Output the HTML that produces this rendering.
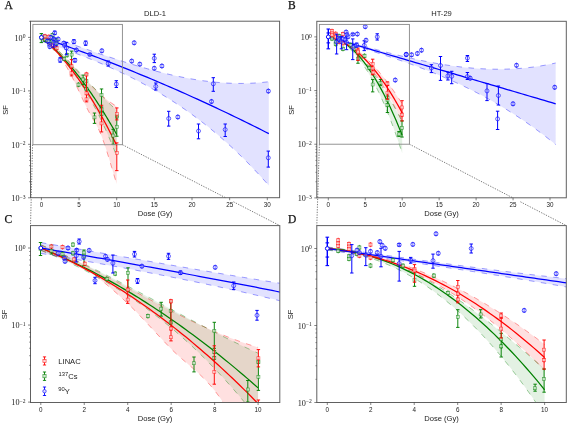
<!DOCTYPE html><html><head><meta charset="utf-8"><style>html,body{margin:0;padding:0;background:#fff;width:568px;height:424px;overflow:hidden}svg{display:block;will-change:transform}</style></head><body>
<svg width="568" height="424" viewBox="0 0 568 424" font-family='"Liberation Sans", sans-serif'>
<rect width="568" height="424" fill="#fff"/>
<defs>
<clipPath id="cA"><rect x="30.5" y="21.2" width="249.10000000000002" height="176.5"/></clipPath>
<clipPath id="cB"><rect x="316.8" y="21.3" width="249.49999999999994" height="176.5"/></clipPath>
<clipPath id="cC"><rect x="30.5" y="225.6" width="249.3" height="176.9"/></clipPath>
<clipPath id="cD"><rect x="316.8" y="225.6" width="249.49999999999994" height="176.9"/></clipPath>
</defs>
<g clip-path="url(#cA)">
<polygon points="41.40,33.66 45.19,34.94 48.98,36.23 52.77,37.53 56.56,38.84 60.35,40.16 64.14,41.47 67.93,42.79 71.72,44.12 75.51,45.44 79.30,46.76 83.09,48.08 86.88,49.39 90.67,50.70 94.46,52.00 98.25,53.30 102.04,54.59 105.83,55.86 109.62,57.12 113.41,58.37 117.20,59.61 120.99,60.83 124.78,62.03 128.57,63.21 132.36,64.38 136.15,65.52 139.94,66.64 143.73,67.73 147.52,68.81 151.31,69.85 155.10,70.87 158.89,71.85 162.68,72.81 166.47,73.73 170.26,74.62 174.05,75.48 177.84,76.30 181.63,77.08 185.42,77.83 189.21,78.53 193.00,79.19 196.79,79.81 200.58,80.39 204.37,80.92 208.16,81.40 211.95,81.84 215.74,82.23 219.53,82.56 223.32,82.85 227.11,83.08 230.91,83.25 234.70,83.37 238.49,83.43 242.28,83.44 246.07,83.38 249.86,83.26 253.65,83.08 257.44,82.84 261.23,82.53 265.02,82.15 268.81,81.71 268.81,185.51 265.02,181.22 261.23,177.02 257.44,172.91 253.65,168.88 249.86,164.94 246.07,161.08 242.28,157.31 238.49,153.62 234.70,150.01 230.91,146.48 227.11,143.02 223.32,139.65 219.53,136.34 215.74,133.12 211.95,129.96 208.16,126.87 204.37,123.86 200.58,120.91 196.79,118.03 193.00,115.22 189.21,112.47 185.42,109.78 181.63,107.15 177.84,104.59 174.05,102.08 170.26,99.63 166.47,97.24 162.68,94.91 158.89,92.62 155.10,90.39 151.31,88.21 147.52,86.08 143.73,84.00 139.94,81.96 136.15,79.97 132.36,78.03 128.57,76.12 124.78,74.26 120.99,72.44 117.20,70.66 113.41,68.92 109.62,67.21 105.83,65.54 102.04,63.90 98.25,62.29 94.46,60.71 90.67,59.17 86.88,57.65 83.09,56.16 79.30,54.69 75.51,53.25 71.72,51.83 67.93,50.43 64.14,49.06 60.35,47.70 56.56,46.36 52.77,45.03 48.98,43.72 45.19,42.43 41.40,41.14" fill="#0000ff" fill-opacity="0.115" stroke="none"/>
<polyline points="41.40,33.66 45.19,34.94 48.98,36.23 52.77,37.53 56.56,38.84 60.35,40.16 64.14,41.47 67.93,42.79 71.72,44.12 75.51,45.44 79.30,46.76 83.09,48.08 86.88,49.39 90.67,50.70 94.46,52.00 98.25,53.30 102.04,54.59 105.83,55.86 109.62,57.12 113.41,58.37 117.20,59.61 120.99,60.83 124.78,62.03 128.57,63.21 132.36,64.38 136.15,65.52 139.94,66.64 143.73,67.73 147.52,68.81 151.31,69.85 155.10,70.87 158.89,71.85 162.68,72.81 166.47,73.73 170.26,74.62 174.05,75.48 177.84,76.30 181.63,77.08 185.42,77.83 189.21,78.53 193.00,79.19 196.79,79.81 200.58,80.39 204.37,80.92 208.16,81.40 211.95,81.84 215.74,82.23 219.53,82.56 223.32,82.85 227.11,83.08 230.91,83.25 234.70,83.37 238.49,83.43 242.28,83.44 246.07,83.38 249.86,83.26 253.65,83.08 257.44,82.84 261.23,82.53 265.02,82.15 268.81,81.71" fill="none" stroke="#0000ff" stroke-opacity="0.42" stroke-width="0.9" stroke-dasharray="5.5,6.5"/>
<polyline points="41.40,41.14 45.19,42.43 48.98,43.72 52.77,45.03 56.56,46.36 60.35,47.70 64.14,49.06 67.93,50.43 71.72,51.83 75.51,53.25 79.30,54.69 83.09,56.16 86.88,57.65 90.67,59.17 94.46,60.71 98.25,62.29 102.04,63.90 105.83,65.54 109.62,67.21 113.41,68.92 117.20,70.66 120.99,72.44 124.78,74.26 128.57,76.12 132.36,78.03 136.15,79.97 139.94,81.96 143.73,84.00 147.52,86.08 151.31,88.21 155.10,90.39 158.89,92.62 162.68,94.91 166.47,97.24 170.26,99.63 174.05,102.08 177.84,104.59 181.63,107.15 185.42,109.78 189.21,112.47 193.00,115.22 196.79,118.03 200.58,120.91 204.37,123.86 208.16,126.87 211.95,129.96 215.74,133.12 219.53,136.34 223.32,139.65 227.11,143.02 230.91,146.48 234.70,150.01 238.49,153.62 242.28,157.31 246.07,161.08 249.86,164.94 253.65,168.88 257.44,172.91 261.23,177.02 265.02,181.22 268.81,185.51" fill="none" stroke="#0000ff" stroke-opacity="0.42" stroke-width="0.9" stroke-dasharray="5.5,6.5"/>
</g>
<g clip-path="url(#cA)">
<polygon points="41.40,35.26 42.66,36.30 43.91,37.36 45.16,38.45 46.42,39.56 47.67,40.69 48.93,41.84 50.19,43.01 51.44,44.20 52.70,45.41 53.95,46.63 55.20,47.87 56.46,49.12 57.71,50.39 58.97,51.67 60.22,52.96 61.48,54.27 62.73,55.58 63.99,56.90 65.25,58.23 66.50,59.56 67.75,60.90 69.01,62.24 70.27,63.59 71.52,64.94 72.78,66.29 74.03,67.64 75.28,68.99 76.54,70.34 77.79,71.68 79.05,73.02 80.31,74.36 81.56,75.69 82.81,77.01 84.07,78.33 85.32,79.64 86.58,80.93 87.84,82.22 89.09,83.49 90.34,84.75 91.60,86.00 92.85,87.23 94.11,88.44 95.37,89.64 96.62,90.82 97.88,91.98 99.13,93.12 100.38,94.24 101.64,95.34 102.89,96.41 104.15,97.46 105.41,98.48 106.66,99.48 107.91,100.45 109.17,101.39 110.42,102.30 111.68,103.18 112.94,104.03 114.19,104.84 115.44,105.63 116.70,106.38 116.70,183.91 115.44,179.88 114.19,175.76 112.94,171.58 111.68,167.36 110.42,163.14 109.17,158.96 107.91,154.84 106.66,150.81 105.41,146.92 104.15,143.18 102.89,139.64 101.64,136.32 100.38,133.26 99.13,130.45 97.88,127.84 96.62,125.41 95.37,123.10 94.11,120.89 92.85,118.73 91.60,116.59 90.34,114.42 89.09,112.18 87.84,109.85 86.58,107.37 85.32,104.81 84.07,102.18 82.81,99.52 81.56,96.82 80.31,94.12 79.05,91.41 77.79,88.71 76.54,86.04 75.28,83.41 74.03,80.83 72.78,78.32 71.52,75.90 70.27,73.54 69.01,71.21 67.75,68.94 66.50,66.71 65.25,64.55 63.99,62.44 62.73,60.40 61.48,58.44 60.22,56.55 58.97,54.74 57.71,53.05 56.46,51.56 55.20,50.26 53.95,49.09 52.70,48.01 51.44,46.98 50.19,45.95 48.93,44.89 47.67,43.82 46.42,42.82 45.16,41.85 43.91,40.91 42.66,39.97 41.40,39.00" fill="#ff0000" fill-opacity="0.12" stroke="none"/>
<polyline points="41.40,35.26 42.66,36.30 43.91,37.36 45.16,38.45 46.42,39.56 47.67,40.69 48.93,41.84 50.19,43.01 51.44,44.20 52.70,45.41 53.95,46.63 55.20,47.87 56.46,49.12 57.71,50.39 58.97,51.67 60.22,52.96 61.48,54.27 62.73,55.58 63.99,56.90 65.25,58.23 66.50,59.56 67.75,60.90 69.01,62.24 70.27,63.59 71.52,64.94 72.78,66.29 74.03,67.64 75.28,68.99 76.54,70.34 77.79,71.68 79.05,73.02 80.31,74.36 81.56,75.69 82.81,77.01 84.07,78.33 85.32,79.64 86.58,80.93 87.84,82.22 89.09,83.49 90.34,84.75 91.60,86.00 92.85,87.23 94.11,88.44 95.37,89.64 96.62,90.82 97.88,91.98 99.13,93.12 100.38,94.24 101.64,95.34 102.89,96.41 104.15,97.46 105.41,98.48 106.66,99.48 107.91,100.45 109.17,101.39 110.42,102.30 111.68,103.18 112.94,104.03 114.19,104.84 115.44,105.63 116.70,106.38" fill="none" stroke="#ff0000" stroke-opacity="0.42" stroke-width="0.9" stroke-dasharray="5.5,6.5"/>
<polyline points="41.40,39.00 42.66,39.97 43.91,40.91 45.16,41.85 46.42,42.82 47.67,43.82 48.93,44.89 50.19,45.95 51.44,46.98 52.70,48.01 53.95,49.09 55.20,50.26 56.46,51.56 57.71,53.05 58.97,54.74 60.22,56.55 61.48,58.44 62.73,60.40 63.99,62.44 65.25,64.55 66.50,66.71 67.75,68.94 69.01,71.21 70.27,73.54 71.52,75.90 72.78,78.32 74.03,80.83 75.28,83.41 76.54,86.04 77.79,88.71 79.05,91.41 80.31,94.12 81.56,96.82 82.81,99.52 84.07,102.18 85.32,104.81 86.58,107.37 87.84,109.85 89.09,112.18 90.34,114.42 91.60,116.59 92.85,118.73 94.11,120.89 95.37,123.10 96.62,125.41 97.88,127.84 99.13,130.45 100.38,133.26 101.64,136.32 102.89,139.64 104.15,143.18 105.41,146.92 106.66,150.81 107.91,154.84 109.17,158.96 110.42,163.14 111.68,167.36 112.94,171.58 114.19,175.76 115.44,179.88 116.70,183.91" fill="none" stroke="#ff0000" stroke-opacity="0.42" stroke-width="0.9" stroke-dasharray="5.5,6.5"/>
</g>
<g clip-path="url(#cA)">
<polygon points="41.40,35.26 42.66,36.28 43.91,37.31 45.16,38.37 46.42,39.44 47.67,40.53 48.93,41.64 50.19,42.76 51.44,43.90 52.70,45.06 53.95,46.23 55.20,47.42 56.46,48.62 57.71,49.83 58.97,51.06 60.22,52.29 61.48,53.54 62.73,54.80 63.99,56.07 65.25,57.35 66.50,58.64 67.75,59.93 69.01,61.24 70.27,62.55 71.52,63.87 72.78,65.19 74.03,66.52 75.28,67.85 76.54,69.19 77.79,70.53 79.05,71.87 80.31,73.21 81.56,74.56 82.81,75.91 84.07,77.25 85.32,78.60 86.58,79.95 87.84,81.29 89.09,82.64 90.34,83.98 91.60,85.31 92.85,86.65 94.11,87.97 95.37,89.30 96.62,90.61 97.88,91.93 99.13,93.23 100.38,94.53 101.64,95.81 102.89,97.09 104.15,98.36 105.41,99.62 106.66,100.87 107.91,102.11 109.17,103.34 110.42,104.55 111.68,105.75 112.94,106.94 114.19,108.11 115.44,109.27 116.70,110.41 116.70,156.24 115.44,153.03 114.19,149.87 112.94,146.76 111.68,143.71 110.42,140.71 109.17,137.76 107.91,134.86 106.66,132.01 105.41,129.21 104.15,126.46 102.89,123.76 101.64,121.10 100.38,118.50 99.13,115.94 97.88,113.42 96.62,110.95 95.37,108.53 94.11,106.15 92.85,103.82 91.60,101.52 90.34,99.28 89.09,97.07 87.84,94.90 86.58,92.78 85.32,90.70 84.07,88.65 82.81,86.65 81.56,84.69 80.31,82.76 79.05,80.87 77.79,79.02 76.54,77.21 75.28,75.43 74.03,73.68 72.78,71.98 71.52,70.30 70.27,68.66 69.01,67.06 67.75,65.48 66.50,63.94 65.25,62.43 63.99,60.95 62.73,59.50 61.48,58.08 60.22,56.70 58.97,55.33 57.71,54.00 56.46,52.70 55.20,51.42 53.95,50.17 52.70,48.95 51.44,47.75 50.19,46.57 48.93,45.42 47.67,44.30 46.42,43.19 45.16,42.11 43.91,41.06 42.66,40.02 41.40,39.00" fill="#008000" fill-opacity="0.1" stroke="none"/>
<polyline points="41.40,35.26 42.66,36.28 43.91,37.31 45.16,38.37 46.42,39.44 47.67,40.53 48.93,41.64 50.19,42.76 51.44,43.90 52.70,45.06 53.95,46.23 55.20,47.42 56.46,48.62 57.71,49.83 58.97,51.06 60.22,52.29 61.48,53.54 62.73,54.80 63.99,56.07 65.25,57.35 66.50,58.64 67.75,59.93 69.01,61.24 70.27,62.55 71.52,63.87 72.78,65.19 74.03,66.52 75.28,67.85 76.54,69.19 77.79,70.53 79.05,71.87 80.31,73.21 81.56,74.56 82.81,75.91 84.07,77.25 85.32,78.60 86.58,79.95 87.84,81.29 89.09,82.64 90.34,83.98 91.60,85.31 92.85,86.65 94.11,87.97 95.37,89.30 96.62,90.61 97.88,91.93 99.13,93.23 100.38,94.53 101.64,95.81 102.89,97.09 104.15,98.36 105.41,99.62 106.66,100.87 107.91,102.11 109.17,103.34 110.42,104.55 111.68,105.75 112.94,106.94 114.19,108.11 115.44,109.27 116.70,110.41" fill="none" stroke="#008000" stroke-opacity="0.42" stroke-width="0.9" stroke-dasharray="5.5,6.5"/>
<polyline points="41.40,39.00 42.66,40.02 43.91,41.06 45.16,42.11 46.42,43.19 47.67,44.30 48.93,45.42 50.19,46.57 51.44,47.75 52.70,48.95 53.95,50.17 55.20,51.42 56.46,52.70 57.71,54.00 58.97,55.33 60.22,56.70 61.48,58.08 62.73,59.50 63.99,60.95 65.25,62.43 66.50,63.94 67.75,65.48 69.01,67.06 70.27,68.66 71.52,70.30 72.78,71.98 74.03,73.68 75.28,75.43 76.54,77.21 77.79,79.02 79.05,80.87 80.31,82.76 81.56,84.69 82.81,86.65 84.07,88.65 85.32,90.70 86.58,92.78 87.84,94.90 89.09,97.07 90.34,99.28 91.60,101.52 92.85,103.82 94.11,106.15 95.37,108.53 96.62,110.95 97.88,113.42 99.13,115.94 100.38,118.50 101.64,121.10 102.89,123.76 104.15,126.46 105.41,129.21 106.66,132.01 107.91,134.86 109.17,137.76 110.42,140.71 111.68,143.71 112.94,146.76 114.19,149.87 115.44,153.03 116.70,156.24" fill="none" stroke="#008000" stroke-opacity="0.42" stroke-width="0.9" stroke-dasharray="5.5,6.5"/>
</g>
<g clip-path="url(#cC)">
<polygon points="40.80,242.61 44.86,243.29 48.91,243.98 52.97,244.67 57.03,245.36 61.08,246.05 65.14,246.74 69.19,247.44 73.25,248.13 77.31,248.83 81.36,249.53 85.42,250.23 89.48,250.93 93.53,251.63 97.59,252.34 101.64,253.04 105.70,253.75 109.76,254.45 113.81,255.16 117.87,255.86 121.93,256.57 125.98,257.28 130.04,257.98 134.09,258.69 138.15,259.39 142.21,260.10 146.26,260.81 150.32,261.51 154.38,262.22 158.43,262.92 162.49,263.63 166.54,264.33 170.60,265.03 174.66,265.73 178.71,266.43 182.77,267.13 186.83,267.83 190.88,268.52 194.94,269.22 198.99,269.91 203.05,270.60 207.11,271.29 211.16,271.98 215.22,272.67 219.28,273.35 223.33,274.03 227.39,274.71 231.44,275.39 235.50,276.06 239.56,276.73 243.61,277.40 247.67,278.07 251.73,278.73 255.78,279.39 259.84,280.05 263.89,280.70 267.95,281.35 272.01,282.00 276.06,282.65 280.12,283.29 284.18,283.92 284.18,301.79 280.12,300.80 276.06,299.83 272.01,298.86 267.95,297.90 263.89,296.94 259.84,296.00 255.78,295.06 251.73,294.13 247.67,293.20 243.61,292.29 239.56,291.38 235.50,290.47 231.44,289.58 227.39,288.69 223.33,287.80 219.28,286.93 215.22,286.06 211.16,285.20 207.11,284.34 203.05,283.49 198.99,282.64 194.94,281.80 190.88,280.97 186.83,280.14 182.77,279.32 178.71,278.51 174.66,277.70 170.60,276.89 166.54,276.09 162.49,275.30 158.43,274.51 154.38,273.72 150.32,272.94 146.26,272.17 142.21,271.40 138.15,270.63 134.09,269.87 130.04,269.12 125.98,268.37 121.93,267.62 117.87,266.87 113.81,266.13 109.76,265.40 105.70,264.67 101.64,263.94 97.59,263.21 93.53,262.49 89.48,261.77 85.42,261.06 81.36,260.35 77.31,259.64 73.25,258.94 69.19,258.23 65.14,257.53 61.08,256.84 57.03,256.14 52.97,255.45 48.91,254.76 44.86,254.08 40.80,253.39" fill="#0000ff" fill-opacity="0.115" stroke="none"/>
<polyline points="40.80,242.61 44.86,243.29 48.91,243.98 52.97,244.67 57.03,245.36 61.08,246.05 65.14,246.74 69.19,247.44 73.25,248.13 77.31,248.83 81.36,249.53 85.42,250.23 89.48,250.93 93.53,251.63 97.59,252.34 101.64,253.04 105.70,253.75 109.76,254.45 113.81,255.16 117.87,255.86 121.93,256.57 125.98,257.28 130.04,257.98 134.09,258.69 138.15,259.39 142.21,260.10 146.26,260.81 150.32,261.51 154.38,262.22 158.43,262.92 162.49,263.63 166.54,264.33 170.60,265.03 174.66,265.73 178.71,266.43 182.77,267.13 186.83,267.83 190.88,268.52 194.94,269.22 198.99,269.91 203.05,270.60 207.11,271.29 211.16,271.98 215.22,272.67 219.28,273.35 223.33,274.03 227.39,274.71 231.44,275.39 235.50,276.06 239.56,276.73 243.61,277.40 247.67,278.07 251.73,278.73 255.78,279.39 259.84,280.05 263.89,280.70 267.95,281.35 272.01,282.00 276.06,282.65 280.12,283.29 284.18,283.92" fill="none" stroke="#0000ff" stroke-opacity="0.42" stroke-width="0.9" stroke-dasharray="5.5,6.5"/>
<polyline points="40.80,253.39 44.86,254.08 48.91,254.76 52.97,255.45 57.03,256.14 61.08,256.84 65.14,257.53 69.19,258.23 73.25,258.94 77.31,259.64 81.36,260.35 85.42,261.06 89.48,261.77 93.53,262.49 97.59,263.21 101.64,263.94 105.70,264.67 109.76,265.40 113.81,266.13 117.87,266.87 121.93,267.62 125.98,268.37 130.04,269.12 134.09,269.87 138.15,270.63 142.21,271.40 146.26,272.17 150.32,272.94 154.38,273.72 158.43,274.51 162.49,275.30 166.54,276.09 170.60,276.89 174.66,277.70 178.71,278.51 182.77,279.32 186.83,280.14 190.88,280.97 194.94,281.80 198.99,282.64 203.05,283.49 207.11,284.34 211.16,285.20 215.22,286.06 219.28,286.93 223.33,287.80 227.39,288.69 231.44,289.58 235.50,290.47 239.56,291.38 243.61,292.29 247.67,293.20 251.73,294.13 255.78,295.06 259.84,296.00 263.89,296.94 267.95,297.90 272.01,298.86 276.06,299.83 280.12,300.80 284.18,301.79" fill="none" stroke="#0000ff" stroke-opacity="0.42" stroke-width="0.9" stroke-dasharray="5.5,6.5"/>
</g>
<g clip-path="url(#cC)">
<polygon points="40.80,244.92 44.42,246.41 48.04,247.94 51.66,249.51 55.29,251.11 58.91,252.74 62.53,254.40 66.15,256.08 69.77,257.80 73.39,259.54 77.02,261.30 80.64,263.09 84.26,264.90 87.88,266.72 91.50,268.57 95.12,270.43 98.75,272.31 102.37,274.20 105.99,276.10 109.61,278.01 113.23,279.93 116.86,281.86 120.48,283.80 124.10,285.74 127.72,287.68 131.34,289.63 134.96,291.58 138.58,293.52 142.21,295.46 145.83,297.40 149.45,299.33 153.07,301.26 156.69,303.18 160.31,305.08 163.94,306.98 167.56,308.86 171.18,310.73 174.80,312.58 178.42,314.42 182.05,316.23 185.67,318.03 189.29,319.80 192.91,321.55 196.53,323.28 200.15,324.98 203.77,326.65 207.40,328.29 211.02,329.91 214.64,331.49 218.26,333.03 221.88,334.54 225.50,336.02 229.13,337.45 232.75,338.85 236.37,340.20 239.99,341.52 243.61,342.79 247.24,344.01 250.86,345.19 254.48,346.32 258.10,347.39 258.10,459.12 254.48,453.32 250.86,447.38 247.24,441.35 243.61,435.27 239.99,429.20 236.37,423.17 232.75,417.23 229.13,411.43 225.50,405.81 221.88,400.43 218.26,395.32 214.64,390.54 211.02,386.13 207.40,382.08 203.77,378.33 200.15,374.82 196.53,371.50 192.91,368.31 189.29,365.20 185.67,362.11 182.05,358.98 178.42,355.76 174.80,352.40 171.18,348.83 167.56,345.13 163.94,341.35 160.31,337.51 156.69,333.63 153.07,329.73 149.45,325.82 145.83,321.94 142.21,318.09 138.58,314.30 134.96,310.59 131.34,306.97 127.72,303.48 124.10,300.07 120.48,296.73 116.86,293.45 113.23,290.24 109.61,287.12 105.99,284.08 102.37,281.15 98.75,278.31 95.12,275.59 91.50,272.99 87.88,270.55 84.26,268.41 80.64,266.53 77.02,264.84 73.39,263.29 69.77,261.81 66.15,260.33 62.53,258.79 58.91,257.25 55.29,255.80 51.66,254.42 48.04,253.06 44.42,251.70 40.80,250.31" fill="#ff0000" fill-opacity="0.12" stroke="none"/>
<polyline points="40.80,244.92 44.42,246.41 48.04,247.94 51.66,249.51 55.29,251.11 58.91,252.74 62.53,254.40 66.15,256.08 69.77,257.80 73.39,259.54 77.02,261.30 80.64,263.09 84.26,264.90 87.88,266.72 91.50,268.57 95.12,270.43 98.75,272.31 102.37,274.20 105.99,276.10 109.61,278.01 113.23,279.93 116.86,281.86 120.48,283.80 124.10,285.74 127.72,287.68 131.34,289.63 134.96,291.58 138.58,293.52 142.21,295.46 145.83,297.40 149.45,299.33 153.07,301.26 156.69,303.18 160.31,305.08 163.94,306.98 167.56,308.86 171.18,310.73 174.80,312.58 178.42,314.42 182.05,316.23 185.67,318.03 189.29,319.80 192.91,321.55 196.53,323.28 200.15,324.98 203.77,326.65 207.40,328.29 211.02,329.91 214.64,331.49 218.26,333.03 221.88,334.54 225.50,336.02 229.13,337.45 232.75,338.85 236.37,340.20 239.99,341.52 243.61,342.79 247.24,344.01 250.86,345.19 254.48,346.32 258.10,347.39" fill="none" stroke="#ff0000" stroke-opacity="0.42" stroke-width="0.9" stroke-dasharray="5.5,6.5"/>
<polyline points="40.80,250.31 44.42,251.70 48.04,253.06 51.66,254.42 55.29,255.80 58.91,257.25 62.53,258.79 66.15,260.33 69.77,261.81 73.39,263.29 77.02,264.84 80.64,266.53 84.26,268.41 87.88,270.55 91.50,272.99 95.12,275.59 98.75,278.31 102.37,281.15 105.99,284.08 109.61,287.12 113.23,290.24 116.86,293.45 120.48,296.73 124.10,300.07 127.72,303.48 131.34,306.97 134.96,310.59 138.58,314.30 142.21,318.09 145.83,321.94 149.45,325.82 153.07,329.73 156.69,333.63 160.31,337.51 163.94,341.35 167.56,345.13 171.18,348.83 174.80,352.40 178.42,355.76 182.05,358.98 185.67,362.11 189.29,365.20 192.91,368.31 196.53,371.50 200.15,374.82 203.77,378.33 207.40,382.08 211.02,386.13 214.64,390.54 218.26,395.32 221.88,400.43 225.50,405.81 229.13,411.43 232.75,417.23 236.37,423.17 239.99,429.20 243.61,435.27 247.24,441.35 250.86,447.38 254.48,453.32 258.10,459.12" fill="none" stroke="#ff0000" stroke-opacity="0.42" stroke-width="0.9" stroke-dasharray="5.5,6.5"/>
</g>
<g clip-path="url(#cC)">
<polygon points="40.80,244.92 44.42,246.38 48.04,247.87 51.66,249.39 55.29,250.94 58.91,252.51 62.53,254.11 66.15,255.73 69.77,257.37 73.39,259.04 77.02,260.73 80.64,262.44 84.26,264.17 87.88,265.91 91.50,267.68 95.12,269.46 98.75,271.26 102.37,273.08 105.99,274.91 109.61,276.75 113.23,278.60 116.86,280.47 120.48,282.35 124.10,284.24 127.72,286.14 131.34,288.04 134.96,289.96 138.58,291.88 142.21,293.80 145.83,295.73 149.45,297.67 153.07,299.61 156.69,301.55 160.31,303.49 163.94,305.43 167.56,307.37 171.18,309.31 174.80,311.25 178.42,313.18 182.05,315.12 185.67,317.04 189.29,318.96 192.91,320.88 196.53,322.78 200.15,324.68 203.77,326.57 207.40,328.45 211.02,330.32 214.64,332.18 218.26,334.02 221.88,335.85 225.50,337.67 229.13,339.47 232.75,341.25 236.37,343.02 239.99,344.77 243.61,346.50 247.24,348.21 250.86,349.90 254.48,351.57 258.10,353.21 258.10,419.24 254.48,414.62 250.86,410.06 247.24,405.59 243.61,401.19 239.99,396.87 236.37,392.62 232.75,388.44 229.13,384.33 225.50,380.30 221.88,376.33 218.26,372.44 214.64,368.62 211.02,364.86 207.40,361.17 203.77,357.55 200.15,353.99 196.53,350.50 192.91,347.07 189.29,343.71 185.67,340.40 182.05,337.16 178.42,333.98 174.80,330.86 171.18,327.80 167.56,324.80 163.94,321.86 160.31,318.97 156.69,316.14 153.07,313.36 149.45,310.64 145.83,307.97 142.21,305.36 138.58,302.80 134.96,300.28 131.34,297.82 127.72,295.41 124.10,293.05 120.48,290.73 116.86,288.47 113.23,286.24 109.61,284.07 105.99,281.94 102.37,279.85 98.75,277.81 95.12,275.80 91.50,273.84 87.88,271.92 84.26,270.05 80.64,268.20 77.02,266.40 73.39,264.64 69.77,262.91 66.15,261.22 62.53,259.56 58.91,257.94 55.29,256.35 51.66,254.79 48.04,253.27 44.42,251.77 40.80,250.31" fill="#008000" fill-opacity="0.1" stroke="none"/>
<polyline points="40.80,244.92 44.42,246.38 48.04,247.87 51.66,249.39 55.29,250.94 58.91,252.51 62.53,254.11 66.15,255.73 69.77,257.37 73.39,259.04 77.02,260.73 80.64,262.44 84.26,264.17 87.88,265.91 91.50,267.68 95.12,269.46 98.75,271.26 102.37,273.08 105.99,274.91 109.61,276.75 113.23,278.60 116.86,280.47 120.48,282.35 124.10,284.24 127.72,286.14 131.34,288.04 134.96,289.96 138.58,291.88 142.21,293.80 145.83,295.73 149.45,297.67 153.07,299.61 156.69,301.55 160.31,303.49 163.94,305.43 167.56,307.37 171.18,309.31 174.80,311.25 178.42,313.18 182.05,315.12 185.67,317.04 189.29,318.96 192.91,320.88 196.53,322.78 200.15,324.68 203.77,326.57 207.40,328.45 211.02,330.32 214.64,332.18 218.26,334.02 221.88,335.85 225.50,337.67 229.13,339.47 232.75,341.25 236.37,343.02 239.99,344.77 243.61,346.50 247.24,348.21 250.86,349.90 254.48,351.57 258.10,353.21" fill="none" stroke="#008000" stroke-opacity="0.42" stroke-width="0.9" stroke-dasharray="5.5,6.5"/>
<polyline points="40.80,250.31 44.42,251.77 48.04,253.27 51.66,254.79 55.29,256.35 58.91,257.94 62.53,259.56 66.15,261.22 69.77,262.91 73.39,264.64 77.02,266.40 80.64,268.20 84.26,270.05 87.88,271.92 91.50,273.84 95.12,275.80 98.75,277.81 102.37,279.85 105.99,281.94 109.61,284.07 113.23,286.24 116.86,288.47 120.48,290.73 124.10,293.05 127.72,295.41 131.34,297.82 134.96,300.28 138.58,302.80 142.21,305.36 145.83,307.97 149.45,310.64 153.07,313.36 156.69,316.14 160.31,318.97 163.94,321.86 167.56,324.80 171.18,327.80 174.80,330.86 178.42,333.98 182.05,337.16 185.67,340.40 189.29,343.71 192.91,347.07 196.53,350.50 200.15,353.99 203.77,357.55 207.40,361.17 211.02,364.86 214.64,368.62 218.26,372.44 221.88,376.33 225.50,380.30 229.13,384.33 232.75,388.44 236.37,392.62 239.99,396.87 243.61,401.19 247.24,405.59 250.86,410.06 254.48,414.62 258.10,419.24" fill="none" stroke="#008000" stroke-opacity="0.42" stroke-width="0.9" stroke-dasharray="5.5,6.5"/>
</g>
<g clip-path="url(#cB)">
<polygon points="328.30,35.83 332.09,36.94 335.88,38.05 339.67,39.17 343.46,40.27 347.25,41.38 351.04,42.48 354.83,43.57 358.62,44.65 362.41,45.72 366.20,46.79 369.99,47.84 373.78,48.89 377.57,49.91 381.36,50.93 385.15,51.93 388.94,52.91 392.73,53.87 396.52,54.82 400.31,55.75 404.10,56.65 407.89,57.53 411.68,58.39 415.47,59.23 419.26,60.04 423.05,60.82 426.84,61.58 430.63,62.30 434.42,63.00 438.21,63.67 442.00,64.30 445.78,64.91 449.57,65.47 453.36,66.00 457.15,66.50 460.94,66.96 464.73,67.38 468.52,67.76 472.31,68.10 476.10,68.39 479.89,68.65 483.68,68.86 487.47,69.02 491.26,69.14 495.05,69.21 498.84,69.23 502.63,69.21 506.42,69.13 510.21,69.00 514.00,68.82 517.79,68.58 521.58,68.29 525.37,67.94 529.16,67.53 532.95,67.07 536.74,66.55 540.53,65.96 544.32,65.32 548.11,64.61 551.90,63.83 555.69,62.99 555.69,144.57 551.90,141.50 548.11,138.50 544.32,135.56 540.53,132.69 536.74,129.87 532.95,127.12 529.16,124.43 525.37,121.79 521.58,119.21 517.79,116.69 514.00,114.23 510.21,111.81 506.42,109.45 502.63,107.15 498.84,104.89 495.05,102.68 491.26,100.52 487.47,98.41 483.68,96.35 479.89,94.33 476.10,92.35 472.31,90.42 468.52,88.53 464.73,86.68 460.94,84.87 457.15,83.10 453.36,81.37 449.57,79.67 445.78,78.01 442.00,76.38 438.21,74.78 434.42,73.22 430.63,71.69 426.84,70.19 423.05,68.71 419.26,67.27 415.47,65.85 411.68,64.45 407.89,63.09 404.10,61.74 400.31,60.41 396.52,59.11 392.73,57.83 388.94,56.56 385.15,55.31 381.36,54.08 377.57,52.87 373.78,51.67 369.99,50.48 366.20,49.30 362.41,48.14 358.62,46.99 354.83,45.84 351.04,44.70 347.25,43.57 343.46,42.44 339.67,41.32 335.88,40.20 332.09,39.09 328.30,37.97" fill="#0000ff" fill-opacity="0.115" stroke="none"/>
<polyline points="328.30,35.83 332.09,36.94 335.88,38.05 339.67,39.17 343.46,40.27 347.25,41.38 351.04,42.48 354.83,43.57 358.62,44.65 362.41,45.72 366.20,46.79 369.99,47.84 373.78,48.89 377.57,49.91 381.36,50.93 385.15,51.93 388.94,52.91 392.73,53.87 396.52,54.82 400.31,55.75 404.10,56.65 407.89,57.53 411.68,58.39 415.47,59.23 419.26,60.04 423.05,60.82 426.84,61.58 430.63,62.30 434.42,63.00 438.21,63.67 442.00,64.30 445.78,64.91 449.57,65.47 453.36,66.00 457.15,66.50 460.94,66.96 464.73,67.38 468.52,67.76 472.31,68.10 476.10,68.39 479.89,68.65 483.68,68.86 487.47,69.02 491.26,69.14 495.05,69.21 498.84,69.23 502.63,69.21 506.42,69.13 510.21,69.00 514.00,68.82 517.79,68.58 521.58,68.29 525.37,67.94 529.16,67.53 532.95,67.07 536.74,66.55 540.53,65.96 544.32,65.32 548.11,64.61 551.90,63.83 555.69,62.99" fill="none" stroke="#0000ff" stroke-opacity="0.42" stroke-width="0.9" stroke-dasharray="5.5,6.5"/>
<polyline points="328.30,37.97 332.09,39.09 335.88,40.20 339.67,41.32 343.46,42.44 347.25,43.57 351.04,44.70 354.83,45.84 358.62,46.99 362.41,48.14 366.20,49.30 369.99,50.48 373.78,51.67 377.57,52.87 381.36,54.08 385.15,55.31 388.94,56.56 392.73,57.83 396.52,59.11 400.31,60.41 404.10,61.74 407.89,63.09 411.68,64.45 415.47,65.85 419.26,67.27 423.05,68.71 426.84,70.19 430.63,71.69 434.42,73.22 438.21,74.78 442.00,76.38 445.78,78.01 449.57,79.67 453.36,81.37 457.15,83.10 460.94,84.87 464.73,86.68 468.52,88.53 472.31,90.42 476.10,92.35 479.89,94.33 483.68,96.35 487.47,98.41 491.26,100.52 495.05,102.68 498.84,104.89 502.63,107.15 506.42,109.45 510.21,111.81 514.00,114.23 517.79,116.69 521.58,119.21 525.37,121.79 529.16,124.43 532.95,127.12 536.74,129.87 540.53,132.69 544.32,135.56 548.11,138.50 551.90,141.50 555.69,144.57" fill="none" stroke="#0000ff" stroke-opacity="0.42" stroke-width="0.9" stroke-dasharray="5.5,6.5"/>
</g>
<g clip-path="url(#cB)">
<polygon points="328.30,36.36 329.53,36.62 330.76,36.90 332.00,37.22 333.23,37.58 334.46,37.96 335.69,38.38 336.92,38.82 338.15,39.30 339.38,39.81 340.62,40.35 341.85,40.92 343.08,41.53 344.31,42.16 345.54,42.82 346.78,43.51 348.01,44.23 349.24,44.99 350.47,45.77 351.70,46.58 352.93,47.42 354.17,48.29 355.40,49.18 356.63,50.11 357.86,51.07 359.09,52.05 360.32,53.06 361.56,54.11 362.79,55.18 364.02,56.27 365.25,57.40 366.48,58.55 367.71,59.74 368.94,60.95 370.18,62.18 371.41,63.45 372.64,64.74 373.87,66.06 375.10,67.41 376.34,68.78 377.57,70.18 378.80,71.61 380.03,73.07 381.26,74.55 382.49,76.06 383.73,77.59 384.96,79.16 386.19,80.75 387.42,82.36 388.65,84.00 389.88,85.67 391.12,87.36 392.35,89.08 393.58,90.83 394.81,92.60 396.04,94.40 397.27,96.22 398.50,98.07 399.74,99.95 400.97,101.85 402.20,103.77 402.20,122.02 400.97,119.39 399.74,116.80 398.50,114.25 397.27,111.75 396.04,109.29 394.81,106.87 393.58,104.50 392.35,102.17 391.12,99.88 389.88,97.63 388.65,95.43 387.42,93.27 386.19,91.15 384.96,89.07 383.73,87.04 382.49,85.04 381.26,83.09 380.03,81.18 378.80,79.32 377.57,77.49 376.34,75.71 375.10,73.96 373.87,72.26 372.64,70.60 371.41,68.99 370.18,67.41 368.94,65.87 367.71,64.38 366.48,62.92 365.25,61.51 364.02,60.14 362.79,58.80 361.56,57.51 360.32,56.26 359.09,55.05 357.86,53.88 356.63,52.75 355.40,51.66 354.17,50.60 352.93,49.59 351.70,48.62 350.47,47.69 349.24,46.79 348.01,45.94 346.78,45.12 345.54,44.34 344.31,43.61 343.08,42.91 341.85,42.24 340.62,41.62 339.38,41.03 338.15,40.49 336.92,39.98 335.69,39.50 334.46,39.07 333.23,38.67 332.00,38.31 330.76,37.98 329.53,37.69 328.30,37.44" fill="#ff0000" fill-opacity="0.12" stroke="none"/>
<polyline points="328.30,36.36 329.53,36.62 330.76,36.90 332.00,37.22 333.23,37.58 334.46,37.96 335.69,38.38 336.92,38.82 338.15,39.30 339.38,39.81 340.62,40.35 341.85,40.92 343.08,41.53 344.31,42.16 345.54,42.82 346.78,43.51 348.01,44.23 349.24,44.99 350.47,45.77 351.70,46.58 352.93,47.42 354.17,48.29 355.40,49.18 356.63,50.11 357.86,51.07 359.09,52.05 360.32,53.06 361.56,54.11 362.79,55.18 364.02,56.27 365.25,57.40 366.48,58.55 367.71,59.74 368.94,60.95 370.18,62.18 371.41,63.45 372.64,64.74 373.87,66.06 375.10,67.41 376.34,68.78 377.57,70.18 378.80,71.61 380.03,73.07 381.26,74.55 382.49,76.06 383.73,77.59 384.96,79.16 386.19,80.75 387.42,82.36 388.65,84.00 389.88,85.67 391.12,87.36 392.35,89.08 393.58,90.83 394.81,92.60 396.04,94.40 397.27,96.22 398.50,98.07 399.74,99.95 400.97,101.85 402.20,103.77" fill="none" stroke="#ff0000" stroke-opacity="0.42" stroke-width="0.9" stroke-dasharray="5.5,6.5"/>
<polyline points="328.30,37.44 329.53,37.69 330.76,37.98 332.00,38.31 333.23,38.67 334.46,39.07 335.69,39.50 336.92,39.98 338.15,40.49 339.38,41.03 340.62,41.62 341.85,42.24 343.08,42.91 344.31,43.61 345.54,44.34 346.78,45.12 348.01,45.94 349.24,46.79 350.47,47.69 351.70,48.62 352.93,49.59 354.17,50.60 355.40,51.66 356.63,52.75 357.86,53.88 359.09,55.05 360.32,56.26 361.56,57.51 362.79,58.80 364.02,60.14 365.25,61.51 366.48,62.92 367.71,64.38 368.94,65.87 370.18,67.41 371.41,68.99 372.64,70.60 373.87,72.26 375.10,73.96 376.34,75.71 377.57,77.49 378.80,79.32 380.03,81.18 381.26,83.09 382.49,85.04 383.73,87.04 384.96,89.07 386.19,91.15 387.42,93.27 388.65,95.43 389.88,97.63 391.12,99.88 392.35,102.17 393.58,104.50 394.81,106.87 396.04,109.29 397.27,111.75 398.50,114.25 399.74,116.80 400.97,119.39 402.20,122.02" fill="none" stroke="#ff0000" stroke-opacity="0.42" stroke-width="0.9" stroke-dasharray="5.5,6.5"/>
</g>
<g clip-path="url(#cB)">
<polygon points="328.30,36.36 329.53,36.54 330.76,36.77 332.00,37.05 333.23,37.37 334.46,37.75 335.69,38.18 336.92,38.65 338.15,39.18 339.38,39.75 340.62,40.37 341.85,41.04 343.08,41.76 344.31,42.52 345.54,43.33 346.78,44.19 348.01,45.10 349.24,46.05 350.47,47.05 351.70,48.09 352.93,49.18 354.17,50.32 355.40,51.49 356.63,52.71 357.86,53.98 359.09,55.28 360.32,56.63 361.56,58.02 362.79,59.44 364.02,60.91 365.25,62.42 366.48,63.96 367.71,65.54 368.94,67.16 370.18,68.81 371.41,70.50 372.64,72.22 373.87,73.98 375.10,75.76 376.34,77.58 377.57,79.43 378.80,81.30 380.03,83.21 381.26,85.14 382.49,87.09 383.73,89.07 384.96,91.08 386.19,93.10 387.42,95.15 388.65,97.22 389.88,99.30 391.12,101.41 392.35,103.53 393.58,105.66 394.81,107.81 396.04,109.97 397.27,112.13 398.50,114.31 399.74,116.50 400.97,118.69 402.20,120.89 402.20,153.20 400.97,149.41 399.74,145.68 398.50,142.02 397.27,138.43 396.04,134.90 394.81,131.44 393.58,128.05 392.35,124.72 391.12,121.46 389.88,118.26 388.65,115.13 387.42,112.07 386.19,109.06 384.96,106.13 383.73,103.26 382.49,100.45 381.26,97.71 380.03,95.03 378.80,92.42 377.57,89.87 376.34,87.39 375.10,84.96 373.87,82.61 372.64,80.31 371.41,78.08 370.18,75.91 368.94,73.80 367.71,71.76 366.48,69.78 365.25,67.86 364.02,66.00 362.79,64.21 361.56,62.47 360.32,60.80 359.09,59.19 357.86,57.64 356.63,56.15 355.40,54.72 354.17,53.35 352.93,52.04 351.70,50.79 350.47,49.60 349.24,48.47 348.01,47.40 346.78,46.38 345.54,45.43 344.31,44.53 343.08,43.69 341.85,42.91 340.62,42.18 339.38,41.51 338.15,40.90 336.92,40.34 335.69,39.84 334.46,39.40 333.23,39.00 332.00,38.67 330.76,38.38 329.53,38.15 328.30,37.97" fill="#008000" fill-opacity="0.11" stroke="none"/>
<polyline points="328.30,36.36 329.53,36.54 330.76,36.77 332.00,37.05 333.23,37.37 334.46,37.75 335.69,38.18 336.92,38.65 338.15,39.18 339.38,39.75 340.62,40.37 341.85,41.04 343.08,41.76 344.31,42.52 345.54,43.33 346.78,44.19 348.01,45.10 349.24,46.05 350.47,47.05 351.70,48.09 352.93,49.18 354.17,50.32 355.40,51.49 356.63,52.71 357.86,53.98 359.09,55.28 360.32,56.63 361.56,58.02 362.79,59.44 364.02,60.91 365.25,62.42 366.48,63.96 367.71,65.54 368.94,67.16 370.18,68.81 371.41,70.50 372.64,72.22 373.87,73.98 375.10,75.76 376.34,77.58 377.57,79.43 378.80,81.30 380.03,83.21 381.26,85.14 382.49,87.09 383.73,89.07 384.96,91.08 386.19,93.10 387.42,95.15 388.65,97.22 389.88,99.30 391.12,101.41 392.35,103.53 393.58,105.66 394.81,107.81 396.04,109.97 397.27,112.13 398.50,114.31 399.74,116.50 400.97,118.69 402.20,120.89" fill="none" stroke="#008000" stroke-opacity="0.42" stroke-width="0.9" stroke-dasharray="5.5,6.5"/>
<polyline points="328.30,37.97 329.53,38.15 330.76,38.38 332.00,38.67 333.23,39.00 334.46,39.40 335.69,39.84 336.92,40.34 338.15,40.90 339.38,41.51 340.62,42.18 341.85,42.91 343.08,43.69 344.31,44.53 345.54,45.43 346.78,46.38 348.01,47.40 349.24,48.47 350.47,49.60 351.70,50.79 352.93,52.04 354.17,53.35 355.40,54.72 356.63,56.15 357.86,57.64 359.09,59.19 360.32,60.80 361.56,62.47 362.79,64.21 364.02,66.00 365.25,67.86 366.48,69.78 367.71,71.76 368.94,73.80 370.18,75.91 371.41,78.08 372.64,80.31 373.87,82.61 375.10,84.96 376.34,87.39 377.57,89.87 378.80,92.42 380.03,95.03 381.26,97.71 382.49,100.45 383.73,103.26 384.96,106.13 386.19,109.06 387.42,112.07 388.65,115.13 389.88,118.26 391.12,121.46 392.35,124.72 393.58,128.05 394.81,131.44 396.04,134.90 397.27,138.43 398.50,142.02 399.74,145.68 400.97,149.41 402.20,153.20" fill="none" stroke="#008000" stroke-opacity="0.42" stroke-width="0.9" stroke-dasharray="5.5,6.5"/>
</g>
<g clip-path="url(#cD)">
<polygon points="327.30,246.96 331.36,247.54 335.41,248.12 339.47,248.71 343.53,249.29 347.58,249.87 351.64,250.45 355.69,251.03 359.75,251.61 363.81,252.19 367.86,252.77 371.92,253.35 375.98,253.92 380.03,254.50 384.09,255.07 388.14,255.65 392.20,256.22 396.26,256.79 400.31,257.36 404.37,257.93 408.43,258.50 412.48,259.07 416.54,259.63 420.59,260.19 424.65,260.76 428.71,261.31 432.76,261.87 436.82,262.43 440.88,262.98 444.93,263.53 448.99,264.08 453.04,264.63 457.10,265.17 461.16,265.71 465.21,266.25 469.27,266.79 473.33,267.32 477.38,267.85 481.44,268.38 485.49,268.91 489.55,269.43 493.61,269.95 497.66,270.47 501.72,270.98 505.78,271.49 509.83,272.00 513.89,272.50 517.94,273.00 522.00,273.49 526.06,273.99 530.11,274.48 534.17,274.96 538.23,275.44 542.28,275.92 546.34,276.39 550.39,276.86 554.45,277.32 558.51,277.78 562.56,278.24 566.62,278.69 570.68,279.14 570.68,287.71 566.62,287.00 562.56,286.28 558.51,285.58 554.45,284.87 550.39,284.17 546.34,283.48 542.28,282.79 538.23,282.10 534.17,281.42 530.11,280.74 526.06,280.06 522.00,279.39 517.94,278.72 513.89,278.06 509.83,277.39 505.78,276.74 501.72,276.08 497.66,275.43 493.61,274.78 489.55,274.14 485.49,273.50 481.44,272.86 477.38,272.22 473.33,271.59 469.27,270.96 465.21,270.33 461.16,269.71 457.10,269.08 453.04,268.46 448.99,267.85 444.93,267.23 440.88,266.62 436.82,266.01 432.76,265.40 428.71,264.79 424.65,264.19 420.59,263.58 416.54,262.98 412.48,262.38 408.43,261.78 404.37,261.19 400.31,260.59 396.26,260.00 392.20,259.41 388.14,258.81 384.09,258.22 380.03,257.64 375.98,257.05 371.92,256.46 367.86,255.87 363.81,255.29 359.75,254.70 355.69,254.12 351.64,253.54 347.58,252.95 343.53,252.37 339.47,251.79 335.41,251.20 331.36,250.62 327.30,250.04" fill="#0000ff" fill-opacity="0.115" stroke="none"/>
<polyline points="327.30,246.96 331.36,247.54 335.41,248.12 339.47,248.71 343.53,249.29 347.58,249.87 351.64,250.45 355.69,251.03 359.75,251.61 363.81,252.19 367.86,252.77 371.92,253.35 375.98,253.92 380.03,254.50 384.09,255.07 388.14,255.65 392.20,256.22 396.26,256.79 400.31,257.36 404.37,257.93 408.43,258.50 412.48,259.07 416.54,259.63 420.59,260.19 424.65,260.76 428.71,261.31 432.76,261.87 436.82,262.43 440.88,262.98 444.93,263.53 448.99,264.08 453.04,264.63 457.10,265.17 461.16,265.71 465.21,266.25 469.27,266.79 473.33,267.32 477.38,267.85 481.44,268.38 485.49,268.91 489.55,269.43 493.61,269.95 497.66,270.47 501.72,270.98 505.78,271.49 509.83,272.00 513.89,272.50 517.94,273.00 522.00,273.49 526.06,273.99 530.11,274.48 534.17,274.96 538.23,275.44 542.28,275.92 546.34,276.39 550.39,276.86 554.45,277.32 558.51,277.78 562.56,278.24 566.62,278.69 570.68,279.14" fill="none" stroke="#0000ff" stroke-opacity="0.42" stroke-width="0.9" stroke-dasharray="5.5,6.5"/>
<polyline points="327.30,250.04 331.36,250.62 335.41,251.20 339.47,251.79 343.53,252.37 347.58,252.95 351.64,253.54 355.69,254.12 359.75,254.70 363.81,255.29 367.86,255.87 371.92,256.46 375.98,257.05 380.03,257.64 384.09,258.22 388.14,258.81 392.20,259.41 396.26,260.00 400.31,260.59 404.37,261.19 408.43,261.78 412.48,262.38 416.54,262.98 420.59,263.58 424.65,264.19 428.71,264.79 432.76,265.40 436.82,266.01 440.88,266.62 444.93,267.23 448.99,267.85 453.04,268.46 457.10,269.08 461.16,269.71 465.21,270.33 469.27,270.96 473.33,271.59 477.38,272.22 481.44,272.86 485.49,273.50 489.55,274.14 493.61,274.78 497.66,275.43 501.72,276.08 505.78,276.74 509.83,277.39 513.89,278.06 517.94,278.72 522.00,279.39 526.06,280.06 530.11,280.74 534.17,281.42 538.23,282.10 542.28,282.79 546.34,283.48 550.39,284.17 554.45,284.87 558.51,285.58 562.56,286.28 566.62,287.00 570.68,287.71" fill="none" stroke="#0000ff" stroke-opacity="0.42" stroke-width="0.9" stroke-dasharray="5.5,6.5"/>
</g>
<g clip-path="url(#cD)">
<polygon points="327.30,247.73 330.92,248.09 334.54,248.51 338.17,248.96 341.79,249.47 345.41,250.02 349.03,250.62 352.65,251.26 356.27,251.95 359.89,252.68 363.52,253.45 367.14,254.27 370.76,255.14 374.38,256.04 378.00,256.99 381.62,257.99 385.25,259.02 388.87,260.10 392.49,261.22 396.11,262.38 399.73,263.59 403.36,264.84 406.98,266.12 410.60,267.45 414.22,268.83 417.84,270.24 421.46,271.69 425.09,273.19 428.71,274.72 432.33,276.30 435.95,277.91 439.57,279.57 443.19,281.26 446.81,283.00 450.44,284.77 454.06,286.59 457.68,288.44 461.30,290.34 464.92,292.27 468.55,294.24 472.17,296.25 475.79,298.30 479.41,300.39 483.03,302.52 486.65,304.68 490.27,306.88 493.90,309.13 497.52,311.41 501.14,313.72 504.76,316.08 508.38,318.47 512.00,320.90 515.63,323.37 519.25,325.87 522.87,328.41 526.49,330.99 530.11,333.61 533.74,336.26 537.36,338.95 540.98,341.68 544.60,344.44 544.60,370.62 540.98,366.85 537.36,363.13 533.74,359.48 530.11,355.89 526.49,352.36 522.87,348.89 519.25,345.48 515.63,342.14 512.00,338.85 508.38,335.63 504.76,332.47 501.14,329.37 497.52,326.33 493.90,323.35 490.27,320.43 486.65,317.57 483.03,314.77 479.41,312.03 475.79,309.35 472.17,306.73 468.55,304.18 464.92,301.68 461.30,299.24 457.68,296.85 454.06,294.53 450.44,292.27 446.81,290.07 443.19,287.92 439.57,285.84 435.95,283.81 432.33,281.84 428.71,279.93 425.09,278.07 421.46,276.28 417.84,274.54 414.22,272.86 410.60,271.24 406.98,269.67 403.36,268.16 399.73,266.71 396.11,265.31 392.49,263.98 388.87,262.69 385.25,261.47 381.62,260.30 378.00,259.18 374.38,258.12 370.76,257.12 367.14,256.17 363.52,255.27 359.89,254.43 356.27,253.65 352.65,252.91 349.03,252.24 345.41,251.61 341.79,251.04 338.17,250.52 334.54,250.05 330.92,249.64 327.30,249.27" fill="#ff0000" fill-opacity="0.12" stroke="none"/>
<polyline points="327.30,247.73 330.92,248.09 334.54,248.51 338.17,248.96 341.79,249.47 345.41,250.02 349.03,250.62 352.65,251.26 356.27,251.95 359.89,252.68 363.52,253.45 367.14,254.27 370.76,255.14 374.38,256.04 378.00,256.99 381.62,257.99 385.25,259.02 388.87,260.10 392.49,261.22 396.11,262.38 399.73,263.59 403.36,264.84 406.98,266.12 410.60,267.45 414.22,268.83 417.84,270.24 421.46,271.69 425.09,273.19 428.71,274.72 432.33,276.30 435.95,277.91 439.57,279.57 443.19,281.26 446.81,283.00 450.44,284.77 454.06,286.59 457.68,288.44 461.30,290.34 464.92,292.27 468.55,294.24 472.17,296.25 475.79,298.30 479.41,300.39 483.03,302.52 486.65,304.68 490.27,306.88 493.90,309.13 497.52,311.41 501.14,313.72 504.76,316.08 508.38,318.47 512.00,320.90 515.63,323.37 519.25,325.87 522.87,328.41 526.49,330.99 530.11,333.61 533.74,336.26 537.36,338.95 540.98,341.68 544.60,344.44" fill="none" stroke="#ff0000" stroke-opacity="0.42" stroke-width="0.9" stroke-dasharray="5.5,6.5"/>
<polyline points="327.30,249.27 330.92,249.64 334.54,250.05 338.17,250.52 341.79,251.04 345.41,251.61 349.03,252.24 352.65,252.91 356.27,253.65 359.89,254.43 363.52,255.27 367.14,256.17 370.76,257.12 374.38,258.12 378.00,259.18 381.62,260.30 385.25,261.47 388.87,262.69 392.49,263.98 396.11,265.31 399.73,266.71 403.36,268.16 406.98,269.67 410.60,271.24 414.22,272.86 417.84,274.54 421.46,276.28 425.09,278.07 428.71,279.93 432.33,281.84 435.95,283.81 439.57,285.84 443.19,287.92 446.81,290.07 450.44,292.27 454.06,294.53 457.68,296.85 461.30,299.24 464.92,301.68 468.55,304.18 472.17,306.73 475.79,309.35 479.41,312.03 483.03,314.77 486.65,317.57 490.27,320.43 493.90,323.35 497.52,326.33 501.14,329.37 504.76,332.47 508.38,335.63 512.00,338.85 515.63,342.14 519.25,345.48 522.87,348.89 526.49,352.36 530.11,355.89 533.74,359.48 537.36,363.13 540.98,366.85 544.60,370.62" fill="none" stroke="#ff0000" stroke-opacity="0.42" stroke-width="0.9" stroke-dasharray="5.5,6.5"/>
</g>
<g clip-path="url(#cD)">
<polygon points="327.30,247.73 330.92,247.99 334.54,248.31 338.17,248.71 341.79,249.18 345.41,249.72 349.03,250.33 352.65,251.01 356.27,251.76 359.89,252.59 363.52,253.48 367.14,254.44 370.76,255.47 374.38,256.57 378.00,257.73 381.62,258.96 385.25,260.26 388.87,261.63 392.49,263.06 396.11,264.56 399.73,266.12 403.36,267.75 406.98,269.44 410.60,271.19 414.22,273.00 417.84,274.87 421.46,276.80 425.09,278.80 428.71,280.84 432.33,282.95 435.95,285.11 439.57,287.32 443.19,289.59 446.81,291.91 450.44,294.28 454.06,296.71 457.68,299.18 461.30,301.69 464.92,304.25 468.55,306.86 472.17,309.51 475.79,312.20 479.41,314.93 483.03,317.70 486.65,320.51 490.27,323.35 493.90,326.23 497.52,329.13 501.14,332.07 504.76,335.04 508.38,338.03 512.00,341.05 515.63,344.09 519.25,347.15 522.87,350.23 526.49,353.33 530.11,356.44 533.74,359.56 537.36,362.70 540.98,365.85 544.60,369.00 544.60,415.36 540.98,409.92 537.36,404.57 533.74,399.32 530.11,394.17 526.49,389.11 522.87,384.14 519.25,379.27 515.63,374.50 512.00,369.82 508.38,365.23 504.76,360.74 501.14,356.34 497.52,352.03 493.90,347.82 490.27,343.70 486.65,339.68 483.03,335.74 479.41,331.90 475.79,328.15 472.17,324.50 468.55,320.93 464.92,317.46 461.30,314.07 457.68,310.78 454.06,307.58 450.44,304.47 446.81,301.45 443.19,298.52 439.57,295.67 435.95,292.92 432.33,290.25 428.71,287.68 425.09,285.19 421.46,282.79 417.84,280.48 414.22,278.25 410.60,276.12 406.98,274.07 403.36,272.10 399.73,270.22 396.11,268.43 392.49,266.72 388.87,265.10 385.25,263.56 381.62,262.10 378.00,260.73 374.38,259.44 370.76,258.24 367.14,257.12 363.52,256.08 359.89,255.12 356.27,254.24 352.65,253.44 349.03,252.72 345.41,252.08 341.79,251.52 338.17,251.04 334.54,250.63 330.92,250.30 327.30,250.04" fill="#008000" fill-opacity="0.11" stroke="none"/>
<polyline points="327.30,247.73 330.92,247.99 334.54,248.31 338.17,248.71 341.79,249.18 345.41,249.72 349.03,250.33 352.65,251.01 356.27,251.76 359.89,252.59 363.52,253.48 367.14,254.44 370.76,255.47 374.38,256.57 378.00,257.73 381.62,258.96 385.25,260.26 388.87,261.63 392.49,263.06 396.11,264.56 399.73,266.12 403.36,267.75 406.98,269.44 410.60,271.19 414.22,273.00 417.84,274.87 421.46,276.80 425.09,278.80 428.71,280.84 432.33,282.95 435.95,285.11 439.57,287.32 443.19,289.59 446.81,291.91 450.44,294.28 454.06,296.71 457.68,299.18 461.30,301.69 464.92,304.25 468.55,306.86 472.17,309.51 475.79,312.20 479.41,314.93 483.03,317.70 486.65,320.51 490.27,323.35 493.90,326.23 497.52,329.13 501.14,332.07 504.76,335.04 508.38,338.03 512.00,341.05 515.63,344.09 519.25,347.15 522.87,350.23 526.49,353.33 530.11,356.44 533.74,359.56 537.36,362.70 540.98,365.85 544.60,369.00" fill="none" stroke="#008000" stroke-opacity="0.42" stroke-width="0.9" stroke-dasharray="5.5,6.5"/>
<polyline points="327.30,250.04 330.92,250.30 334.54,250.63 338.17,251.04 341.79,251.52 345.41,252.08 349.03,252.72 352.65,253.44 356.27,254.24 359.89,255.12 363.52,256.08 367.14,257.12 370.76,258.24 374.38,259.44 378.00,260.73 381.62,262.10 385.25,263.56 388.87,265.10 392.49,266.72 396.11,268.43 399.73,270.22 403.36,272.10 406.98,274.07 410.60,276.12 414.22,278.25 417.84,280.48 421.46,282.79 425.09,285.19 428.71,287.68 432.33,290.25 435.95,292.92 439.57,295.67 443.19,298.52 446.81,301.45 450.44,304.47 454.06,307.58 457.68,310.78 461.30,314.07 464.92,317.46 468.55,320.93 472.17,324.50 475.79,328.15 479.41,331.90 483.03,335.74 486.65,339.68 490.27,343.70 493.90,347.82 497.52,352.03 501.14,356.34 504.76,360.74 508.38,365.23 512.00,369.82 515.63,374.50 519.25,379.27 522.87,384.14 526.49,389.11 530.11,394.17 533.74,399.32 537.36,404.57 540.98,409.92 544.60,415.36" fill="none" stroke="#008000" stroke-opacity="0.42" stroke-width="0.9" stroke-dasharray="5.5,6.5"/>
</g>
<line x1="32.60" y1="144.70" x2="30.50" y2="225.60" stroke="#222" stroke-width="0.6" stroke-dasharray="1.3,1.3"/>
<line x1="122.40" y1="144.70" x2="225.91" y2="197.90" stroke="#222" stroke-width="0.6" stroke-dasharray="1.3,1.3"/>
<line x1="233.49" y1="201.80" x2="279.80" y2="225.60" stroke="#222" stroke-width="0.6" stroke-dasharray="1.3,1.3"/>
<line x1="319.40" y1="144.20" x2="316.80" y2="225.60" stroke="#222" stroke-width="0.6" stroke-dasharray="1.3,1.3"/>
<line x1="409.40" y1="144.20" x2="512.91" y2="197.90" stroke="#222" stroke-width="0.6" stroke-dasharray="1.3,1.3"/>
<line x1="520.43" y1="201.80" x2="566.30" y2="225.60" stroke="#222" stroke-width="0.6" stroke-dasharray="1.3,1.3"/>
<g clip-path="url(#cA)"><polyline points="41.40,37.40 42.66,38.42 43.91,39.45 45.16,40.51 46.42,41.58 47.67,42.68 48.93,43.80 50.19,44.94 51.44,46.10 52.70,47.27 53.95,48.47 55.20,49.69 56.46,50.93 57.71,52.19 58.97,53.47 60.22,54.78 61.48,56.10 62.73,57.44 63.99,58.80 65.25,60.19 66.50,61.59 67.75,63.01 69.01,64.46 70.27,65.92 71.52,67.41 72.78,68.91 74.03,70.44 75.28,71.99 76.54,73.55 77.79,75.14 79.05,76.75 80.31,78.38 81.56,80.02 82.81,81.69 84.07,83.38 85.32,85.09 86.58,86.82 87.84,88.57 89.09,90.34 90.34,92.14 91.60,93.95 92.85,95.78 94.11,97.63 95.37,99.51 96.62,101.40 97.88,103.31 99.13,105.25 100.38,107.20 101.64,109.18 102.89,111.17 104.15,113.19 105.41,115.23 106.66,117.28 107.91,119.36 109.17,121.46 110.42,123.58 111.68,125.72 112.94,127.87 114.19,130.05 115.44,132.25 116.70,134.47" fill="none" stroke="#008000" stroke-width="1.25"/></g>
<g clip-path="url(#cA)"><polyline points="41.40,37.40 42.66,38.44 43.91,39.50 45.16,40.59 46.42,41.71 47.67,42.85 48.93,44.01 50.19,45.21 51.44,46.43 52.70,47.67 53.95,48.94 55.20,50.24 56.46,51.56 57.71,52.91 58.97,54.28 60.22,55.68 61.48,57.11 62.73,58.56 63.99,60.03 65.25,61.54 66.50,63.07 67.75,64.62 69.01,66.20 70.27,67.81 71.52,69.44 72.78,71.10 74.03,72.78 75.28,74.49 76.54,76.23 77.79,77.99 79.05,79.77 80.31,81.59 81.56,83.43 82.81,85.29 84.07,87.18 85.32,89.10 86.58,91.04 87.84,93.01 89.09,95.00 90.34,97.02 91.60,99.07 92.85,101.14 94.11,103.24 95.37,105.36 96.62,107.51 97.88,109.68 99.13,111.89 100.38,114.11 101.64,116.36 102.89,118.64 104.15,120.95 105.41,123.28 106.66,125.63 107.91,128.01 109.17,130.42 110.42,132.86 111.68,135.31 112.94,137.80 114.19,140.31 115.44,142.85 116.70,145.41" fill="none" stroke="#ff0000" stroke-width="1.25"/></g>
<g clip-path="url(#cA)"><polyline points="41.40,37.40 45.19,38.68 48.98,39.98 52.77,41.28 56.56,42.60 60.35,43.93 64.14,45.27 67.93,46.61 71.72,47.97 75.51,49.34 79.30,50.73 83.09,52.12 86.88,53.52 90.67,54.93 94.46,56.36 98.25,57.79 102.04,59.24 105.83,60.70 109.62,62.17 113.41,63.65 117.20,65.13 120.99,66.64 124.78,68.15 128.57,69.67 132.36,71.20 136.15,72.75 139.94,74.30 143.73,75.87 147.52,77.44 151.31,79.03 155.10,80.63 158.89,82.24 162.68,83.86 166.47,85.49 170.26,87.13 174.05,88.78 177.84,90.44 181.63,92.12 185.42,93.80 189.21,95.50 193.00,97.20 196.79,98.92 200.58,100.65 204.37,102.39 208.16,104.14 211.95,105.90 215.74,107.67 219.53,109.45 223.32,111.25 227.11,113.05 230.91,114.87 234.70,116.69 238.49,118.53 242.28,120.37 246.07,122.23 249.86,124.10 253.65,125.98 257.44,127.87 261.23,129.77 265.02,131.69 268.81,133.61" fill="none" stroke="#0000ff" stroke-width="1.25"/></g>
<g clip-path="url(#cC)"><polyline points="40.80,248.00 44.42,249.46 48.04,250.96 51.66,252.48 55.29,254.03 58.91,255.61 62.53,257.22 66.15,258.86 69.77,260.53 73.39,262.23 77.02,263.96 80.64,265.71 84.26,267.50 87.88,269.32 91.50,271.16 95.12,273.04 98.75,274.94 102.37,276.88 105.99,278.84 109.61,280.83 113.23,282.86 116.86,284.91 120.48,286.99 124.10,289.10 127.72,291.24 131.34,293.41 134.96,295.61 138.58,297.84 142.21,300.10 145.83,302.38 149.45,304.70 153.07,307.05 156.69,309.42 160.31,311.83 163.94,314.26 167.56,316.72 171.18,319.22 174.80,321.74 178.42,324.29 182.05,326.87 185.67,329.48 189.29,332.13 192.91,334.79 196.53,337.49 200.15,340.22 203.77,342.98 207.40,345.77 211.02,348.59 214.64,351.43 218.26,354.31 221.88,357.21 225.50,360.15 229.13,363.11 232.75,366.11 236.37,369.13 239.99,372.18 243.61,375.26 247.24,378.37 250.86,381.51 254.48,384.68 258.10,387.88" fill="none" stroke="#008000" stroke-width="1.25"/></g>
<g clip-path="url(#cC)"><polyline points="40.80,248.00 44.42,249.50 48.04,251.03 51.66,252.60 55.29,254.21 58.91,255.85 62.53,257.53 66.15,259.25 69.77,261.01 73.39,262.80 77.02,264.63 80.64,266.50 84.26,268.40 87.88,270.35 91.50,272.32 95.12,274.34 98.75,276.40 102.37,278.49 105.99,280.62 109.61,282.78 113.23,284.98 116.86,287.22 120.48,289.50 124.10,291.82 127.72,294.17 131.34,296.56 134.96,298.98 138.58,301.45 142.21,303.95 145.83,306.49 149.45,309.06 153.07,311.67 156.69,314.32 160.31,317.01 163.94,319.74 167.56,322.50 171.18,325.30 174.80,328.13 178.42,331.01 182.05,333.92 185.67,336.86 189.29,339.85 192.91,342.87 196.53,345.93 200.15,349.03 203.77,352.16 207.40,355.33 211.02,358.54 214.64,361.79 218.26,365.07 221.88,368.39 225.50,371.75 229.13,375.14 232.75,378.57 236.37,382.04 239.99,385.55 243.61,389.09 247.24,392.67 250.86,396.29 254.48,399.95 258.10,403.64" fill="none" stroke="#ff0000" stroke-width="1.25"/></g>
<g clip-path="url(#cC)"><polyline points="40.80,248.00 44.86,248.68 48.91,249.37 52.97,250.06 57.03,250.75 61.08,251.44 65.14,252.14 69.19,252.83 73.25,253.53 77.31,254.24 81.36,254.94 85.42,255.64 89.48,256.35 93.53,257.06 97.59,257.77 101.64,258.49 105.70,259.21 109.76,259.92 113.81,260.65 117.87,261.37 121.93,262.09 125.98,262.82 130.04,263.55 134.09,264.28 138.15,265.01 142.21,265.75 146.26,266.49 150.32,267.23 154.38,267.97 158.43,268.72 162.49,269.46 166.54,270.21 170.60,270.96 174.66,271.71 178.71,272.47 182.77,273.23 186.83,273.99 190.88,274.75 194.94,275.51 198.99,276.28 203.05,277.05 207.11,277.82 211.16,278.59 215.22,279.36 219.28,280.14 223.33,280.92 227.39,281.70 231.44,282.48 235.50,283.27 239.56,284.05 243.61,284.84 247.67,285.64 251.73,286.43 255.78,287.22 259.84,288.02 263.89,288.82 267.95,289.63 272.01,290.43 276.06,291.24 280.12,292.05 284.18,292.86" fill="none" stroke="#0000ff" stroke-width="1.25"/></g>
<g clip-path="url(#cB)"><polyline points="328.30,36.90 329.53,37.08 330.76,37.31 332.00,37.58 333.23,37.91 334.46,38.29 335.69,38.72 336.92,39.19 338.15,39.72 339.38,40.29 340.62,40.92 341.85,41.59 343.08,42.32 344.31,43.09 345.54,43.91 346.78,44.78 348.01,45.71 349.24,46.68 350.47,47.70 351.70,48.77 352.93,49.89 354.17,51.06 355.40,52.28 356.63,53.55 357.86,54.87 359.09,56.24 360.32,57.66 361.56,59.13 362.79,60.64 364.02,62.21 365.25,63.83 366.48,65.49 367.71,67.21 368.94,68.97 370.18,70.79 371.41,72.65 372.64,74.57 373.87,76.53 375.10,78.54 376.34,80.61 377.57,82.72 378.80,84.88 380.03,87.09 381.26,89.35 382.49,91.66 383.73,94.02 384.96,96.43 386.19,98.89 387.42,101.40 388.65,103.96 389.88,106.57 391.12,109.23 392.35,111.93 393.58,114.69 394.81,117.50 396.04,120.35 397.27,123.26 398.50,126.22 399.74,129.22 400.97,132.28 402.20,135.38" fill="none" stroke="#008000" stroke-width="1.25"/></g>
<g clip-path="url(#cB)"><polyline points="328.30,36.90 329.53,37.15 330.76,37.44 332.00,37.77 333.23,38.12 334.46,38.51 335.69,38.94 336.92,39.40 338.15,39.89 339.38,40.42 340.62,40.99 341.85,41.58 343.08,42.22 344.31,42.88 345.54,43.58 346.78,44.32 348.01,45.09 349.24,45.89 350.47,46.73 351.70,47.60 352.93,48.50 354.17,49.45 355.40,50.42 356.63,51.43 357.86,52.47 359.09,53.55 360.32,54.66 361.56,55.81 362.79,56.99 364.02,58.21 365.25,59.45 366.48,60.74 367.71,62.06 368.94,63.41 370.18,64.80 371.41,66.22 372.64,67.67 373.87,69.16 375.10,70.69 376.34,72.24 377.57,73.84 378.80,75.46 380.03,77.13 381.26,78.82 382.49,80.55 383.73,82.31 384.96,84.11 386.19,85.95 387.42,87.81 388.65,89.72 389.88,91.65 391.12,93.62 392.35,95.63 393.58,97.66 394.81,99.74 396.04,101.84 397.27,103.99 398.50,106.16 399.74,108.37 400.97,110.62 402.20,112.90" fill="none" stroke="#ff0000" stroke-width="1.25"/></g>
<g clip-path="url(#cB)"><polyline points="328.30,36.90 332.09,38.01 335.88,39.13 339.67,40.24 343.46,41.36 347.25,42.47 351.04,43.59 354.83,44.70 358.62,45.82 362.41,46.93 366.20,48.05 369.99,49.16 373.78,50.28 377.57,51.39 381.36,52.51 385.15,53.62 388.94,54.74 392.73,55.85 396.52,56.96 400.31,58.08 404.10,59.19 407.89,60.31 411.68,61.42 415.47,62.54 419.26,63.65 423.05,64.77 426.84,65.88 430.63,67.00 434.42,68.11 438.21,69.23 442.00,70.34 445.78,71.46 449.57,72.57 453.36,73.69 457.15,74.80 460.94,75.91 464.73,77.03 468.52,78.14 472.31,79.26 476.10,80.37 479.89,81.49 483.68,82.60 487.47,83.72 491.26,84.83 495.05,85.95 498.84,87.06 502.63,88.18 506.42,89.29 510.21,90.41 514.00,91.52 517.79,92.64 521.58,93.75 525.37,94.87 529.16,95.98 532.95,97.09 536.74,98.21 540.53,99.32 544.32,100.44 548.11,101.55 551.90,102.67 555.69,103.78" fill="none" stroke="#0000ff" stroke-width="1.25"/></g>
<g clip-path="url(#cD)"><polyline points="327.30,248.50 330.92,248.76 334.54,249.08 338.17,249.48 341.79,249.95 345.41,250.49 349.03,251.10 352.65,251.79 356.27,252.54 359.89,253.37 363.52,254.26 367.14,255.23 370.76,256.27 374.38,257.38 378.00,258.56 381.62,259.81 385.25,261.14 388.87,262.53 392.49,264.00 396.11,265.53 399.73,267.14 403.36,268.82 406.98,270.57 410.60,272.39 414.22,274.28 417.84,276.25 421.46,278.28 425.09,280.39 428.71,282.56 432.33,284.81 435.95,287.13 439.57,289.52 443.19,291.98 446.81,294.52 450.44,297.12 454.06,299.79 457.68,302.54 461.30,305.36 464.92,308.25 468.55,311.21 472.17,314.24 475.79,317.34 479.41,320.51 483.03,323.75 486.65,327.07 490.27,330.46 493.90,333.91 497.52,337.44 501.14,341.04 504.76,344.71 508.38,348.45 512.00,352.27 515.63,356.15 519.25,360.11 522.87,364.13 526.49,368.23 530.11,372.40 533.74,376.64 537.36,380.95 540.98,385.33 544.60,389.79" fill="none" stroke="#008000" stroke-width="1.25"/></g>
<g clip-path="url(#cD)"><polyline points="327.30,248.50 330.92,248.86 334.54,249.28 338.17,249.74 341.79,250.25 345.41,250.82 349.03,251.43 352.65,252.09 356.27,252.80 359.89,253.55 363.52,254.36 367.14,255.22 370.76,256.13 374.38,257.08 378.00,258.09 381.62,259.14 385.25,260.24 388.87,261.40 392.49,262.60 396.11,263.85 399.73,265.15 403.36,266.50 406.98,267.90 410.60,269.35 414.22,270.84 417.84,272.39 421.46,273.98 425.09,275.63 428.71,277.32 432.33,279.07 435.95,280.86 439.57,282.70 443.19,284.59 446.81,286.53 450.44,288.52 454.06,290.56 457.68,292.65 461.30,294.79 464.92,296.97 468.55,299.21 472.17,301.49 475.79,303.83 479.41,306.21 483.03,308.64 486.65,311.13 490.27,313.66 493.90,316.24 497.52,318.87 501.14,321.55 504.76,324.27 508.38,327.05 512.00,329.88 515.63,332.75 519.25,335.68 522.87,338.65 526.49,341.68 530.11,344.75 533.74,347.87 537.36,351.04 540.98,354.26 544.60,357.53" fill="none" stroke="#ff0000" stroke-width="1.25"/></g>
<g clip-path="url(#cD)"><polyline points="327.30,248.50 331.36,249.08 335.41,249.66 339.47,250.25 343.53,250.83 347.58,251.41 351.64,251.99 355.69,252.57 359.75,253.16 363.81,253.74 367.86,254.32 371.92,254.90 375.98,255.49 380.03,256.07 384.09,256.65 388.14,257.23 392.20,257.81 396.26,258.40 400.31,258.98 404.37,259.56 408.43,260.14 412.48,260.72 416.54,261.31 420.59,261.89 424.65,262.47 428.71,263.05 432.76,263.64 436.82,264.22 440.88,264.80 444.93,265.38 448.99,265.96 453.04,266.55 457.10,267.13 461.16,267.71 465.21,268.29 469.27,268.87 473.33,269.46 477.38,270.04 481.44,270.62 485.49,271.20 489.55,271.78 493.61,272.37 497.66,272.95 501.72,273.53 505.78,274.11 509.83,274.70 513.89,275.28 517.94,275.86 522.00,276.44 526.06,277.02 530.11,277.61 534.17,278.19 538.23,278.77 542.28,279.35 546.34,279.93 550.39,280.52 554.45,281.10 558.51,281.68 562.56,282.26 566.62,282.85 570.68,283.43" fill="none" stroke="#0000ff" stroke-width="1.25"/></g>
<g clip-path="url(#cC)">
<line x1="40.50" y1="242.50" x2="40.50" y2="255.50" stroke="#008000" stroke-width="0.95"/>
<line x1="38.80" y1="242.50" x2="42.20" y2="242.50" stroke="#008000" stroke-width="0.95"/>
<line x1="38.80" y1="255.50" x2="42.20" y2="255.50" stroke="#008000" stroke-width="0.95"/>
<line x1="51.40" y1="245.40" x2="51.40" y2="254.00" stroke="#008000" stroke-width="0.95"/>
<line x1="49.70" y1="245.40" x2="53.10" y2="245.40" stroke="#008000" stroke-width="0.95"/>
<line x1="49.70" y1="254.00" x2="53.10" y2="254.00" stroke="#008000" stroke-width="0.95"/>
<line x1="62.50" y1="251.30" x2="62.50" y2="256.50" stroke="#008000" stroke-width="0.6"/>
<line x1="60.80" y1="252.40" x2="64.20" y2="252.40" stroke="#008000" stroke-width="0.5"/>
<line x1="60.80" y1="255.40" x2="64.20" y2="255.40" stroke="#008000" stroke-width="0.6"/>
<line x1="73.00" y1="242.00" x2="73.00" y2="247.20" stroke="#008000" stroke-width="0.6"/>
<line x1="71.30" y1="243.10" x2="74.70" y2="243.10" stroke="#008000" stroke-width="0.5"/>
<line x1="71.30" y1="246.10" x2="74.70" y2="246.10" stroke="#008000" stroke-width="0.6"/>
<line x1="73.00" y1="250.70" x2="73.00" y2="255.90" stroke="#008000" stroke-width="0.6"/>
<line x1="71.30" y1="251.80" x2="74.70" y2="251.80" stroke="#008000" stroke-width="0.5"/>
<line x1="71.30" y1="254.80" x2="74.70" y2="254.80" stroke="#008000" stroke-width="0.6"/>
<line x1="84.00" y1="250.00" x2="84.00" y2="265.60" stroke="#008000" stroke-width="0.95"/>
<line x1="82.30" y1="250.00" x2="85.70" y2="250.00" stroke="#008000" stroke-width="0.95"/>
<line x1="82.30" y1="265.60" x2="85.70" y2="265.60" stroke="#008000" stroke-width="0.95"/>
<line x1="84.00" y1="253.10" x2="84.00" y2="258.30" stroke="#008000" stroke-width="0.6"/>
<line x1="82.30" y1="254.20" x2="85.70" y2="254.20" stroke="#008000" stroke-width="0.5"/>
<line x1="82.30" y1="257.20" x2="85.70" y2="257.20" stroke="#008000" stroke-width="0.6"/>
<line x1="106.70" y1="276.30" x2="106.70" y2="281.50" stroke="#008000" stroke-width="0.6"/>
<line x1="105.00" y1="277.40" x2="108.40" y2="277.40" stroke="#008000" stroke-width="0.5"/>
<line x1="105.00" y1="280.40" x2="108.40" y2="280.40" stroke="#008000" stroke-width="0.6"/>
<line x1="115.20" y1="271.00" x2="115.20" y2="276.20" stroke="#008000" stroke-width="0.6"/>
<line x1="113.50" y1="272.10" x2="116.90" y2="272.10" stroke="#008000" stroke-width="0.5"/>
<line x1="113.50" y1="275.10" x2="116.90" y2="275.10" stroke="#008000" stroke-width="0.6"/>
<line x1="128.00" y1="267.80" x2="128.00" y2="291.00" stroke="#008000" stroke-width="0.95"/>
<line x1="126.30" y1="267.80" x2="129.70" y2="267.80" stroke="#008000" stroke-width="0.95"/>
<line x1="126.30" y1="291.00" x2="129.70" y2="291.00" stroke="#008000" stroke-width="0.95"/>
<line x1="147.90" y1="313.50" x2="147.90" y2="318.70" stroke="#008000" stroke-width="0.6"/>
<line x1="146.20" y1="314.60" x2="149.60" y2="314.60" stroke="#008000" stroke-width="0.5"/>
<line x1="146.20" y1="317.60" x2="149.60" y2="317.60" stroke="#008000" stroke-width="0.6"/>
<line x1="161.20" y1="302.30" x2="161.20" y2="316.10" stroke="#008000" stroke-width="0.95"/>
<line x1="159.50" y1="302.30" x2="162.90" y2="302.30" stroke="#008000" stroke-width="0.95"/>
<line x1="159.50" y1="316.10" x2="162.90" y2="316.10" stroke="#008000" stroke-width="0.95"/>
<line x1="170.70" y1="301.80" x2="170.70" y2="323.00" stroke="#008000" stroke-width="0.95"/>
<line x1="169.00" y1="301.80" x2="172.40" y2="301.80" stroke="#008000" stroke-width="0.95"/>
<line x1="169.00" y1="323.00" x2="172.40" y2="323.00" stroke="#008000" stroke-width="0.95"/>
<line x1="170.70" y1="319.90" x2="170.70" y2="325.10" stroke="#008000" stroke-width="0.6"/>
<line x1="169.00" y1="321.00" x2="172.40" y2="321.00" stroke="#008000" stroke-width="0.5"/>
<line x1="169.00" y1="324.00" x2="172.40" y2="324.00" stroke="#008000" stroke-width="0.6"/>
<line x1="194.00" y1="357.00" x2="194.00" y2="371.90" stroke="#008000" stroke-width="0.95"/>
<line x1="192.30" y1="357.00" x2="195.70" y2="357.00" stroke="#008000" stroke-width="0.95"/>
<line x1="192.30" y1="371.90" x2="195.70" y2="371.90" stroke="#008000" stroke-width="0.95"/>
<line x1="214.30" y1="322.30" x2="214.30" y2="348.30" stroke="#008000" stroke-width="0.95"/>
<line x1="212.60" y1="322.30" x2="216.00" y2="322.30" stroke="#008000" stroke-width="0.95"/>
<line x1="212.60" y1="348.30" x2="216.00" y2="348.30" stroke="#008000" stroke-width="0.95"/>
<line x1="214.30" y1="349.40" x2="214.30" y2="354.60" stroke="#008000" stroke-width="0.6"/>
<line x1="212.60" y1="350.50" x2="216.00" y2="350.50" stroke="#008000" stroke-width="0.5"/>
<line x1="212.60" y1="353.50" x2="216.00" y2="353.50" stroke="#008000" stroke-width="0.6"/>
<line x1="214.30" y1="355.40" x2="214.30" y2="360.60" stroke="#008000" stroke-width="0.6"/>
<line x1="212.60" y1="356.50" x2="216.00" y2="356.50" stroke="#008000" stroke-width="0.5"/>
<line x1="212.60" y1="359.50" x2="216.00" y2="359.50" stroke="#008000" stroke-width="0.6"/>
<line x1="247.80" y1="380.50" x2="247.80" y2="402.00" stroke="#008000" stroke-width="0.95"/>
<line x1="246.10" y1="380.50" x2="249.50" y2="380.50" stroke="#008000" stroke-width="0.95"/>
<line x1="246.10" y1="402.00" x2="249.50" y2="402.00" stroke="#008000" stroke-width="0.95"/>
<line x1="258.40" y1="359.30" x2="258.40" y2="364.50" stroke="#008000" stroke-width="0.6"/>
<line x1="256.70" y1="360.40" x2="260.10" y2="360.40" stroke="#008000" stroke-width="0.5"/>
<line x1="256.70" y1="363.40" x2="260.10" y2="363.40" stroke="#008000" stroke-width="0.6"/>
<line x1="258.40" y1="361.90" x2="258.40" y2="390.40" stroke="#008000" stroke-width="0.95"/>
<line x1="256.70" y1="361.90" x2="260.10" y2="361.90" stroke="#008000" stroke-width="0.95"/>
<line x1="256.70" y1="390.40" x2="260.10" y2="390.40" stroke="#008000" stroke-width="0.95"/>
<rect x="39.00" y="247.50" width="3.0" height="3.0" fill="#d8ecd8" fill-opacity="0.7" stroke="#008000" stroke-width="0.6" stroke-opacity="0.7"/>
<rect x="49.90" y="249.30" width="3.0" height="3.0" fill="#d8ecd8" fill-opacity="0.7" stroke="#008000" stroke-width="0.6" stroke-opacity="0.7"/>
<rect x="61.00" y="252.40" width="3.0" height="3.0" fill="#d8ecd8" fill-opacity="0.7" stroke="#008000" stroke-width="0.6" stroke-opacity="0.7"/>
<rect x="71.50" y="243.10" width="3.0" height="3.0" fill="#d8ecd8" fill-opacity="0.7" stroke="#008000" stroke-width="0.6" stroke-opacity="0.7"/>
<rect x="71.50" y="251.80" width="3.0" height="3.0" fill="#d8ecd8" fill-opacity="0.7" stroke="#008000" stroke-width="0.6" stroke-opacity="0.7"/>
<rect x="82.50" y="251.10" width="3.0" height="3.0" fill="#d8ecd8" fill-opacity="0.7" stroke="#008000" stroke-width="0.6" stroke-opacity="0.7"/>
<rect x="82.50" y="254.20" width="3.0" height="3.0" fill="#d8ecd8" fill-opacity="0.7" stroke="#008000" stroke-width="0.6" stroke-opacity="0.7"/>
<rect x="105.20" y="277.40" width="3.0" height="3.0" fill="#d8ecd8" fill-opacity="0.7" stroke="#008000" stroke-width="0.6" stroke-opacity="0.7"/>
<rect x="113.70" y="272.10" width="3.0" height="3.0" fill="#d8ecd8" fill-opacity="0.7" stroke="#008000" stroke-width="0.6" stroke-opacity="0.7"/>
<rect x="126.50" y="271.30" width="3.0" height="3.0" fill="#d8ecd8" fill-opacity="0.7" stroke="#008000" stroke-width="0.6" stroke-opacity="0.7"/>
<rect x="146.40" y="314.60" width="3.0" height="3.0" fill="#d8ecd8" fill-opacity="0.7" stroke="#008000" stroke-width="0.6" stroke-opacity="0.7"/>
<rect x="159.70" y="307.20" width="3.0" height="3.0" fill="#d8ecd8" fill-opacity="0.7" stroke="#008000" stroke-width="0.6" stroke-opacity="0.7"/>
<rect x="169.20" y="309.30" width="3.0" height="3.0" fill="#d8ecd8" fill-opacity="0.7" stroke="#008000" stroke-width="0.6" stroke-opacity="0.7"/>
<rect x="169.20" y="321.00" width="3.0" height="3.0" fill="#d8ecd8" fill-opacity="0.7" stroke="#008000" stroke-width="0.6" stroke-opacity="0.7"/>
<rect x="192.50" y="361.70" width="3.0" height="3.0" fill="#d8ecd8" fill-opacity="0.7" stroke="#008000" stroke-width="0.6" stroke-opacity="0.7"/>
<rect x="212.80" y="329.50" width="3.0" height="3.0" fill="#d8ecd8" fill-opacity="0.7" stroke="#008000" stroke-width="0.6" stroke-opacity="0.7"/>
<rect x="212.80" y="350.50" width="3.0" height="3.0" fill="#d8ecd8" fill-opacity="0.7" stroke="#008000" stroke-width="0.6" stroke-opacity="0.7"/>
<rect x="212.80" y="356.50" width="3.0" height="3.0" fill="#d8ecd8" fill-opacity="0.7" stroke="#008000" stroke-width="0.6" stroke-opacity="0.7"/>
<rect x="246.30" y="388.00" width="3.0" height="3.0" fill="#d8ecd8" fill-opacity="0.7" stroke="#008000" stroke-width="0.6" stroke-opacity="0.7"/>
<rect x="256.90" y="360.40" width="3.0" height="3.0" fill="#d8ecd8" fill-opacity="0.7" stroke="#008000" stroke-width="0.6" stroke-opacity="0.7"/>
<rect x="256.90" y="375.30" width="3.0" height="3.0" fill="#d8ecd8" fill-opacity="0.7" stroke="#008000" stroke-width="0.6" stroke-opacity="0.7"/>
</g>
<g clip-path="url(#cC)">
<line x1="51.40" y1="243.90" x2="51.40" y2="249.10" stroke="#ff0000" stroke-width="0.6"/>
<line x1="49.70" y1="245.00" x2="53.10" y2="245.00" stroke="#ff0000" stroke-width="0.5"/>
<line x1="49.70" y1="248.00" x2="53.10" y2="248.00" stroke="#ff0000" stroke-width="0.6"/>
<line x1="62.50" y1="244.50" x2="62.50" y2="249.70" stroke="#ff0000" stroke-width="0.6"/>
<line x1="60.80" y1="245.60" x2="64.20" y2="245.60" stroke="#ff0000" stroke-width="0.5"/>
<line x1="60.80" y1="248.60" x2="64.20" y2="248.60" stroke="#ff0000" stroke-width="0.6"/>
<line x1="74.20" y1="256.80" x2="74.20" y2="262.00" stroke="#ff0000" stroke-width="0.6"/>
<line x1="72.50" y1="257.90" x2="75.90" y2="257.90" stroke="#ff0000" stroke-width="0.5"/>
<line x1="72.50" y1="260.90" x2="75.90" y2="260.90" stroke="#ff0000" stroke-width="0.6"/>
<line x1="84.70" y1="261.10" x2="84.70" y2="266.30" stroke="#ff0000" stroke-width="0.6"/>
<line x1="83.00" y1="262.20" x2="86.40" y2="262.20" stroke="#ff0000" stroke-width="0.5"/>
<line x1="83.00" y1="265.20" x2="86.40" y2="265.20" stroke="#ff0000" stroke-width="0.6"/>
<line x1="127.70" y1="287.00" x2="127.70" y2="292.20" stroke="#ff0000" stroke-width="0.6"/>
<line x1="126.00" y1="288.10" x2="129.40" y2="288.10" stroke="#ff0000" stroke-width="0.5"/>
<line x1="126.00" y1="291.10" x2="129.40" y2="291.10" stroke="#ff0000" stroke-width="0.6"/>
<line x1="127.70" y1="280.00" x2="127.70" y2="303.40" stroke="#ff0000" stroke-width="0.95"/>
<line x1="126.00" y1="280.00" x2="129.40" y2="280.00" stroke="#ff0000" stroke-width="0.95"/>
<line x1="126.00" y1="303.40" x2="129.40" y2="303.40" stroke="#ff0000" stroke-width="0.95"/>
<line x1="170.80" y1="298.70" x2="170.80" y2="303.90" stroke="#ff0000" stroke-width="0.6"/>
<line x1="169.10" y1="299.80" x2="172.50" y2="299.80" stroke="#ff0000" stroke-width="0.5"/>
<line x1="169.10" y1="302.80" x2="172.50" y2="302.80" stroke="#ff0000" stroke-width="0.6"/>
<line x1="171.00" y1="325.90" x2="171.00" y2="331.10" stroke="#ff0000" stroke-width="0.6"/>
<line x1="169.30" y1="327.00" x2="172.70" y2="327.00" stroke="#ff0000" stroke-width="0.5"/>
<line x1="169.30" y1="330.00" x2="172.70" y2="330.00" stroke="#ff0000" stroke-width="0.6"/>
<line x1="171.00" y1="300.00" x2="171.00" y2="340.90" stroke="#ff0000" stroke-width="0.95"/>
<line x1="169.30" y1="300.00" x2="172.70" y2="300.00" stroke="#ff0000" stroke-width="0.95"/>
<line x1="169.30" y1="340.90" x2="172.70" y2="340.90" stroke="#ff0000" stroke-width="0.95"/>
<line x1="214.30" y1="345.80" x2="214.30" y2="384.20" stroke="#ff0000" stroke-width="0.95"/>
<line x1="212.60" y1="345.80" x2="216.00" y2="345.80" stroke="#ff0000" stroke-width="0.95"/>
<line x1="212.60" y1="384.20" x2="216.00" y2="384.20" stroke="#ff0000" stroke-width="0.95"/>
<line x1="258.40" y1="349.60" x2="258.40" y2="366.90" stroke="#ff0000" stroke-width="0.95"/>
<line x1="256.70" y1="349.60" x2="260.10" y2="349.60" stroke="#ff0000" stroke-width="0.95"/>
<line x1="256.70" y1="366.90" x2="260.10" y2="366.90" stroke="#ff0000" stroke-width="0.95"/>
<line x1="258.40" y1="400.00" x2="258.40" y2="440.00" stroke="#ff0000" stroke-width="0.95"/>
<line x1="256.70" y1="400.00" x2="260.10" y2="400.00" stroke="#ff0000" stroke-width="0.95"/>
<line x1="256.70" y1="440.00" x2="260.10" y2="440.00" stroke="#ff0000" stroke-width="0.95"/>
<rect x="49.90" y="245.00" width="3.0" height="3.0" fill="#ffdede" fill-opacity="0.7" stroke="#ff0000" stroke-width="0.6" stroke-opacity="0.7"/>
<rect x="61.00" y="245.60" width="3.0" height="3.0" fill="#ffdede" fill-opacity="0.7" stroke="#ff0000" stroke-width="0.6" stroke-opacity="0.7"/>
<rect x="72.70" y="257.90" width="3.0" height="3.0" fill="#ffdede" fill-opacity="0.7" stroke="#ff0000" stroke-width="0.6" stroke-opacity="0.7"/>
<rect x="83.20" y="262.20" width="3.0" height="3.0" fill="#ffdede" fill-opacity="0.7" stroke="#ff0000" stroke-width="0.6" stroke-opacity="0.7"/>
<rect x="126.20" y="288.10" width="3.0" height="3.0" fill="#ffdede" fill-opacity="0.7" stroke="#ff0000" stroke-width="0.6" stroke-opacity="0.7"/>
<rect x="126.20" y="298.10" width="3.0" height="3.0" fill="#ffdede" fill-opacity="0.7" stroke="#ff0000" stroke-width="0.6" stroke-opacity="0.7"/>
<rect x="169.30" y="299.80" width="3.0" height="3.0" fill="#ffdede" fill-opacity="0.7" stroke="#ff0000" stroke-width="0.6" stroke-opacity="0.7"/>
<rect x="169.50" y="327.00" width="3.0" height="3.0" fill="#ffdede" fill-opacity="0.7" stroke="#ff0000" stroke-width="0.6" stroke-opacity="0.7"/>
<rect x="169.50" y="335.70" width="3.0" height="3.0" fill="#ffdede" fill-opacity="0.7" stroke="#ff0000" stroke-width="0.6" stroke-opacity="0.7"/>
<rect x="212.80" y="370.40" width="3.0" height="3.0" fill="#ffdede" fill-opacity="0.7" stroke="#ff0000" stroke-width="0.6" stroke-opacity="0.7"/>
<rect x="256.90" y="356.70" width="3.0" height="3.0" fill="#ffdede" fill-opacity="0.7" stroke="#ff0000" stroke-width="0.6" stroke-opacity="0.7"/>
<rect x="256.90" y="413.10" width="3.0" height="3.0" fill="#ffdede" fill-opacity="0.7" stroke="#ff0000" stroke-width="0.6" stroke-opacity="0.7"/>
</g>
<g clip-path="url(#cC)">
<line x1="58.20" y1="250.70" x2="58.20" y2="255.90" stroke="#0000ff" stroke-width="0.6"/>
<line x1="56.50" y1="251.80" x2="59.90" y2="251.80" stroke="#0000ff" stroke-width="0.5"/>
<line x1="56.50" y1="254.80" x2="59.90" y2="254.80" stroke="#0000ff" stroke-width="0.6"/>
<line x1="64.30" y1="255.60" x2="64.30" y2="260.80" stroke="#0000ff" stroke-width="0.6"/>
<line x1="62.60" y1="256.70" x2="66.00" y2="256.70" stroke="#0000ff" stroke-width="0.5"/>
<line x1="62.60" y1="259.70" x2="66.00" y2="259.70" stroke="#0000ff" stroke-width="0.6"/>
<line x1="65.00" y1="258.70" x2="65.00" y2="263.90" stroke="#0000ff" stroke-width="0.6"/>
<line x1="63.30" y1="259.80" x2="66.70" y2="259.80" stroke="#0000ff" stroke-width="0.5"/>
<line x1="63.30" y1="262.80" x2="66.70" y2="262.80" stroke="#0000ff" stroke-width="0.6"/>
<line x1="68.00" y1="245.40" x2="68.00" y2="250.60" stroke="#0000ff" stroke-width="0.6"/>
<line x1="66.30" y1="246.50" x2="69.70" y2="246.50" stroke="#0000ff" stroke-width="0.5"/>
<line x1="66.30" y1="249.50" x2="69.70" y2="249.50" stroke="#0000ff" stroke-width="0.6"/>
<line x1="76.70" y1="247.60" x2="76.70" y2="252.80" stroke="#0000ff" stroke-width="0.6"/>
<line x1="75.00" y1="248.70" x2="78.40" y2="248.70" stroke="#0000ff" stroke-width="0.5"/>
<line x1="75.00" y1="251.70" x2="78.40" y2="251.70" stroke="#0000ff" stroke-width="0.6"/>
<line x1="76.30" y1="249.10" x2="76.30" y2="262.00" stroke="#0000ff" stroke-width="1.0"/>
<line x1="74.60" y1="249.10" x2="78.00" y2="249.10" stroke="#0000ff" stroke-width="1.0"/>
<line x1="74.60" y1="262.00" x2="78.00" y2="262.00" stroke="#0000ff" stroke-width="1.0"/>
<line x1="79.20" y1="239.00" x2="79.20" y2="244.00" stroke="#0000ff" stroke-width="1.0"/>
<line x1="77.50" y1="239.00" x2="80.90" y2="239.00" stroke="#0000ff" stroke-width="1.0"/>
<line x1="77.50" y1="244.00" x2="80.90" y2="244.00" stroke="#0000ff" stroke-width="1.0"/>
<line x1="83.60" y1="254.70" x2="83.60" y2="259.90" stroke="#0000ff" stroke-width="0.6"/>
<line x1="81.90" y1="255.80" x2="85.30" y2="255.80" stroke="#0000ff" stroke-width="0.5"/>
<line x1="81.90" y1="258.80" x2="85.30" y2="258.80" stroke="#0000ff" stroke-width="0.6"/>
<line x1="89.20" y1="247.80" x2="89.20" y2="253.00" stroke="#0000ff" stroke-width="0.6"/>
<line x1="87.50" y1="248.90" x2="90.90" y2="248.90" stroke="#0000ff" stroke-width="0.5"/>
<line x1="87.50" y1="251.90" x2="90.90" y2="251.90" stroke="#0000ff" stroke-width="0.6"/>
<line x1="95.00" y1="277.30" x2="95.00" y2="283.70" stroke="#0000ff" stroke-width="1.0"/>
<line x1="93.30" y1="277.30" x2="96.70" y2="277.30" stroke="#0000ff" stroke-width="1.0"/>
<line x1="93.30" y1="283.70" x2="96.70" y2="283.70" stroke="#0000ff" stroke-width="1.0"/>
<line x1="105.50" y1="253.70" x2="105.50" y2="258.90" stroke="#0000ff" stroke-width="0.6"/>
<line x1="103.80" y1="254.80" x2="107.20" y2="254.80" stroke="#0000ff" stroke-width="0.5"/>
<line x1="103.80" y1="257.80" x2="107.20" y2="257.80" stroke="#0000ff" stroke-width="0.6"/>
<line x1="107.40" y1="256.80" x2="107.40" y2="262.00" stroke="#0000ff" stroke-width="0.6"/>
<line x1="105.70" y1="257.90" x2="109.10" y2="257.90" stroke="#0000ff" stroke-width="0.5"/>
<line x1="105.70" y1="260.90" x2="109.10" y2="260.90" stroke="#0000ff" stroke-width="0.6"/>
<line x1="112.90" y1="255.10" x2="112.90" y2="273.00" stroke="#0000ff" stroke-width="1.0"/>
<line x1="111.20" y1="255.10" x2="114.60" y2="255.10" stroke="#0000ff" stroke-width="1.0"/>
<line x1="111.20" y1="273.00" x2="114.60" y2="273.00" stroke="#0000ff" stroke-width="1.0"/>
<line x1="134.50" y1="251.40" x2="134.50" y2="257.00" stroke="#0000ff" stroke-width="1.0"/>
<line x1="132.80" y1="251.40" x2="136.20" y2="251.40" stroke="#0000ff" stroke-width="1.0"/>
<line x1="132.80" y1="257.00" x2="136.20" y2="257.00" stroke="#0000ff" stroke-width="1.0"/>
<line x1="137.50" y1="278.50" x2="137.50" y2="283.40" stroke="#0000ff" stroke-width="1.0"/>
<line x1="135.80" y1="278.50" x2="139.20" y2="278.50" stroke="#0000ff" stroke-width="1.0"/>
<line x1="135.80" y1="283.40" x2="139.20" y2="283.40" stroke="#0000ff" stroke-width="1.0"/>
<line x1="141.90" y1="263.60" x2="141.90" y2="268.80" stroke="#0000ff" stroke-width="0.6"/>
<line x1="140.20" y1="264.70" x2="143.60" y2="264.70" stroke="#0000ff" stroke-width="0.5"/>
<line x1="140.20" y1="267.70" x2="143.60" y2="267.70" stroke="#0000ff" stroke-width="0.6"/>
<line x1="168.50" y1="253.30" x2="168.50" y2="259.40" stroke="#0000ff" stroke-width="1.0"/>
<line x1="166.80" y1="253.30" x2="170.20" y2="253.30" stroke="#0000ff" stroke-width="1.0"/>
<line x1="166.80" y1="259.40" x2="170.20" y2="259.40" stroke="#0000ff" stroke-width="1.0"/>
<line x1="180.50" y1="271.00" x2="180.50" y2="274.40" stroke="#0000ff" stroke-width="1.0"/>
<line x1="178.80" y1="271.00" x2="182.20" y2="271.00" stroke="#0000ff" stroke-width="1.0"/>
<line x1="178.80" y1="274.40" x2="182.20" y2="274.40" stroke="#0000ff" stroke-width="1.0"/>
<line x1="215.20" y1="264.70" x2="215.20" y2="269.90" stroke="#0000ff" stroke-width="0.6"/>
<line x1="213.50" y1="265.80" x2="216.90" y2="265.80" stroke="#0000ff" stroke-width="0.5"/>
<line x1="213.50" y1="268.80" x2="216.90" y2="268.80" stroke="#0000ff" stroke-width="0.6"/>
<line x1="233.70" y1="282.00" x2="233.70" y2="289.40" stroke="#0000ff" stroke-width="1.0"/>
<line x1="232.00" y1="282.00" x2="235.40" y2="282.00" stroke="#0000ff" stroke-width="1.0"/>
<line x1="232.00" y1="289.40" x2="235.40" y2="289.40" stroke="#0000ff" stroke-width="1.0"/>
<line x1="257.00" y1="310.40" x2="257.00" y2="320.20" stroke="#0000ff" stroke-width="1.0"/>
<line x1="255.30" y1="310.40" x2="258.70" y2="310.40" stroke="#0000ff" stroke-width="1.0"/>
<line x1="255.30" y1="320.20" x2="258.70" y2="320.20" stroke="#0000ff" stroke-width="1.0"/>
<circle cx="58.20" cy="253.30" r="2.0" fill="#dadaff" fill-opacity="0.3" stroke="#0000ff" stroke-width="0.7" stroke-opacity="0.85"/>
<circle cx="64.30" cy="258.20" r="2.0" fill="#dadaff" fill-opacity="0.3" stroke="#0000ff" stroke-width="0.7" stroke-opacity="0.85"/>
<circle cx="65.00" cy="261.30" r="2.0" fill="#dadaff" fill-opacity="0.3" stroke="#0000ff" stroke-width="0.7" stroke-opacity="0.85"/>
<circle cx="68.00" cy="248.00" r="2.0" fill="#dadaff" fill-opacity="0.3" stroke="#0000ff" stroke-width="0.7" stroke-opacity="0.85"/>
<circle cx="76.70" cy="250.20" r="2.0" fill="#dadaff" fill-opacity="0.3" stroke="#0000ff" stroke-width="0.7" stroke-opacity="0.85"/>
<circle cx="76.30" cy="255.60" r="2.0" fill="#dadaff" fill-opacity="0.3" stroke="#0000ff" stroke-width="0.7" stroke-opacity="0.85"/>
<circle cx="79.20" cy="241.50" r="2.0" fill="#dadaff" fill-opacity="0.3" stroke="#0000ff" stroke-width="0.7" stroke-opacity="0.85"/>
<circle cx="83.60" cy="257.30" r="2.0" fill="#dadaff" fill-opacity="0.3" stroke="#0000ff" stroke-width="0.7" stroke-opacity="0.85"/>
<circle cx="89.20" cy="250.40" r="2.0" fill="#dadaff" fill-opacity="0.3" stroke="#0000ff" stroke-width="0.7" stroke-opacity="0.85"/>
<circle cx="95.00" cy="280.50" r="2.0" fill="#dadaff" fill-opacity="0.3" stroke="#0000ff" stroke-width="0.7" stroke-opacity="0.85"/>
<circle cx="105.50" cy="256.30" r="2.0" fill="#dadaff" fill-opacity="0.3" stroke="#0000ff" stroke-width="0.7" stroke-opacity="0.85"/>
<circle cx="107.40" cy="259.40" r="2.0" fill="#dadaff" fill-opacity="0.3" stroke="#0000ff" stroke-width="0.7" stroke-opacity="0.85"/>
<circle cx="112.90" cy="263.10" r="2.0" fill="#dadaff" fill-opacity="0.3" stroke="#0000ff" stroke-width="0.7" stroke-opacity="0.85"/>
<circle cx="134.50" cy="254.20" r="2.0" fill="#dadaff" fill-opacity="0.3" stroke="#0000ff" stroke-width="0.7" stroke-opacity="0.85"/>
<circle cx="137.50" cy="280.80" r="2.0" fill="#dadaff" fill-opacity="0.3" stroke="#0000ff" stroke-width="0.7" stroke-opacity="0.85"/>
<circle cx="141.90" cy="266.20" r="2.0" fill="#dadaff" fill-opacity="0.3" stroke="#0000ff" stroke-width="0.7" stroke-opacity="0.85"/>
<circle cx="168.50" cy="256.20" r="2.0" fill="#dadaff" fill-opacity="0.3" stroke="#0000ff" stroke-width="0.7" stroke-opacity="0.85"/>
<circle cx="180.50" cy="272.70" r="2.0" fill="#dadaff" fill-opacity="0.3" stroke="#0000ff" stroke-width="0.7" stroke-opacity="0.85"/>
<circle cx="215.20" cy="267.30" r="2.0" fill="#dadaff" fill-opacity="0.3" stroke="#0000ff" stroke-width="0.7" stroke-opacity="0.85"/>
<circle cx="233.70" cy="285.70" r="2.0" fill="#dadaff" fill-opacity="0.3" stroke="#0000ff" stroke-width="0.7" stroke-opacity="0.85"/>
<circle cx="257.00" cy="315.30" r="2.0" fill="#dadaff" fill-opacity="0.3" stroke="#0000ff" stroke-width="0.7" stroke-opacity="0.85"/>
</g>
<circle cx="40.80" cy="248.00" r="1.9" fill="#fff" stroke="#0000ff" stroke-width="1.0"/>
<g clip-path="url(#cA)">
<line x1="41.30" y1="33.58" x2="41.30" y2="42.60" stroke="#008000" stroke-width="0.95"/>
<line x1="39.60" y1="33.58" x2="43.00" y2="33.58" stroke="#008000" stroke-width="0.95"/>
<line x1="39.60" y1="42.60" x2="43.00" y2="42.60" stroke="#008000" stroke-width="0.95"/>
<line x1="45.07" y1="35.60" x2="45.07" y2="41.56" stroke="#008000" stroke-width="0.95"/>
<line x1="43.37" y1="35.60" x2="46.77" y2="35.60" stroke="#008000" stroke-width="0.95"/>
<line x1="43.37" y1="41.56" x2="46.77" y2="41.56" stroke="#008000" stroke-width="0.95"/>
<line x1="48.92" y1="38.89" x2="48.92" y2="44.09" stroke="#008000" stroke-width="0.6"/>
<line x1="47.22" y1="39.99" x2="50.62" y2="39.99" stroke="#008000" stroke-width="0.5"/>
<line x1="47.22" y1="42.99" x2="50.62" y2="42.99" stroke="#008000" stroke-width="0.6"/>
<line x1="52.56" y1="32.44" x2="52.56" y2="37.64" stroke="#008000" stroke-width="0.6"/>
<line x1="50.86" y1="33.54" x2="54.26" y2="33.54" stroke="#008000" stroke-width="0.5"/>
<line x1="50.86" y1="36.54" x2="54.26" y2="36.54" stroke="#008000" stroke-width="0.6"/>
<line x1="52.56" y1="38.48" x2="52.56" y2="43.68" stroke="#008000" stroke-width="0.6"/>
<line x1="50.86" y1="39.58" x2="54.26" y2="39.58" stroke="#008000" stroke-width="0.5"/>
<line x1="50.86" y1="42.58" x2="54.26" y2="42.58" stroke="#008000" stroke-width="0.6"/>
<line x1="56.37" y1="38.79" x2="56.37" y2="49.61" stroke="#008000" stroke-width="0.95"/>
<line x1="54.67" y1="38.79" x2="58.07" y2="38.79" stroke="#008000" stroke-width="0.95"/>
<line x1="54.67" y1="49.61" x2="58.07" y2="49.61" stroke="#008000" stroke-width="0.95"/>
<line x1="56.37" y1="40.14" x2="56.37" y2="45.34" stroke="#008000" stroke-width="0.6"/>
<line x1="54.67" y1="41.24" x2="58.07" y2="41.24" stroke="#008000" stroke-width="0.5"/>
<line x1="54.67" y1="44.24" x2="58.07" y2="44.24" stroke="#008000" stroke-width="0.6"/>
<line x1="64.24" y1="56.24" x2="64.24" y2="61.44" stroke="#008000" stroke-width="0.6"/>
<line x1="62.54" y1="57.34" x2="65.94" y2="57.34" stroke="#008000" stroke-width="0.5"/>
<line x1="62.54" y1="60.34" x2="65.94" y2="60.34" stroke="#008000" stroke-width="0.6"/>
<line x1="67.18" y1="52.57" x2="67.18" y2="57.77" stroke="#008000" stroke-width="0.6"/>
<line x1="65.48" y1="53.67" x2="68.88" y2="53.67" stroke="#008000" stroke-width="0.5"/>
<line x1="65.48" y1="56.67" x2="68.88" y2="56.67" stroke="#008000" stroke-width="0.6"/>
<line x1="71.62" y1="51.14" x2="71.62" y2="67.24" stroke="#008000" stroke-width="0.95"/>
<line x1="69.92" y1="51.14" x2="73.32" y2="51.14" stroke="#008000" stroke-width="0.95"/>
<line x1="69.92" y1="67.24" x2="73.32" y2="67.24" stroke="#008000" stroke-width="0.95"/>
<line x1="78.51" y1="82.06" x2="78.51" y2="87.26" stroke="#008000" stroke-width="0.6"/>
<line x1="76.81" y1="83.16" x2="80.21" y2="83.16" stroke="#008000" stroke-width="0.5"/>
<line x1="76.81" y1="86.16" x2="80.21" y2="86.16" stroke="#008000" stroke-width="0.6"/>
<line x1="83.12" y1="75.08" x2="83.12" y2="84.66" stroke="#008000" stroke-width="0.95"/>
<line x1="81.42" y1="75.08" x2="84.82" y2="75.08" stroke="#008000" stroke-width="0.95"/>
<line x1="81.42" y1="84.66" x2="84.82" y2="84.66" stroke="#008000" stroke-width="0.95"/>
<line x1="86.41" y1="74.74" x2="86.41" y2="89.45" stroke="#008000" stroke-width="0.95"/>
<line x1="84.71" y1="74.74" x2="88.11" y2="74.74" stroke="#008000" stroke-width="0.95"/>
<line x1="84.71" y1="89.45" x2="88.11" y2="89.45" stroke="#008000" stroke-width="0.95"/>
<line x1="86.41" y1="86.50" x2="86.41" y2="91.70" stroke="#008000" stroke-width="0.6"/>
<line x1="84.71" y1="87.60" x2="88.11" y2="87.60" stroke="#008000" stroke-width="0.5"/>
<line x1="84.71" y1="90.60" x2="88.11" y2="90.60" stroke="#008000" stroke-width="0.6"/>
<line x1="94.49" y1="113.04" x2="94.49" y2="123.38" stroke="#008000" stroke-width="0.95"/>
<line x1="92.79" y1="113.04" x2="96.19" y2="113.04" stroke="#008000" stroke-width="0.95"/>
<line x1="92.79" y1="123.38" x2="96.19" y2="123.38" stroke="#008000" stroke-width="0.95"/>
<line x1="101.52" y1="88.96" x2="101.52" y2="107.00" stroke="#008000" stroke-width="0.95"/>
<line x1="99.82" y1="88.96" x2="103.22" y2="88.96" stroke="#008000" stroke-width="0.95"/>
<line x1="99.82" y1="107.00" x2="103.22" y2="107.00" stroke="#008000" stroke-width="0.95"/>
<line x1="101.52" y1="106.97" x2="101.52" y2="112.17" stroke="#008000" stroke-width="0.6"/>
<line x1="99.82" y1="108.07" x2="103.22" y2="108.07" stroke="#008000" stroke-width="0.5"/>
<line x1="99.82" y1="111.07" x2="103.22" y2="111.07" stroke="#008000" stroke-width="0.6"/>
<line x1="101.52" y1="111.14" x2="101.52" y2="116.34" stroke="#008000" stroke-width="0.6"/>
<line x1="99.82" y1="112.24" x2="103.22" y2="112.24" stroke="#008000" stroke-width="0.5"/>
<line x1="99.82" y1="115.24" x2="103.22" y2="115.24" stroke="#008000" stroke-width="0.6"/>
<line x1="113.13" y1="129.35" x2="113.13" y2="144.27" stroke="#008000" stroke-width="0.95"/>
<line x1="111.43" y1="129.35" x2="114.83" y2="129.35" stroke="#008000" stroke-width="0.95"/>
<line x1="111.43" y1="144.27" x2="114.83" y2="144.27" stroke="#008000" stroke-width="0.95"/>
<line x1="116.80" y1="113.84" x2="116.80" y2="119.04" stroke="#008000" stroke-width="0.6"/>
<line x1="115.10" y1="114.94" x2="118.50" y2="114.94" stroke="#008000" stroke-width="0.5"/>
<line x1="115.10" y1="117.94" x2="118.50" y2="117.94" stroke="#008000" stroke-width="0.6"/>
<line x1="116.80" y1="116.44" x2="116.80" y2="136.22" stroke="#008000" stroke-width="0.95"/>
<line x1="115.10" y1="116.44" x2="118.50" y2="116.44" stroke="#008000" stroke-width="0.95"/>
<line x1="115.10" y1="136.22" x2="118.50" y2="136.22" stroke="#008000" stroke-width="0.95"/>
<rect x="39.80" y="36.59" width="3.0" height="3.0" fill="#d8ecd8" fill-opacity="0.7" stroke="#008000" stroke-width="0.6" stroke-opacity="0.7"/>
<rect x="43.57" y="37.84" width="3.0" height="3.0" fill="#d8ecd8" fill-opacity="0.7" stroke="#008000" stroke-width="0.6" stroke-opacity="0.7"/>
<rect x="47.42" y="39.99" width="3.0" height="3.0" fill="#d8ecd8" fill-opacity="0.7" stroke="#008000" stroke-width="0.6" stroke-opacity="0.7"/>
<rect x="51.06" y="33.54" width="3.0" height="3.0" fill="#d8ecd8" fill-opacity="0.7" stroke="#008000" stroke-width="0.6" stroke-opacity="0.7"/>
<rect x="51.06" y="39.58" width="3.0" height="3.0" fill="#d8ecd8" fill-opacity="0.7" stroke="#008000" stroke-width="0.6" stroke-opacity="0.7"/>
<rect x="54.87" y="39.09" width="3.0" height="3.0" fill="#d8ecd8" fill-opacity="0.7" stroke="#008000" stroke-width="0.6" stroke-opacity="0.7"/>
<rect x="54.87" y="41.24" width="3.0" height="3.0" fill="#d8ecd8" fill-opacity="0.7" stroke="#008000" stroke-width="0.6" stroke-opacity="0.7"/>
<rect x="62.74" y="57.34" width="3.0" height="3.0" fill="#d8ecd8" fill-opacity="0.7" stroke="#008000" stroke-width="0.6" stroke-opacity="0.7"/>
<rect x="65.68" y="53.67" width="3.0" height="3.0" fill="#d8ecd8" fill-opacity="0.7" stroke="#008000" stroke-width="0.6" stroke-opacity="0.7"/>
<rect x="70.12" y="53.11" width="3.0" height="3.0" fill="#d8ecd8" fill-opacity="0.7" stroke="#008000" stroke-width="0.6" stroke-opacity="0.7"/>
<rect x="77.01" y="83.16" width="3.0" height="3.0" fill="#d8ecd8" fill-opacity="0.7" stroke="#008000" stroke-width="0.6" stroke-opacity="0.7"/>
<rect x="81.62" y="78.02" width="3.0" height="3.0" fill="#d8ecd8" fill-opacity="0.7" stroke="#008000" stroke-width="0.6" stroke-opacity="0.7"/>
<rect x="84.91" y="79.48" width="3.0" height="3.0" fill="#d8ecd8" fill-opacity="0.7" stroke="#008000" stroke-width="0.6" stroke-opacity="0.7"/>
<rect x="84.91" y="87.60" width="3.0" height="3.0" fill="#d8ecd8" fill-opacity="0.7" stroke="#008000" stroke-width="0.6" stroke-opacity="0.7"/>
<rect x="92.99" y="115.84" width="3.0" height="3.0" fill="#d8ecd8" fill-opacity="0.7" stroke="#008000" stroke-width="0.6" stroke-opacity="0.7"/>
<rect x="100.02" y="93.50" width="3.0" height="3.0" fill="#d8ecd8" fill-opacity="0.7" stroke="#008000" stroke-width="0.6" stroke-opacity="0.7"/>
<rect x="100.02" y="108.07" width="3.0" height="3.0" fill="#d8ecd8" fill-opacity="0.7" stroke="#008000" stroke-width="0.6" stroke-opacity="0.7"/>
<rect x="100.02" y="112.24" width="3.0" height="3.0" fill="#d8ecd8" fill-opacity="0.7" stroke="#008000" stroke-width="0.6" stroke-opacity="0.7"/>
<rect x="111.63" y="134.10" width="3.0" height="3.0" fill="#d8ecd8" fill-opacity="0.7" stroke="#008000" stroke-width="0.6" stroke-opacity="0.7"/>
<rect x="115.30" y="114.94" width="3.0" height="3.0" fill="#d8ecd8" fill-opacity="0.7" stroke="#008000" stroke-width="0.6" stroke-opacity="0.7"/>
<rect x="115.30" y="125.28" width="3.0" height="3.0" fill="#d8ecd8" fill-opacity="0.7" stroke="#008000" stroke-width="0.6" stroke-opacity="0.7"/>
</g>
<g clip-path="url(#cA)">
<line x1="45.07" y1="33.76" x2="45.07" y2="38.96" stroke="#ff0000" stroke-width="0.6"/>
<line x1="43.37" y1="34.86" x2="46.77" y2="34.86" stroke="#ff0000" stroke-width="0.5"/>
<line x1="43.37" y1="37.86" x2="46.77" y2="37.86" stroke="#ff0000" stroke-width="0.6"/>
<line x1="48.92" y1="34.18" x2="48.92" y2="39.38" stroke="#ff0000" stroke-width="0.6"/>
<line x1="47.22" y1="35.28" x2="50.62" y2="35.28" stroke="#ff0000" stroke-width="0.5"/>
<line x1="47.22" y1="38.28" x2="50.62" y2="38.28" stroke="#ff0000" stroke-width="0.6"/>
<line x1="52.97" y1="42.71" x2="52.97" y2="47.91" stroke="#ff0000" stroke-width="0.6"/>
<line x1="51.27" y1="43.81" x2="54.67" y2="43.81" stroke="#ff0000" stroke-width="0.5"/>
<line x1="51.27" y1="46.81" x2="54.67" y2="46.81" stroke="#ff0000" stroke-width="0.6"/>
<line x1="56.61" y1="45.70" x2="56.61" y2="50.90" stroke="#ff0000" stroke-width="0.6"/>
<line x1="54.91" y1="46.80" x2="58.31" y2="46.80" stroke="#ff0000" stroke-width="0.5"/>
<line x1="54.91" y1="49.80" x2="58.31" y2="49.80" stroke="#ff0000" stroke-width="0.6"/>
<line x1="71.51" y1="63.67" x2="71.51" y2="68.87" stroke="#ff0000" stroke-width="0.6"/>
<line x1="69.81" y1="64.77" x2="73.21" y2="64.77" stroke="#ff0000" stroke-width="0.5"/>
<line x1="69.81" y1="67.77" x2="73.21" y2="67.77" stroke="#ff0000" stroke-width="0.6"/>
<line x1="71.51" y1="59.61" x2="71.51" y2="75.85" stroke="#ff0000" stroke-width="0.95"/>
<line x1="69.81" y1="59.61" x2="73.21" y2="59.61" stroke="#ff0000" stroke-width="0.95"/>
<line x1="69.81" y1="75.85" x2="73.21" y2="75.85" stroke="#ff0000" stroke-width="0.95"/>
<line x1="86.45" y1="71.79" x2="86.45" y2="76.99" stroke="#ff0000" stroke-width="0.6"/>
<line x1="84.75" y1="72.89" x2="88.15" y2="72.89" stroke="#ff0000" stroke-width="0.5"/>
<line x1="84.75" y1="75.89" x2="88.15" y2="75.89" stroke="#ff0000" stroke-width="0.6"/>
<line x1="86.52" y1="90.66" x2="86.52" y2="95.86" stroke="#ff0000" stroke-width="0.6"/>
<line x1="84.82" y1="91.76" x2="88.22" y2="91.76" stroke="#ff0000" stroke-width="0.5"/>
<line x1="84.82" y1="94.76" x2="88.22" y2="94.76" stroke="#ff0000" stroke-width="0.6"/>
<line x1="86.52" y1="73.49" x2="86.52" y2="101.87" stroke="#ff0000" stroke-width="0.95"/>
<line x1="84.82" y1="73.49" x2="88.22" y2="73.49" stroke="#ff0000" stroke-width="0.95"/>
<line x1="84.82" y1="101.87" x2="88.22" y2="101.87" stroke="#ff0000" stroke-width="0.95"/>
<line x1="101.52" y1="105.27" x2="101.52" y2="131.92" stroke="#ff0000" stroke-width="0.95"/>
<line x1="99.82" y1="105.27" x2="103.22" y2="105.27" stroke="#ff0000" stroke-width="0.95"/>
<line x1="99.82" y1="131.92" x2="103.22" y2="131.92" stroke="#ff0000" stroke-width="0.95"/>
<line x1="116.80" y1="107.91" x2="116.80" y2="119.91" stroke="#ff0000" stroke-width="0.95"/>
<line x1="115.10" y1="107.91" x2="118.50" y2="107.91" stroke="#ff0000" stroke-width="0.95"/>
<line x1="115.10" y1="119.91" x2="118.50" y2="119.91" stroke="#ff0000" stroke-width="0.95"/>
<line x1="116.80" y1="142.88" x2="116.80" y2="170.64" stroke="#ff0000" stroke-width="0.95"/>
<line x1="115.10" y1="142.88" x2="118.50" y2="142.88" stroke="#ff0000" stroke-width="0.95"/>
<line x1="115.10" y1="170.64" x2="118.50" y2="170.64" stroke="#ff0000" stroke-width="0.95"/>
<rect x="43.57" y="34.86" width="3.0" height="3.0" fill="#ffdede" fill-opacity="0.7" stroke="#ff0000" stroke-width="0.6" stroke-opacity="0.7"/>
<rect x="47.42" y="35.28" width="3.0" height="3.0" fill="#ffdede" fill-opacity="0.7" stroke="#ff0000" stroke-width="0.6" stroke-opacity="0.7"/>
<rect x="51.47" y="43.81" width="3.0" height="3.0" fill="#ffdede" fill-opacity="0.7" stroke="#ff0000" stroke-width="0.6" stroke-opacity="0.7"/>
<rect x="55.11" y="46.80" width="3.0" height="3.0" fill="#ffdede" fill-opacity="0.7" stroke="#ff0000" stroke-width="0.6" stroke-opacity="0.7"/>
<rect x="70.01" y="64.77" width="3.0" height="3.0" fill="#ffdede" fill-opacity="0.7" stroke="#ff0000" stroke-width="0.6" stroke-opacity="0.7"/>
<rect x="70.01" y="71.71" width="3.0" height="3.0" fill="#ffdede" fill-opacity="0.7" stroke="#ff0000" stroke-width="0.6" stroke-opacity="0.7"/>
<rect x="84.95" y="72.89" width="3.0" height="3.0" fill="#ffdede" fill-opacity="0.7" stroke="#ff0000" stroke-width="0.6" stroke-opacity="0.7"/>
<rect x="85.02" y="91.76" width="3.0" height="3.0" fill="#ffdede" fill-opacity="0.7" stroke="#ff0000" stroke-width="0.6" stroke-opacity="0.7"/>
<rect x="85.02" y="97.80" width="3.0" height="3.0" fill="#ffdede" fill-opacity="0.7" stroke="#ff0000" stroke-width="0.6" stroke-opacity="0.7"/>
<rect x="100.02" y="121.88" width="3.0" height="3.0" fill="#ffdede" fill-opacity="0.7" stroke="#ff0000" stroke-width="0.6" stroke-opacity="0.7"/>
<rect x="115.30" y="112.37" width="3.0" height="3.0" fill="#ffdede" fill-opacity="0.7" stroke="#ff0000" stroke-width="0.6" stroke-opacity="0.7"/>
<rect x="115.30" y="151.51" width="3.0" height="3.0" fill="#ffdede" fill-opacity="0.7" stroke="#ff0000" stroke-width="0.6" stroke-opacity="0.7"/>
</g>
<g clip-path="url(#cA)">
<line x1="47.43" y1="38.48" x2="47.43" y2="43.68" stroke="#0000ff" stroke-width="0.6"/>
<line x1="45.73" y1="39.58" x2="49.13" y2="39.58" stroke="#0000ff" stroke-width="0.5"/>
<line x1="45.73" y1="42.58" x2="49.13" y2="42.58" stroke="#0000ff" stroke-width="0.6"/>
<line x1="49.54" y1="41.88" x2="49.54" y2="47.08" stroke="#0000ff" stroke-width="0.6"/>
<line x1="47.84" y1="42.98" x2="51.24" y2="42.98" stroke="#0000ff" stroke-width="0.5"/>
<line x1="47.84" y1="45.98" x2="51.24" y2="45.98" stroke="#0000ff" stroke-width="0.6"/>
<line x1="49.79" y1="44.03" x2="49.79" y2="49.23" stroke="#0000ff" stroke-width="0.6"/>
<line x1="48.09" y1="45.13" x2="51.49" y2="45.13" stroke="#0000ff" stroke-width="0.5"/>
<line x1="48.09" y1="48.13" x2="51.49" y2="48.13" stroke="#0000ff" stroke-width="0.6"/>
<line x1="50.83" y1="34.80" x2="50.83" y2="40.00" stroke="#0000ff" stroke-width="0.6"/>
<line x1="49.13" y1="35.90" x2="52.53" y2="35.90" stroke="#0000ff" stroke-width="0.5"/>
<line x1="49.13" y1="38.90" x2="52.53" y2="38.90" stroke="#0000ff" stroke-width="0.6"/>
<line x1="53.84" y1="36.33" x2="53.84" y2="41.53" stroke="#0000ff" stroke-width="0.6"/>
<line x1="52.14" y1="37.43" x2="55.54" y2="37.43" stroke="#0000ff" stroke-width="0.5"/>
<line x1="52.14" y1="40.43" x2="55.54" y2="40.43" stroke="#0000ff" stroke-width="0.6"/>
<line x1="53.70" y1="38.16" x2="53.70" y2="47.12" stroke="#0000ff" stroke-width="1.0"/>
<line x1="52.00" y1="38.16" x2="55.40" y2="38.16" stroke="#0000ff" stroke-width="1.0"/>
<line x1="52.00" y1="47.12" x2="55.40" y2="47.12" stroke="#0000ff" stroke-width="1.0"/>
<line x1="54.71" y1="31.15" x2="54.71" y2="34.62" stroke="#0000ff" stroke-width="1.0"/>
<line x1="53.01" y1="31.15" x2="56.41" y2="31.15" stroke="#0000ff" stroke-width="1.0"/>
<line x1="53.01" y1="34.62" x2="56.41" y2="34.62" stroke="#0000ff" stroke-width="1.0"/>
<line x1="56.23" y1="41.25" x2="56.23" y2="46.45" stroke="#0000ff" stroke-width="0.6"/>
<line x1="54.53" y1="42.35" x2="57.93" y2="42.35" stroke="#0000ff" stroke-width="0.5"/>
<line x1="54.53" y1="45.35" x2="57.93" y2="45.35" stroke="#0000ff" stroke-width="0.6"/>
<line x1="58.17" y1="36.47" x2="58.17" y2="41.67" stroke="#0000ff" stroke-width="0.6"/>
<line x1="56.47" y1="37.57" x2="59.87" y2="37.57" stroke="#0000ff" stroke-width="0.5"/>
<line x1="56.47" y1="40.57" x2="59.87" y2="40.57" stroke="#0000ff" stroke-width="0.6"/>
<line x1="60.18" y1="57.73" x2="60.18" y2="62.17" stroke="#0000ff" stroke-width="1.0"/>
<line x1="58.48" y1="57.73" x2="61.88" y2="57.73" stroke="#0000ff" stroke-width="1.0"/>
<line x1="58.48" y1="62.17" x2="61.88" y2="62.17" stroke="#0000ff" stroke-width="1.0"/>
<line x1="63.82" y1="40.56" x2="63.82" y2="45.76" stroke="#0000ff" stroke-width="0.6"/>
<line x1="62.12" y1="41.66" x2="65.52" y2="41.66" stroke="#0000ff" stroke-width="0.5"/>
<line x1="62.12" y1="44.66" x2="65.52" y2="44.66" stroke="#0000ff" stroke-width="0.6"/>
<line x1="64.48" y1="42.71" x2="64.48" y2="47.91" stroke="#0000ff" stroke-width="0.6"/>
<line x1="62.78" y1="43.81" x2="66.18" y2="43.81" stroke="#0000ff" stroke-width="0.5"/>
<line x1="62.78" y1="46.81" x2="66.18" y2="46.81" stroke="#0000ff" stroke-width="0.6"/>
<line x1="66.38" y1="42.33" x2="66.38" y2="54.75" stroke="#0000ff" stroke-width="1.0"/>
<line x1="64.68" y1="42.33" x2="68.08" y2="42.33" stroke="#0000ff" stroke-width="1.0"/>
<line x1="64.68" y1="54.75" x2="68.08" y2="54.75" stroke="#0000ff" stroke-width="1.0"/>
<line x1="73.87" y1="39.76" x2="73.87" y2="43.65" stroke="#0000ff" stroke-width="1.0"/>
<line x1="72.17" y1="39.76" x2="75.57" y2="39.76" stroke="#0000ff" stroke-width="1.0"/>
<line x1="72.17" y1="43.65" x2="75.57" y2="43.65" stroke="#0000ff" stroke-width="1.0"/>
<line x1="74.91" y1="58.57" x2="74.91" y2="61.97" stroke="#0000ff" stroke-width="1.0"/>
<line x1="73.21" y1="58.57" x2="76.61" y2="58.57" stroke="#0000ff" stroke-width="1.0"/>
<line x1="73.21" y1="61.97" x2="76.61" y2="61.97" stroke="#0000ff" stroke-width="1.0"/>
<line x1="76.43" y1="47.43" x2="76.43" y2="52.63" stroke="#0000ff" stroke-width="0.6"/>
<line x1="74.73" y1="48.53" x2="78.13" y2="48.53" stroke="#0000ff" stroke-width="0.5"/>
<line x1="74.73" y1="51.53" x2="78.13" y2="51.53" stroke="#0000ff" stroke-width="0.6"/>
<line x1="85.65" y1="41.08" x2="85.65" y2="45.31" stroke="#0000ff" stroke-width="1.0"/>
<line x1="83.95" y1="41.08" x2="87.35" y2="41.08" stroke="#0000ff" stroke-width="1.0"/>
<line x1="83.95" y1="45.31" x2="87.35" y2="45.31" stroke="#0000ff" stroke-width="1.0"/>
<line x1="89.81" y1="53.36" x2="89.81" y2="55.72" stroke="#0000ff" stroke-width="1.0"/>
<line x1="88.11" y1="53.36" x2="91.51" y2="53.36" stroke="#0000ff" stroke-width="1.0"/>
<line x1="88.11" y1="55.72" x2="91.51" y2="55.72" stroke="#0000ff" stroke-width="1.0"/>
<line x1="101.83" y1="48.19" x2="101.83" y2="53.39" stroke="#0000ff" stroke-width="0.6"/>
<line x1="100.13" y1="49.29" x2="103.53" y2="49.29" stroke="#0000ff" stroke-width="0.5"/>
<line x1="100.13" y1="52.29" x2="103.53" y2="52.29" stroke="#0000ff" stroke-width="0.6"/>
<line x1="108.24" y1="60.99" x2="108.24" y2="66.13" stroke="#0000ff" stroke-width="1.0"/>
<line x1="106.54" y1="60.99" x2="109.94" y2="60.99" stroke="#0000ff" stroke-width="1.0"/>
<line x1="106.54" y1="66.13" x2="109.94" y2="66.13" stroke="#0000ff" stroke-width="1.0"/>
<line x1="116.32" y1="80.70" x2="116.32" y2="87.50" stroke="#0000ff" stroke-width="1.0"/>
<line x1="114.62" y1="80.70" x2="118.02" y2="80.70" stroke="#0000ff" stroke-width="1.0"/>
<line x1="114.62" y1="87.50" x2="118.02" y2="87.50" stroke="#0000ff" stroke-width="1.0"/>
<line x1="134.20" y1="40.20" x2="134.20" y2="45.40" stroke="#0000ff" stroke-width="0.6"/>
<line x1="132.50" y1="41.30" x2="135.90" y2="41.30" stroke="#0000ff" stroke-width="0.5"/>
<line x1="132.50" y1="44.30" x2="135.90" y2="44.30" stroke="#0000ff" stroke-width="0.6"/>
<line x1="131.70" y1="58.50" x2="131.70" y2="63.70" stroke="#0000ff" stroke-width="0.6"/>
<line x1="130.00" y1="59.60" x2="133.40" y2="59.60" stroke="#0000ff" stroke-width="0.5"/>
<line x1="130.00" y1="62.60" x2="133.40" y2="62.60" stroke="#0000ff" stroke-width="0.6"/>
<line x1="139.80" y1="61.60" x2="139.80" y2="66.80" stroke="#0000ff" stroke-width="0.6"/>
<line x1="138.10" y1="62.70" x2="141.50" y2="62.70" stroke="#0000ff" stroke-width="0.5"/>
<line x1="138.10" y1="65.70" x2="141.50" y2="65.70" stroke="#0000ff" stroke-width="0.6"/>
<line x1="154.30" y1="54.20" x2="154.30" y2="62.60" stroke="#0000ff" stroke-width="1.0"/>
<line x1="152.60" y1="54.20" x2="156.00" y2="54.20" stroke="#0000ff" stroke-width="1.0"/>
<line x1="152.60" y1="62.60" x2="156.00" y2="62.60" stroke="#0000ff" stroke-width="1.0"/>
<line x1="154.30" y1="65.70" x2="154.30" y2="70.90" stroke="#0000ff" stroke-width="0.6"/>
<line x1="152.60" y1="66.80" x2="156.00" y2="66.80" stroke="#0000ff" stroke-width="0.5"/>
<line x1="152.60" y1="69.80" x2="156.00" y2="69.80" stroke="#0000ff" stroke-width="0.6"/>
<line x1="161.90" y1="63.40" x2="161.90" y2="68.60" stroke="#0000ff" stroke-width="0.6"/>
<line x1="160.20" y1="64.50" x2="163.60" y2="64.50" stroke="#0000ff" stroke-width="0.5"/>
<line x1="160.20" y1="67.50" x2="163.60" y2="67.50" stroke="#0000ff" stroke-width="0.6"/>
<line x1="155.80" y1="83.00" x2="155.80" y2="90.00" stroke="#0000ff" stroke-width="1.0"/>
<line x1="154.10" y1="83.00" x2="157.50" y2="83.00" stroke="#0000ff" stroke-width="1.0"/>
<line x1="154.10" y1="90.00" x2="157.50" y2="90.00" stroke="#0000ff" stroke-width="1.0"/>
<line x1="168.70" y1="111.30" x2="168.70" y2="126.10" stroke="#0000ff" stroke-width="1.0"/>
<line x1="167.00" y1="111.30" x2="170.40" y2="111.30" stroke="#0000ff" stroke-width="1.0"/>
<line x1="167.00" y1="126.10" x2="170.40" y2="126.10" stroke="#0000ff" stroke-width="1.0"/>
<line x1="177.80" y1="114.40" x2="177.80" y2="119.60" stroke="#0000ff" stroke-width="0.6"/>
<line x1="176.10" y1="115.50" x2="179.50" y2="115.50" stroke="#0000ff" stroke-width="0.5"/>
<line x1="176.10" y1="118.50" x2="179.50" y2="118.50" stroke="#0000ff" stroke-width="0.6"/>
<line x1="213.30" y1="77.70" x2="213.30" y2="91.30" stroke="#0000ff" stroke-width="1.0"/>
<line x1="211.60" y1="77.70" x2="215.00" y2="77.70" stroke="#0000ff" stroke-width="1.0"/>
<line x1="211.60" y1="91.30" x2="215.00" y2="91.30" stroke="#0000ff" stroke-width="1.0"/>
<line x1="211.50" y1="98.90" x2="211.50" y2="104.10" stroke="#0000ff" stroke-width="0.6"/>
<line x1="209.80" y1="100.00" x2="213.20" y2="100.00" stroke="#0000ff" stroke-width="0.5"/>
<line x1="209.80" y1="103.00" x2="213.20" y2="103.00" stroke="#0000ff" stroke-width="0.6"/>
<line x1="268.40" y1="88.50" x2="268.40" y2="93.70" stroke="#0000ff" stroke-width="0.6"/>
<line x1="266.70" y1="89.60" x2="270.10" y2="89.60" stroke="#0000ff" stroke-width="0.5"/>
<line x1="266.70" y1="92.60" x2="270.10" y2="92.60" stroke="#0000ff" stroke-width="0.6"/>
<line x1="198.50" y1="124.00" x2="198.50" y2="138.80" stroke="#0000ff" stroke-width="1.0"/>
<line x1="196.80" y1="124.00" x2="200.20" y2="124.00" stroke="#0000ff" stroke-width="1.0"/>
<line x1="196.80" y1="138.80" x2="200.20" y2="138.80" stroke="#0000ff" stroke-width="1.0"/>
<line x1="225.20" y1="124.00" x2="225.20" y2="136.50" stroke="#0000ff" stroke-width="1.0"/>
<line x1="223.50" y1="124.00" x2="226.90" y2="124.00" stroke="#0000ff" stroke-width="1.0"/>
<line x1="223.50" y1="136.50" x2="226.90" y2="136.50" stroke="#0000ff" stroke-width="1.0"/>
<line x1="268.30" y1="151.10" x2="268.30" y2="167.10" stroke="#0000ff" stroke-width="1.0"/>
<line x1="266.60" y1="151.10" x2="270.00" y2="151.10" stroke="#0000ff" stroke-width="1.0"/>
<line x1="266.60" y1="167.10" x2="270.00" y2="167.10" stroke="#0000ff" stroke-width="1.0"/>
<circle cx="47.43" cy="41.08" r="2.0" fill="#dadaff" fill-opacity="0.3" stroke="#0000ff" stroke-width="0.7" stroke-opacity="0.85"/>
<circle cx="49.54" cy="44.48" r="2.0" fill="#dadaff" fill-opacity="0.3" stroke="#0000ff" stroke-width="0.7" stroke-opacity="0.85"/>
<circle cx="49.79" cy="46.63" r="2.0" fill="#dadaff" fill-opacity="0.3" stroke="#0000ff" stroke-width="0.7" stroke-opacity="0.85"/>
<circle cx="50.83" cy="37.40" r="2.0" fill="#dadaff" fill-opacity="0.3" stroke="#0000ff" stroke-width="0.7" stroke-opacity="0.85"/>
<circle cx="53.84" cy="38.93" r="2.0" fill="#dadaff" fill-opacity="0.3" stroke="#0000ff" stroke-width="0.7" stroke-opacity="0.85"/>
<circle cx="53.70" cy="42.67" r="2.0" fill="#dadaff" fill-opacity="0.3" stroke="#0000ff" stroke-width="0.7" stroke-opacity="0.85"/>
<circle cx="54.71" cy="32.89" r="2.0" fill="#dadaff" fill-opacity="0.3" stroke="#0000ff" stroke-width="0.7" stroke-opacity="0.85"/>
<circle cx="56.23" cy="43.85" r="2.0" fill="#dadaff" fill-opacity="0.3" stroke="#0000ff" stroke-width="0.7" stroke-opacity="0.85"/>
<circle cx="58.17" cy="39.07" r="2.0" fill="#dadaff" fill-opacity="0.3" stroke="#0000ff" stroke-width="0.7" stroke-opacity="0.85"/>
<circle cx="60.18" cy="59.95" r="2.0" fill="#dadaff" fill-opacity="0.3" stroke="#0000ff" stroke-width="0.7" stroke-opacity="0.85"/>
<circle cx="63.82" cy="43.16" r="2.0" fill="#dadaff" fill-opacity="0.3" stroke="#0000ff" stroke-width="0.7" stroke-opacity="0.85"/>
<circle cx="64.48" cy="45.31" r="2.0" fill="#dadaff" fill-opacity="0.3" stroke="#0000ff" stroke-width="0.7" stroke-opacity="0.85"/>
<circle cx="66.38" cy="47.88" r="2.0" fill="#dadaff" fill-opacity="0.3" stroke="#0000ff" stroke-width="0.7" stroke-opacity="0.85"/>
<circle cx="73.87" cy="41.70" r="2.0" fill="#dadaff" fill-opacity="0.3" stroke="#0000ff" stroke-width="0.7" stroke-opacity="0.85"/>
<circle cx="74.91" cy="60.16" r="2.0" fill="#dadaff" fill-opacity="0.3" stroke="#0000ff" stroke-width="0.7" stroke-opacity="0.85"/>
<circle cx="76.43" cy="50.03" r="2.0" fill="#dadaff" fill-opacity="0.3" stroke="#0000ff" stroke-width="0.7" stroke-opacity="0.85"/>
<circle cx="85.65" cy="43.09" r="2.0" fill="#dadaff" fill-opacity="0.3" stroke="#0000ff" stroke-width="0.7" stroke-opacity="0.85"/>
<circle cx="89.81" cy="54.54" r="2.0" fill="#dadaff" fill-opacity="0.3" stroke="#0000ff" stroke-width="0.7" stroke-opacity="0.85"/>
<circle cx="101.83" cy="50.79" r="2.0" fill="#dadaff" fill-opacity="0.3" stroke="#0000ff" stroke-width="0.7" stroke-opacity="0.85"/>
<circle cx="108.24" cy="63.56" r="2.0" fill="#dadaff" fill-opacity="0.3" stroke="#0000ff" stroke-width="0.7" stroke-opacity="0.85"/>
<circle cx="116.32" cy="84.10" r="2.0" fill="#dadaff" fill-opacity="0.3" stroke="#0000ff" stroke-width="0.7" stroke-opacity="0.85"/>
<circle cx="134.20" cy="42.80" r="2.0" fill="#dadaff" fill-opacity="0.3" stroke="#0000ff" stroke-width="0.7" stroke-opacity="0.85"/>
<circle cx="131.70" cy="61.10" r="2.0" fill="#dadaff" fill-opacity="0.3" stroke="#0000ff" stroke-width="0.7" stroke-opacity="0.85"/>
<circle cx="139.80" cy="64.20" r="2.0" fill="#dadaff" fill-opacity="0.3" stroke="#0000ff" stroke-width="0.7" stroke-opacity="0.85"/>
<circle cx="154.30" cy="58.30" r="2.0" fill="#dadaff" fill-opacity="0.3" stroke="#0000ff" stroke-width="0.7" stroke-opacity="0.85"/>
<circle cx="154.30" cy="68.30" r="2.0" fill="#dadaff" fill-opacity="0.3" stroke="#0000ff" stroke-width="0.7" stroke-opacity="0.85"/>
<circle cx="161.90" cy="66.00" r="2.0" fill="#dadaff" fill-opacity="0.3" stroke="#0000ff" stroke-width="0.7" stroke-opacity="0.85"/>
<circle cx="155.80" cy="86.40" r="2.0" fill="#dadaff" fill-opacity="0.3" stroke="#0000ff" stroke-width="0.7" stroke-opacity="0.85"/>
<circle cx="168.70" cy="118.50" r="2.0" fill="#dadaff" fill-opacity="0.3" stroke="#0000ff" stroke-width="0.7" stroke-opacity="0.85"/>
<circle cx="177.80" cy="117.00" r="2.0" fill="#dadaff" fill-opacity="0.3" stroke="#0000ff" stroke-width="0.7" stroke-opacity="0.85"/>
<circle cx="213.30" cy="83.80" r="2.0" fill="#dadaff" fill-opacity="0.3" stroke="#0000ff" stroke-width="0.7" stroke-opacity="0.85"/>
<circle cx="211.50" cy="101.50" r="2.0" fill="#dadaff" fill-opacity="0.3" stroke="#0000ff" stroke-width="0.7" stroke-opacity="0.85"/>
<circle cx="268.40" cy="91.10" r="2.0" fill="#dadaff" fill-opacity="0.3" stroke="#0000ff" stroke-width="0.7" stroke-opacity="0.85"/>
<circle cx="198.50" cy="131.00" r="2.0" fill="#dadaff" fill-opacity="0.3" stroke="#0000ff" stroke-width="0.7" stroke-opacity="0.85"/>
<circle cx="225.20" cy="129.60" r="2.0" fill="#dadaff" fill-opacity="0.3" stroke="#0000ff" stroke-width="0.7" stroke-opacity="0.85"/>
<circle cx="268.30" cy="157.80" r="2.0" fill="#dadaff" fill-opacity="0.3" stroke="#0000ff" stroke-width="0.7" stroke-opacity="0.85"/>
</g>
<circle cx="41.40" cy="37.40" r="1.9" fill="#fff" stroke="#0000ff" stroke-width="1.0"/>
<g clip-path="url(#cD)">
<line x1="338.20" y1="248.20" x2="338.20" y2="253.40" stroke="#008000" stroke-width="0.6"/>
<line x1="336.50" y1="249.30" x2="339.90" y2="249.30" stroke="#008000" stroke-width="0.5"/>
<line x1="336.50" y1="252.30" x2="339.90" y2="252.30" stroke="#008000" stroke-width="0.6"/>
<line x1="349.00" y1="253.70" x2="349.00" y2="258.90" stroke="#008000" stroke-width="0.6"/>
<line x1="347.30" y1="254.80" x2="350.70" y2="254.80" stroke="#008000" stroke-width="0.5"/>
<line x1="347.30" y1="257.80" x2="350.70" y2="257.80" stroke="#008000" stroke-width="0.6"/>
<line x1="349.00" y1="256.20" x2="349.00" y2="261.40" stroke="#008000" stroke-width="0.6"/>
<line x1="347.30" y1="257.30" x2="350.70" y2="257.30" stroke="#008000" stroke-width="0.5"/>
<line x1="347.30" y1="260.30" x2="350.70" y2="260.30" stroke="#008000" stroke-width="0.6"/>
<line x1="359.40" y1="244.90" x2="359.40" y2="250.10" stroke="#008000" stroke-width="0.6"/>
<line x1="357.70" y1="246.00" x2="361.10" y2="246.00" stroke="#008000" stroke-width="0.5"/>
<line x1="357.70" y1="249.00" x2="361.10" y2="249.00" stroke="#008000" stroke-width="0.6"/>
<line x1="357.00" y1="251.40" x2="357.00" y2="256.60" stroke="#008000" stroke-width="0.6"/>
<line x1="355.30" y1="252.50" x2="358.70" y2="252.50" stroke="#008000" stroke-width="0.5"/>
<line x1="355.30" y1="255.50" x2="358.70" y2="255.50" stroke="#008000" stroke-width="0.6"/>
<line x1="370.50" y1="263.00" x2="370.50" y2="268.20" stroke="#008000" stroke-width="0.6"/>
<line x1="368.80" y1="264.10" x2="372.20" y2="264.10" stroke="#008000" stroke-width="0.5"/>
<line x1="368.80" y1="267.10" x2="372.20" y2="267.10" stroke="#008000" stroke-width="0.6"/>
<line x1="393.00" y1="257.60" x2="393.00" y2="262.80" stroke="#008000" stroke-width="0.6"/>
<line x1="391.30" y1="258.70" x2="394.70" y2="258.70" stroke="#008000" stroke-width="0.5"/>
<line x1="391.30" y1="261.70" x2="394.70" y2="261.70" stroke="#008000" stroke-width="0.6"/>
<line x1="403.00" y1="263.10" x2="403.00" y2="268.30" stroke="#008000" stroke-width="0.6"/>
<line x1="401.30" y1="264.20" x2="404.70" y2="264.20" stroke="#008000" stroke-width="0.5"/>
<line x1="401.30" y1="267.20" x2="404.70" y2="267.20" stroke="#008000" stroke-width="0.6"/>
<line x1="414.50" y1="273.10" x2="414.50" y2="286.30" stroke="#008000" stroke-width="0.95"/>
<line x1="412.80" y1="273.10" x2="416.20" y2="273.10" stroke="#008000" stroke-width="0.95"/>
<line x1="412.80" y1="286.30" x2="416.20" y2="286.30" stroke="#008000" stroke-width="0.95"/>
<line x1="433.80" y1="273.00" x2="433.80" y2="278.20" stroke="#008000" stroke-width="0.6"/>
<line x1="432.10" y1="274.10" x2="435.50" y2="274.10" stroke="#008000" stroke-width="0.5"/>
<line x1="432.10" y1="277.10" x2="435.50" y2="277.10" stroke="#008000" stroke-width="0.6"/>
<line x1="447.90" y1="290.30" x2="447.90" y2="295.50" stroke="#008000" stroke-width="0.6"/>
<line x1="446.20" y1="291.40" x2="449.60" y2="291.40" stroke="#008000" stroke-width="0.5"/>
<line x1="446.20" y1="294.40" x2="449.60" y2="294.40" stroke="#008000" stroke-width="0.6"/>
<line x1="457.80" y1="309.70" x2="457.80" y2="327.40" stroke="#008000" stroke-width="0.95"/>
<line x1="456.10" y1="309.70" x2="459.50" y2="309.70" stroke="#008000" stroke-width="0.95"/>
<line x1="456.10" y1="327.40" x2="459.50" y2="327.40" stroke="#008000" stroke-width="0.95"/>
<line x1="480.70" y1="309.70" x2="480.70" y2="318.00" stroke="#008000" stroke-width="0.95"/>
<line x1="479.00" y1="309.70" x2="482.40" y2="309.70" stroke="#008000" stroke-width="0.95"/>
<line x1="479.00" y1="318.00" x2="482.40" y2="318.00" stroke="#008000" stroke-width="0.95"/>
<line x1="501.20" y1="333.30" x2="501.20" y2="357.00" stroke="#008000" stroke-width="0.95"/>
<line x1="499.50" y1="333.30" x2="502.90" y2="333.30" stroke="#008000" stroke-width="0.95"/>
<line x1="499.50" y1="357.00" x2="502.90" y2="357.00" stroke="#008000" stroke-width="0.95"/>
<line x1="501.20" y1="343.70" x2="501.20" y2="348.90" stroke="#008000" stroke-width="0.6"/>
<line x1="499.50" y1="344.80" x2="502.90" y2="344.80" stroke="#008000" stroke-width="0.5"/>
<line x1="499.50" y1="347.80" x2="502.90" y2="347.80" stroke="#008000" stroke-width="0.6"/>
<line x1="535.10" y1="384.20" x2="535.10" y2="391.20" stroke="#008000" stroke-width="0.95"/>
<line x1="533.40" y1="384.20" x2="536.80" y2="384.20" stroke="#008000" stroke-width="0.95"/>
<line x1="533.40" y1="391.20" x2="536.80" y2="391.20" stroke="#008000" stroke-width="0.95"/>
<line x1="544.10" y1="369.00" x2="544.10" y2="392.20" stroke="#008000" stroke-width="0.95"/>
<line x1="542.40" y1="369.00" x2="545.80" y2="369.00" stroke="#008000" stroke-width="0.95"/>
<line x1="542.40" y1="392.20" x2="545.80" y2="392.20" stroke="#008000" stroke-width="0.95"/>
<rect x="336.70" y="249.30" width="3.0" height="3.0" fill="#d8ecd8" fill-opacity="0.7" stroke="#008000" stroke-width="0.6" stroke-opacity="0.7"/>
<rect x="347.50" y="254.80" width="3.0" height="3.0" fill="#d8ecd8" fill-opacity="0.7" stroke="#008000" stroke-width="0.6" stroke-opacity="0.7"/>
<rect x="347.50" y="257.30" width="3.0" height="3.0" fill="#d8ecd8" fill-opacity="0.7" stroke="#008000" stroke-width="0.6" stroke-opacity="0.7"/>
<rect x="357.90" y="246.00" width="3.0" height="3.0" fill="#d8ecd8" fill-opacity="0.7" stroke="#008000" stroke-width="0.6" stroke-opacity="0.7"/>
<rect x="355.50" y="252.50" width="3.0" height="3.0" fill="#d8ecd8" fill-opacity="0.7" stroke="#008000" stroke-width="0.6" stroke-opacity="0.7"/>
<rect x="369.00" y="264.10" width="3.0" height="3.0" fill="#d8ecd8" fill-opacity="0.7" stroke="#008000" stroke-width="0.6" stroke-opacity="0.7"/>
<rect x="391.50" y="258.70" width="3.0" height="3.0" fill="#d8ecd8" fill-opacity="0.7" stroke="#008000" stroke-width="0.6" stroke-opacity="0.7"/>
<rect x="401.50" y="264.20" width="3.0" height="3.0" fill="#d8ecd8" fill-opacity="0.7" stroke="#008000" stroke-width="0.6" stroke-opacity="0.7"/>
<rect x="413.00" y="278.20" width="3.0" height="3.0" fill="#d8ecd8" fill-opacity="0.7" stroke="#008000" stroke-width="0.6" stroke-opacity="0.7"/>
<rect x="432.30" y="274.10" width="3.0" height="3.0" fill="#d8ecd8" fill-opacity="0.7" stroke="#008000" stroke-width="0.6" stroke-opacity="0.7"/>
<rect x="446.40" y="291.40" width="3.0" height="3.0" fill="#d8ecd8" fill-opacity="0.7" stroke="#008000" stroke-width="0.6" stroke-opacity="0.7"/>
<rect x="456.30" y="315.30" width="3.0" height="3.0" fill="#d8ecd8" fill-opacity="0.7" stroke="#008000" stroke-width="0.6" stroke-opacity="0.7"/>
<rect x="479.20" y="312.90" width="3.0" height="3.0" fill="#d8ecd8" fill-opacity="0.7" stroke="#008000" stroke-width="0.6" stroke-opacity="0.7"/>
<rect x="499.70" y="337.70" width="3.0" height="3.0" fill="#d8ecd8" fill-opacity="0.7" stroke="#008000" stroke-width="0.6" stroke-opacity="0.7"/>
<rect x="499.70" y="344.80" width="3.0" height="3.0" fill="#d8ecd8" fill-opacity="0.7" stroke="#008000" stroke-width="0.6" stroke-opacity="0.7"/>
<rect x="533.60" y="386.70" width="3.0" height="3.0" fill="#d8ecd8" fill-opacity="0.7" stroke="#008000" stroke-width="0.6" stroke-opacity="0.7"/>
<rect x="542.60" y="377.60" width="3.0" height="3.0" fill="#d8ecd8" fill-opacity="0.7" stroke="#008000" stroke-width="0.6" stroke-opacity="0.7"/>
</g>
<g clip-path="url(#cD)">
<line x1="338.20" y1="237.70" x2="338.20" y2="242.90" stroke="#ff0000" stroke-width="0.6"/>
<line x1="336.50" y1="238.80" x2="339.90" y2="238.80" stroke="#ff0000" stroke-width="0.5"/>
<line x1="336.50" y1="241.80" x2="339.90" y2="241.80" stroke="#ff0000" stroke-width="0.6"/>
<line x1="338.20" y1="240.80" x2="338.20" y2="246.00" stroke="#ff0000" stroke-width="0.6"/>
<line x1="336.50" y1="241.90" x2="339.90" y2="241.90" stroke="#ff0000" stroke-width="0.5"/>
<line x1="336.50" y1="244.90" x2="339.90" y2="244.90" stroke="#ff0000" stroke-width="0.6"/>
<line x1="338.20" y1="243.30" x2="338.20" y2="248.50" stroke="#ff0000" stroke-width="0.6"/>
<line x1="336.50" y1="244.40" x2="339.90" y2="244.40" stroke="#ff0000" stroke-width="0.5"/>
<line x1="336.50" y1="247.40" x2="339.90" y2="247.40" stroke="#ff0000" stroke-width="0.6"/>
<line x1="349.00" y1="241.40" x2="349.00" y2="246.60" stroke="#ff0000" stroke-width="0.6"/>
<line x1="347.30" y1="242.50" x2="350.70" y2="242.50" stroke="#ff0000" stroke-width="0.5"/>
<line x1="347.30" y1="245.50" x2="350.70" y2="245.50" stroke="#ff0000" stroke-width="0.6"/>
<line x1="349.00" y1="243.90" x2="349.00" y2="249.10" stroke="#ff0000" stroke-width="0.6"/>
<line x1="347.30" y1="245.00" x2="350.70" y2="245.00" stroke="#ff0000" stroke-width="0.5"/>
<line x1="347.30" y1="248.00" x2="350.70" y2="248.00" stroke="#ff0000" stroke-width="0.6"/>
<line x1="349.00" y1="246.40" x2="349.00" y2="251.60" stroke="#ff0000" stroke-width="0.6"/>
<line x1="347.30" y1="247.50" x2="350.70" y2="247.50" stroke="#ff0000" stroke-width="0.5"/>
<line x1="347.30" y1="250.50" x2="350.70" y2="250.50" stroke="#ff0000" stroke-width="0.6"/>
<line x1="359.40" y1="253.10" x2="359.40" y2="258.30" stroke="#ff0000" stroke-width="0.6"/>
<line x1="357.70" y1="254.20" x2="361.10" y2="254.20" stroke="#ff0000" stroke-width="0.5"/>
<line x1="357.70" y1="257.20" x2="361.10" y2="257.20" stroke="#ff0000" stroke-width="0.6"/>
<line x1="370.50" y1="242.00" x2="370.50" y2="247.20" stroke="#ff0000" stroke-width="0.6"/>
<line x1="368.80" y1="243.10" x2="372.20" y2="243.10" stroke="#ff0000" stroke-width="0.5"/>
<line x1="368.80" y1="246.10" x2="372.20" y2="246.10" stroke="#ff0000" stroke-width="0.6"/>
<line x1="370.50" y1="255.00" x2="370.50" y2="260.20" stroke="#ff0000" stroke-width="0.6"/>
<line x1="368.80" y1="256.10" x2="372.20" y2="256.10" stroke="#ff0000" stroke-width="0.5"/>
<line x1="368.80" y1="259.10" x2="372.20" y2="259.10" stroke="#ff0000" stroke-width="0.6"/>
<line x1="414.50" y1="264.60" x2="414.50" y2="282.20" stroke="#ff0000" stroke-width="0.95"/>
<line x1="412.80" y1="264.60" x2="416.20" y2="264.60" stroke="#ff0000" stroke-width="0.95"/>
<line x1="412.80" y1="282.20" x2="416.20" y2="282.20" stroke="#ff0000" stroke-width="0.95"/>
<line x1="414.50" y1="268.00" x2="414.50" y2="273.20" stroke="#ff0000" stroke-width="0.6"/>
<line x1="412.80" y1="269.10" x2="416.20" y2="269.10" stroke="#ff0000" stroke-width="0.5"/>
<line x1="412.80" y1="272.10" x2="416.20" y2="272.10" stroke="#ff0000" stroke-width="0.6"/>
<line x1="457.80" y1="280.50" x2="457.80" y2="302.80" stroke="#ff0000" stroke-width="0.95"/>
<line x1="456.10" y1="280.50" x2="459.50" y2="280.50" stroke="#ff0000" stroke-width="0.95"/>
<line x1="456.10" y1="302.80" x2="459.50" y2="302.80" stroke="#ff0000" stroke-width="0.95"/>
<line x1="457.80" y1="291.10" x2="457.80" y2="296.30" stroke="#ff0000" stroke-width="0.6"/>
<line x1="456.10" y1="292.20" x2="459.50" y2="292.20" stroke="#ff0000" stroke-width="0.5"/>
<line x1="456.10" y1="295.20" x2="459.50" y2="295.20" stroke="#ff0000" stroke-width="0.6"/>
<line x1="457.80" y1="296.90" x2="457.80" y2="302.10" stroke="#ff0000" stroke-width="0.6"/>
<line x1="456.10" y1="298.00" x2="459.50" y2="298.00" stroke="#ff0000" stroke-width="0.5"/>
<line x1="456.10" y1="301.00" x2="459.50" y2="301.00" stroke="#ff0000" stroke-width="0.6"/>
<line x1="501.20" y1="313.00" x2="501.20" y2="318.00" stroke="#ff0000" stroke-width="0.95"/>
<line x1="499.50" y1="313.00" x2="502.90" y2="313.00" stroke="#ff0000" stroke-width="0.95"/>
<line x1="499.50" y1="318.00" x2="502.90" y2="318.00" stroke="#ff0000" stroke-width="0.95"/>
<line x1="501.20" y1="318.00" x2="501.20" y2="338.00" stroke="#ff0000" stroke-width="0.95"/>
<line x1="499.50" y1="318.00" x2="502.90" y2="318.00" stroke="#ff0000" stroke-width="0.95"/>
<line x1="499.50" y1="338.00" x2="502.90" y2="338.00" stroke="#ff0000" stroke-width="0.95"/>
<line x1="544.10" y1="340.00" x2="544.10" y2="369.10" stroke="#ff0000" stroke-width="0.95"/>
<line x1="542.40" y1="340.00" x2="545.80" y2="340.00" stroke="#ff0000" stroke-width="0.95"/>
<line x1="542.40" y1="369.10" x2="545.80" y2="369.10" stroke="#ff0000" stroke-width="0.95"/>
<line x1="544.10" y1="357.50" x2="544.10" y2="362.70" stroke="#ff0000" stroke-width="0.6"/>
<line x1="542.40" y1="358.60" x2="545.80" y2="358.60" stroke="#ff0000" stroke-width="0.5"/>
<line x1="542.40" y1="361.60" x2="545.80" y2="361.60" stroke="#ff0000" stroke-width="0.6"/>
<rect x="336.70" y="238.80" width="3.0" height="3.0" fill="#ffdede" fill-opacity="0.7" stroke="#ff0000" stroke-width="0.6" stroke-opacity="0.7"/>
<rect x="336.70" y="241.90" width="3.0" height="3.0" fill="#ffdede" fill-opacity="0.7" stroke="#ff0000" stroke-width="0.6" stroke-opacity="0.7"/>
<rect x="336.70" y="244.40" width="3.0" height="3.0" fill="#ffdede" fill-opacity="0.7" stroke="#ff0000" stroke-width="0.6" stroke-opacity="0.7"/>
<rect x="347.50" y="242.50" width="3.0" height="3.0" fill="#ffdede" fill-opacity="0.7" stroke="#ff0000" stroke-width="0.6" stroke-opacity="0.7"/>
<rect x="347.50" y="245.00" width="3.0" height="3.0" fill="#ffdede" fill-opacity="0.7" stroke="#ff0000" stroke-width="0.6" stroke-opacity="0.7"/>
<rect x="347.50" y="247.50" width="3.0" height="3.0" fill="#ffdede" fill-opacity="0.7" stroke="#ff0000" stroke-width="0.6" stroke-opacity="0.7"/>
<rect x="357.90" y="254.20" width="3.0" height="3.0" fill="#ffdede" fill-opacity="0.7" stroke="#ff0000" stroke-width="0.6" stroke-opacity="0.7"/>
<rect x="369.00" y="243.10" width="3.0" height="3.0" fill="#ffdede" fill-opacity="0.7" stroke="#ff0000" stroke-width="0.6" stroke-opacity="0.7"/>
<rect x="369.00" y="256.10" width="3.0" height="3.0" fill="#ffdede" fill-opacity="0.7" stroke="#ff0000" stroke-width="0.6" stroke-opacity="0.7"/>
<rect x="413.00" y="267.50" width="3.0" height="3.0" fill="#ffdede" fill-opacity="0.7" stroke="#ff0000" stroke-width="0.6" stroke-opacity="0.7"/>
<rect x="413.00" y="269.10" width="3.0" height="3.0" fill="#ffdede" fill-opacity="0.7" stroke="#ff0000" stroke-width="0.6" stroke-opacity="0.7"/>
<rect x="456.30" y="285.60" width="3.0" height="3.0" fill="#ffdede" fill-opacity="0.7" stroke="#ff0000" stroke-width="0.6" stroke-opacity="0.7"/>
<rect x="456.30" y="292.20" width="3.0" height="3.0" fill="#ffdede" fill-opacity="0.7" stroke="#ff0000" stroke-width="0.6" stroke-opacity="0.7"/>
<rect x="456.30" y="298.00" width="3.0" height="3.0" fill="#ffdede" fill-opacity="0.7" stroke="#ff0000" stroke-width="0.6" stroke-opacity="0.7"/>
<rect x="499.70" y="314.10" width="3.0" height="3.0" fill="#ffdede" fill-opacity="0.7" stroke="#ff0000" stroke-width="0.6" stroke-opacity="0.7"/>
<rect x="499.70" y="327.10" width="3.0" height="3.0" fill="#ffdede" fill-opacity="0.7" stroke="#ff0000" stroke-width="0.6" stroke-opacity="0.7"/>
<rect x="542.60" y="348.20" width="3.0" height="3.0" fill="#ffdede" fill-opacity="0.7" stroke="#ff0000" stroke-width="0.6" stroke-opacity="0.7"/>
<rect x="542.60" y="358.60" width="3.0" height="3.0" fill="#ffdede" fill-opacity="0.7" stroke="#ff0000" stroke-width="0.6" stroke-opacity="0.7"/>
</g>
<g clip-path="url(#cD)">
<line x1="351.80" y1="244.60" x2="351.80" y2="273.00" stroke="#0000ff" stroke-width="1.0"/>
<line x1="350.10" y1="244.60" x2="353.50" y2="244.60" stroke="#0000ff" stroke-width="1.0"/>
<line x1="350.10" y1="273.00" x2="353.50" y2="273.00" stroke="#0000ff" stroke-width="1.0"/>
<line x1="357.00" y1="247.60" x2="357.00" y2="252.80" stroke="#0000ff" stroke-width="0.6"/>
<line x1="355.30" y1="248.70" x2="358.70" y2="248.70" stroke="#0000ff" stroke-width="0.5"/>
<line x1="355.30" y1="251.70" x2="358.70" y2="251.70" stroke="#0000ff" stroke-width="0.6"/>
<line x1="359.40" y1="250.00" x2="359.40" y2="255.20" stroke="#0000ff" stroke-width="0.6"/>
<line x1="357.70" y1="251.10" x2="361.10" y2="251.10" stroke="#0000ff" stroke-width="0.5"/>
<line x1="357.70" y1="254.10" x2="361.10" y2="254.10" stroke="#0000ff" stroke-width="0.6"/>
<line x1="365.80" y1="247.70" x2="365.80" y2="265.60" stroke="#0000ff" stroke-width="1.0"/>
<line x1="364.10" y1="247.70" x2="367.50" y2="247.70" stroke="#0000ff" stroke-width="1.0"/>
<line x1="364.10" y1="265.60" x2="367.50" y2="265.60" stroke="#0000ff" stroke-width="1.0"/>
<line x1="370.50" y1="248.80" x2="370.50" y2="254.00" stroke="#0000ff" stroke-width="0.6"/>
<line x1="368.80" y1="249.90" x2="372.20" y2="249.90" stroke="#0000ff" stroke-width="0.5"/>
<line x1="368.80" y1="252.90" x2="372.20" y2="252.90" stroke="#0000ff" stroke-width="0.6"/>
<line x1="377.30" y1="250.00" x2="377.30" y2="255.20" stroke="#0000ff" stroke-width="0.6"/>
<line x1="375.60" y1="251.10" x2="379.00" y2="251.10" stroke="#0000ff" stroke-width="0.5"/>
<line x1="375.60" y1="254.10" x2="379.00" y2="254.10" stroke="#0000ff" stroke-width="0.6"/>
<line x1="379.80" y1="239.00" x2="379.80" y2="244.20" stroke="#0000ff" stroke-width="0.6"/>
<line x1="378.10" y1="240.10" x2="381.50" y2="240.10" stroke="#0000ff" stroke-width="0.5"/>
<line x1="378.10" y1="243.10" x2="381.50" y2="243.10" stroke="#0000ff" stroke-width="0.6"/>
<line x1="382.20" y1="242.70" x2="382.20" y2="247.90" stroke="#0000ff" stroke-width="0.6"/>
<line x1="380.50" y1="243.80" x2="383.90" y2="243.80" stroke="#0000ff" stroke-width="0.5"/>
<line x1="380.50" y1="246.80" x2="383.90" y2="246.80" stroke="#0000ff" stroke-width="0.6"/>
<line x1="385.30" y1="245.70" x2="385.30" y2="250.90" stroke="#0000ff" stroke-width="0.6"/>
<line x1="383.60" y1="246.80" x2="387.00" y2="246.80" stroke="#0000ff" stroke-width="0.5"/>
<line x1="383.60" y1="249.80" x2="387.00" y2="249.80" stroke="#0000ff" stroke-width="0.6"/>
<line x1="381.00" y1="248.30" x2="381.00" y2="266.80" stroke="#0000ff" stroke-width="1.0"/>
<line x1="379.30" y1="248.30" x2="382.70" y2="248.30" stroke="#0000ff" stroke-width="1.0"/>
<line x1="379.30" y1="266.80" x2="382.70" y2="266.80" stroke="#0000ff" stroke-width="1.0"/>
<line x1="399.20" y1="243.50" x2="399.20" y2="246.10" stroke="#0000ff" stroke-width="1.0"/>
<line x1="397.50" y1="243.50" x2="400.90" y2="243.50" stroke="#0000ff" stroke-width="1.0"/>
<line x1="397.50" y1="246.10" x2="400.90" y2="246.10" stroke="#0000ff" stroke-width="1.0"/>
<line x1="399.20" y1="251.40" x2="399.20" y2="281.10" stroke="#0000ff" stroke-width="1.0"/>
<line x1="397.50" y1="251.40" x2="400.90" y2="251.40" stroke="#0000ff" stroke-width="1.0"/>
<line x1="397.50" y1="281.10" x2="400.90" y2="281.10" stroke="#0000ff" stroke-width="1.0"/>
<line x1="410.70" y1="257.40" x2="410.70" y2="263.20" stroke="#0000ff" stroke-width="1.0"/>
<line x1="409.00" y1="257.40" x2="412.40" y2="257.40" stroke="#0000ff" stroke-width="1.0"/>
<line x1="409.00" y1="263.20" x2="412.40" y2="263.20" stroke="#0000ff" stroke-width="1.0"/>
<line x1="412.80" y1="241.80" x2="412.80" y2="247.00" stroke="#0000ff" stroke-width="0.6"/>
<line x1="411.10" y1="242.90" x2="414.50" y2="242.90" stroke="#0000ff" stroke-width="0.5"/>
<line x1="411.10" y1="245.90" x2="414.50" y2="245.90" stroke="#0000ff" stroke-width="0.6"/>
<line x1="433.00" y1="254.10" x2="433.00" y2="268.20" stroke="#0000ff" stroke-width="1.0"/>
<line x1="431.30" y1="254.10" x2="434.70" y2="254.10" stroke="#0000ff" stroke-width="1.0"/>
<line x1="431.30" y1="268.20" x2="434.70" y2="268.20" stroke="#0000ff" stroke-width="1.0"/>
<line x1="438.30" y1="250.70" x2="438.30" y2="255.90" stroke="#0000ff" stroke-width="0.6"/>
<line x1="436.60" y1="251.80" x2="440.00" y2="251.80" stroke="#0000ff" stroke-width="0.5"/>
<line x1="436.60" y1="254.80" x2="440.00" y2="254.80" stroke="#0000ff" stroke-width="0.6"/>
<line x1="436.00" y1="231.20" x2="436.00" y2="236.40" stroke="#0000ff" stroke-width="0.6"/>
<line x1="434.30" y1="232.30" x2="437.70" y2="232.30" stroke="#0000ff" stroke-width="0.5"/>
<line x1="434.30" y1="235.30" x2="437.70" y2="235.30" stroke="#0000ff" stroke-width="0.6"/>
<line x1="471.20" y1="244.00" x2="471.20" y2="253.00" stroke="#0000ff" stroke-width="1.0"/>
<line x1="469.50" y1="244.00" x2="472.90" y2="244.00" stroke="#0000ff" stroke-width="1.0"/>
<line x1="469.50" y1="253.00" x2="472.90" y2="253.00" stroke="#0000ff" stroke-width="1.0"/>
<line x1="524.20" y1="307.80" x2="524.20" y2="313.00" stroke="#0000ff" stroke-width="0.6"/>
<line x1="522.50" y1="308.90" x2="525.90" y2="308.90" stroke="#0000ff" stroke-width="0.5"/>
<line x1="522.50" y1="311.90" x2="525.90" y2="311.90" stroke="#0000ff" stroke-width="0.6"/>
<line x1="556.20" y1="271.10" x2="556.20" y2="276.30" stroke="#0000ff" stroke-width="0.6"/>
<line x1="554.50" y1="272.20" x2="557.90" y2="272.20" stroke="#0000ff" stroke-width="0.5"/>
<line x1="554.50" y1="275.20" x2="557.90" y2="275.20" stroke="#0000ff" stroke-width="0.6"/>
<circle cx="351.80" cy="255.70" r="2.0" fill="#dadaff" fill-opacity="0.3" stroke="#0000ff" stroke-width="0.7" stroke-opacity="0.85"/>
<circle cx="357.00" cy="250.20" r="2.0" fill="#dadaff" fill-opacity="0.3" stroke="#0000ff" stroke-width="0.7" stroke-opacity="0.85"/>
<circle cx="359.40" cy="252.60" r="2.0" fill="#dadaff" fill-opacity="0.3" stroke="#0000ff" stroke-width="0.7" stroke-opacity="0.85"/>
<circle cx="365.80" cy="255.10" r="2.0" fill="#dadaff" fill-opacity="0.3" stroke="#0000ff" stroke-width="0.7" stroke-opacity="0.85"/>
<circle cx="370.50" cy="251.40" r="2.0" fill="#dadaff" fill-opacity="0.3" stroke="#0000ff" stroke-width="0.7" stroke-opacity="0.85"/>
<circle cx="377.30" cy="252.60" r="2.0" fill="#dadaff" fill-opacity="0.3" stroke="#0000ff" stroke-width="0.7" stroke-opacity="0.85"/>
<circle cx="379.80" cy="241.60" r="2.0" fill="#dadaff" fill-opacity="0.3" stroke="#0000ff" stroke-width="0.7" stroke-opacity="0.85"/>
<circle cx="382.20" cy="245.30" r="2.0" fill="#dadaff" fill-opacity="0.3" stroke="#0000ff" stroke-width="0.7" stroke-opacity="0.85"/>
<circle cx="385.30" cy="248.30" r="2.0" fill="#dadaff" fill-opacity="0.3" stroke="#0000ff" stroke-width="0.7" stroke-opacity="0.85"/>
<circle cx="381.00" cy="256.30" r="2.0" fill="#dadaff" fill-opacity="0.3" stroke="#0000ff" stroke-width="0.7" stroke-opacity="0.85"/>
<circle cx="399.20" cy="244.80" r="2.0" fill="#dadaff" fill-opacity="0.3" stroke="#0000ff" stroke-width="0.7" stroke-opacity="0.85"/>
<circle cx="399.20" cy="263.50" r="2.0" fill="#dadaff" fill-opacity="0.3" stroke="#0000ff" stroke-width="0.7" stroke-opacity="0.85"/>
<circle cx="410.70" cy="260.20" r="2.0" fill="#dadaff" fill-opacity="0.3" stroke="#0000ff" stroke-width="0.7" stroke-opacity="0.85"/>
<circle cx="412.80" cy="244.40" r="2.0" fill="#dadaff" fill-opacity="0.3" stroke="#0000ff" stroke-width="0.7" stroke-opacity="0.85"/>
<circle cx="433.00" cy="260.70" r="2.0" fill="#dadaff" fill-opacity="0.3" stroke="#0000ff" stroke-width="0.7" stroke-opacity="0.85"/>
<circle cx="438.30" cy="253.30" r="2.0" fill="#dadaff" fill-opacity="0.3" stroke="#0000ff" stroke-width="0.7" stroke-opacity="0.85"/>
<circle cx="436.00" cy="233.80" r="2.0" fill="#dadaff" fill-opacity="0.3" stroke="#0000ff" stroke-width="0.7" stroke-opacity="0.85"/>
<circle cx="471.20" cy="248.50" r="2.0" fill="#dadaff" fill-opacity="0.3" stroke="#0000ff" stroke-width="0.7" stroke-opacity="0.85"/>
<circle cx="524.20" cy="310.40" r="2.0" fill="#dadaff" fill-opacity="0.3" stroke="#0000ff" stroke-width="0.7" stroke-opacity="0.85"/>
<circle cx="556.20" cy="273.70" r="2.0" fill="#dadaff" fill-opacity="0.3" stroke="#0000ff" stroke-width="0.7" stroke-opacity="0.85"/>
</g>
<line x1="327.30" y1="237.20" x2="327.30" y2="265.60" stroke="#0000ff" stroke-width="1.4"/>
<line x1="325.50" y1="237.20" x2="329.10" y2="237.20" stroke="#0000ff" stroke-width="1.1"/>
<line x1="325.50" y1="265.60" x2="329.10" y2="265.60" stroke="#0000ff" stroke-width="1.1"/>
<line x1="325.50" y1="242.85" x2="329.10" y2="242.85" stroke="#0000ff" stroke-width="1.1"/>
<line x1="325.50" y1="257.05" x2="329.10" y2="257.05" stroke="#0000ff" stroke-width="1.1"/>
<circle cx="327.30" cy="248.50" r="1.9" fill="#fff" stroke="#0000ff" stroke-width="1.0"/>
<g clip-path="url(#cB)">
<line x1="332.01" y1="35.90" x2="332.01" y2="41.10" stroke="#008000" stroke-width="0.6"/>
<line x1="330.31" y1="37.00" x2="333.71" y2="37.00" stroke="#008000" stroke-width="0.5"/>
<line x1="330.31" y1="40.00" x2="333.71" y2="40.00" stroke="#008000" stroke-width="0.6"/>
<line x1="335.68" y1="39.74" x2="335.68" y2="44.94" stroke="#008000" stroke-width="0.6"/>
<line x1="333.98" y1="40.84" x2="337.38" y2="40.84" stroke="#008000" stroke-width="0.5"/>
<line x1="333.98" y1="43.84" x2="337.38" y2="43.84" stroke="#008000" stroke-width="0.6"/>
<line x1="335.68" y1="41.48" x2="335.68" y2="46.68" stroke="#008000" stroke-width="0.6"/>
<line x1="333.98" y1="42.58" x2="337.38" y2="42.58" stroke="#008000" stroke-width="0.5"/>
<line x1="333.98" y1="45.58" x2="337.38" y2="45.58" stroke="#008000" stroke-width="0.6"/>
<line x1="339.22" y1="33.60" x2="339.22" y2="38.80" stroke="#008000" stroke-width="0.6"/>
<line x1="337.52" y1="34.70" x2="340.92" y2="34.70" stroke="#008000" stroke-width="0.5"/>
<line x1="337.52" y1="37.70" x2="340.92" y2="37.70" stroke="#008000" stroke-width="0.6"/>
<line x1="338.40" y1="38.13" x2="338.40" y2="43.33" stroke="#008000" stroke-width="0.6"/>
<line x1="336.70" y1="39.23" x2="340.10" y2="39.23" stroke="#008000" stroke-width="0.5"/>
<line x1="336.70" y1="42.23" x2="340.10" y2="42.23" stroke="#008000" stroke-width="0.6"/>
<line x1="342.99" y1="46.22" x2="342.99" y2="51.42" stroke="#008000" stroke-width="0.6"/>
<line x1="341.29" y1="47.32" x2="344.69" y2="47.32" stroke="#008000" stroke-width="0.5"/>
<line x1="341.29" y1="50.32" x2="344.69" y2="50.32" stroke="#008000" stroke-width="0.6"/>
<line x1="350.64" y1="42.46" x2="350.64" y2="47.66" stroke="#008000" stroke-width="0.6"/>
<line x1="348.94" y1="43.56" x2="352.34" y2="43.56" stroke="#008000" stroke-width="0.5"/>
<line x1="348.94" y1="46.56" x2="352.34" y2="46.56" stroke="#008000" stroke-width="0.6"/>
<line x1="354.04" y1="46.29" x2="354.04" y2="51.49" stroke="#008000" stroke-width="0.6"/>
<line x1="352.34" y1="47.39" x2="355.74" y2="47.39" stroke="#008000" stroke-width="0.5"/>
<line x1="352.34" y1="50.39" x2="355.74" y2="50.39" stroke="#008000" stroke-width="0.6"/>
<line x1="357.96" y1="54.05" x2="357.96" y2="63.25" stroke="#008000" stroke-width="0.95"/>
<line x1="356.26" y1="54.05" x2="359.66" y2="54.05" stroke="#008000" stroke-width="0.95"/>
<line x1="356.26" y1="63.25" x2="359.66" y2="63.25" stroke="#008000" stroke-width="0.95"/>
<line x1="364.52" y1="53.19" x2="364.52" y2="58.39" stroke="#008000" stroke-width="0.6"/>
<line x1="362.82" y1="54.29" x2="366.22" y2="54.29" stroke="#008000" stroke-width="0.5"/>
<line x1="362.82" y1="57.29" x2="366.22" y2="57.29" stroke="#008000" stroke-width="0.6"/>
<line x1="369.31" y1="65.25" x2="369.31" y2="70.45" stroke="#008000" stroke-width="0.6"/>
<line x1="367.61" y1="66.35" x2="371.01" y2="66.35" stroke="#008000" stroke-width="0.5"/>
<line x1="367.61" y1="69.35" x2="371.01" y2="69.35" stroke="#008000" stroke-width="0.6"/>
<line x1="372.68" y1="79.56" x2="372.68" y2="91.89" stroke="#008000" stroke-width="0.95"/>
<line x1="370.98" y1="79.56" x2="374.38" y2="79.56" stroke="#008000" stroke-width="0.95"/>
<line x1="370.98" y1="91.89" x2="374.38" y2="91.89" stroke="#008000" stroke-width="0.95"/>
<line x1="380.47" y1="79.56" x2="380.47" y2="85.34" stroke="#008000" stroke-width="0.95"/>
<line x1="378.77" y1="79.56" x2="382.17" y2="79.56" stroke="#008000" stroke-width="0.95"/>
<line x1="378.77" y1="85.34" x2="382.17" y2="85.34" stroke="#008000" stroke-width="0.95"/>
<line x1="387.44" y1="96.01" x2="387.44" y2="112.53" stroke="#008000" stroke-width="0.95"/>
<line x1="385.74" y1="96.01" x2="389.14" y2="96.01" stroke="#008000" stroke-width="0.95"/>
<line x1="385.74" y1="112.53" x2="389.14" y2="112.53" stroke="#008000" stroke-width="0.95"/>
<line x1="387.44" y1="102.47" x2="387.44" y2="107.67" stroke="#008000" stroke-width="0.6"/>
<line x1="385.74" y1="103.57" x2="389.14" y2="103.57" stroke="#008000" stroke-width="0.5"/>
<line x1="385.74" y1="106.57" x2="389.14" y2="106.57" stroke="#008000" stroke-width="0.6"/>
<line x1="398.97" y1="131.48" x2="398.97" y2="136.36" stroke="#008000" stroke-width="0.95"/>
<line x1="397.27" y1="131.48" x2="400.67" y2="131.48" stroke="#008000" stroke-width="0.95"/>
<line x1="397.27" y1="136.36" x2="400.67" y2="136.36" stroke="#008000" stroke-width="0.95"/>
<line x1="402.03" y1="120.89" x2="402.03" y2="137.06" stroke="#008000" stroke-width="0.95"/>
<line x1="400.33" y1="120.89" x2="403.73" y2="120.89" stroke="#008000" stroke-width="0.95"/>
<line x1="400.33" y1="137.06" x2="403.73" y2="137.06" stroke="#008000" stroke-width="0.95"/>
<rect x="330.51" y="37.00" width="3.0" height="3.0" fill="#d8ecd8" fill-opacity="0.7" stroke="#008000" stroke-width="0.6" stroke-opacity="0.7"/>
<rect x="334.18" y="40.84" width="3.0" height="3.0" fill="#d8ecd8" fill-opacity="0.7" stroke="#008000" stroke-width="0.6" stroke-opacity="0.7"/>
<rect x="334.18" y="42.58" width="3.0" height="3.0" fill="#d8ecd8" fill-opacity="0.7" stroke="#008000" stroke-width="0.6" stroke-opacity="0.7"/>
<rect x="337.72" y="34.70" width="3.0" height="3.0" fill="#d8ecd8" fill-opacity="0.7" stroke="#008000" stroke-width="0.6" stroke-opacity="0.7"/>
<rect x="336.90" y="39.23" width="3.0" height="3.0" fill="#d8ecd8" fill-opacity="0.7" stroke="#008000" stroke-width="0.6" stroke-opacity="0.7"/>
<rect x="341.49" y="47.32" width="3.0" height="3.0" fill="#d8ecd8" fill-opacity="0.7" stroke="#008000" stroke-width="0.6" stroke-opacity="0.7"/>
<rect x="349.14" y="43.56" width="3.0" height="3.0" fill="#d8ecd8" fill-opacity="0.7" stroke="#008000" stroke-width="0.6" stroke-opacity="0.7"/>
<rect x="352.54" y="47.39" width="3.0" height="3.0" fill="#d8ecd8" fill-opacity="0.7" stroke="#008000" stroke-width="0.6" stroke-opacity="0.7"/>
<rect x="356.46" y="57.15" width="3.0" height="3.0" fill="#d8ecd8" fill-opacity="0.7" stroke="#008000" stroke-width="0.6" stroke-opacity="0.7"/>
<rect x="363.02" y="54.29" width="3.0" height="3.0" fill="#d8ecd8" fill-opacity="0.7" stroke="#008000" stroke-width="0.6" stroke-opacity="0.7"/>
<rect x="367.81" y="66.35" width="3.0" height="3.0" fill="#d8ecd8" fill-opacity="0.7" stroke="#008000" stroke-width="0.6" stroke-opacity="0.7"/>
<rect x="371.18" y="83.01" width="3.0" height="3.0" fill="#d8ecd8" fill-opacity="0.7" stroke="#008000" stroke-width="0.6" stroke-opacity="0.7"/>
<rect x="378.97" y="81.33" width="3.0" height="3.0" fill="#d8ecd8" fill-opacity="0.7" stroke="#008000" stroke-width="0.6" stroke-opacity="0.7"/>
<rect x="385.94" y="98.62" width="3.0" height="3.0" fill="#d8ecd8" fill-opacity="0.7" stroke="#008000" stroke-width="0.6" stroke-opacity="0.7"/>
<rect x="385.94" y="103.57" width="3.0" height="3.0" fill="#d8ecd8" fill-opacity="0.7" stroke="#008000" stroke-width="0.6" stroke-opacity="0.7"/>
<rect x="397.47" y="132.77" width="3.0" height="3.0" fill="#d8ecd8" fill-opacity="0.7" stroke="#008000" stroke-width="0.6" stroke-opacity="0.7"/>
<rect x="400.53" y="126.43" width="3.0" height="3.0" fill="#d8ecd8" fill-opacity="0.7" stroke="#008000" stroke-width="0.6" stroke-opacity="0.7"/>
</g>
<g clip-path="url(#cB)">
<line x1="332.01" y1="28.58" x2="332.01" y2="33.78" stroke="#ff0000" stroke-width="0.6"/>
<line x1="330.31" y1="29.68" x2="333.71" y2="29.68" stroke="#ff0000" stroke-width="0.5"/>
<line x1="330.31" y1="32.68" x2="333.71" y2="32.68" stroke="#ff0000" stroke-width="0.6"/>
<line x1="332.01" y1="30.75" x2="332.01" y2="35.95" stroke="#ff0000" stroke-width="0.6"/>
<line x1="330.31" y1="31.85" x2="333.71" y2="31.85" stroke="#ff0000" stroke-width="0.5"/>
<line x1="330.31" y1="34.85" x2="333.71" y2="34.85" stroke="#ff0000" stroke-width="0.6"/>
<line x1="332.01" y1="32.49" x2="332.01" y2="37.69" stroke="#ff0000" stroke-width="0.6"/>
<line x1="330.31" y1="33.59" x2="333.71" y2="33.59" stroke="#ff0000" stroke-width="0.5"/>
<line x1="330.31" y1="36.59" x2="333.71" y2="36.59" stroke="#ff0000" stroke-width="0.6"/>
<line x1="335.68" y1="31.16" x2="335.68" y2="36.36" stroke="#ff0000" stroke-width="0.6"/>
<line x1="333.98" y1="32.26" x2="337.38" y2="32.26" stroke="#ff0000" stroke-width="0.5"/>
<line x1="333.98" y1="35.26" x2="337.38" y2="35.26" stroke="#ff0000" stroke-width="0.6"/>
<line x1="335.68" y1="32.91" x2="335.68" y2="38.11" stroke="#ff0000" stroke-width="0.6"/>
<line x1="333.98" y1="34.01" x2="337.38" y2="34.01" stroke="#ff0000" stroke-width="0.5"/>
<line x1="333.98" y1="37.01" x2="337.38" y2="37.01" stroke="#ff0000" stroke-width="0.6"/>
<line x1="335.68" y1="34.65" x2="335.68" y2="39.85" stroke="#ff0000" stroke-width="0.6"/>
<line x1="333.98" y1="35.75" x2="337.38" y2="35.75" stroke="#ff0000" stroke-width="0.5"/>
<line x1="333.98" y1="38.75" x2="337.38" y2="38.75" stroke="#ff0000" stroke-width="0.6"/>
<line x1="339.22" y1="39.32" x2="339.22" y2="44.52" stroke="#ff0000" stroke-width="0.6"/>
<line x1="337.52" y1="40.42" x2="340.92" y2="40.42" stroke="#ff0000" stroke-width="0.5"/>
<line x1="337.52" y1="43.42" x2="340.92" y2="43.42" stroke="#ff0000" stroke-width="0.6"/>
<line x1="342.99" y1="31.58" x2="342.99" y2="36.78" stroke="#ff0000" stroke-width="0.6"/>
<line x1="341.29" y1="32.68" x2="344.69" y2="32.68" stroke="#ff0000" stroke-width="0.5"/>
<line x1="341.29" y1="35.68" x2="344.69" y2="35.68" stroke="#ff0000" stroke-width="0.6"/>
<line x1="342.99" y1="40.64" x2="342.99" y2="45.84" stroke="#ff0000" stroke-width="0.6"/>
<line x1="341.29" y1="41.74" x2="344.69" y2="41.74" stroke="#ff0000" stroke-width="0.5"/>
<line x1="341.29" y1="44.74" x2="344.69" y2="44.74" stroke="#ff0000" stroke-width="0.6"/>
<line x1="357.96" y1="48.12" x2="357.96" y2="60.39" stroke="#ff0000" stroke-width="0.95"/>
<line x1="356.26" y1="48.12" x2="359.66" y2="48.12" stroke="#ff0000" stroke-width="0.95"/>
<line x1="356.26" y1="60.39" x2="359.66" y2="60.39" stroke="#ff0000" stroke-width="0.95"/>
<line x1="357.96" y1="49.70" x2="357.96" y2="54.90" stroke="#ff0000" stroke-width="0.6"/>
<line x1="356.26" y1="50.80" x2="359.66" y2="50.80" stroke="#ff0000" stroke-width="0.5"/>
<line x1="356.26" y1="53.80" x2="359.66" y2="53.80" stroke="#ff0000" stroke-width="0.6"/>
<line x1="372.68" y1="59.20" x2="372.68" y2="74.75" stroke="#ff0000" stroke-width="0.95"/>
<line x1="370.98" y1="59.20" x2="374.38" y2="59.20" stroke="#ff0000" stroke-width="0.95"/>
<line x1="370.98" y1="74.75" x2="374.38" y2="74.75" stroke="#ff0000" stroke-width="0.95"/>
<line x1="372.68" y1="65.80" x2="372.68" y2="71.00" stroke="#ff0000" stroke-width="0.6"/>
<line x1="370.98" y1="66.90" x2="374.38" y2="66.90" stroke="#ff0000" stroke-width="0.5"/>
<line x1="370.98" y1="69.90" x2="374.38" y2="69.90" stroke="#ff0000" stroke-width="0.6"/>
<line x1="372.68" y1="69.85" x2="372.68" y2="75.05" stroke="#ff0000" stroke-width="0.6"/>
<line x1="370.98" y1="70.95" x2="374.38" y2="70.95" stroke="#ff0000" stroke-width="0.5"/>
<line x1="370.98" y1="73.95" x2="374.38" y2="73.95" stroke="#ff0000" stroke-width="0.6"/>
<line x1="387.44" y1="81.86" x2="387.44" y2="85.34" stroke="#ff0000" stroke-width="0.95"/>
<line x1="385.74" y1="81.86" x2="389.14" y2="81.86" stroke="#ff0000" stroke-width="0.95"/>
<line x1="385.74" y1="85.34" x2="389.14" y2="85.34" stroke="#ff0000" stroke-width="0.95"/>
<line x1="387.44" y1="85.34" x2="387.44" y2="99.28" stroke="#ff0000" stroke-width="0.95"/>
<line x1="385.74" y1="85.34" x2="389.14" y2="85.34" stroke="#ff0000" stroke-width="0.95"/>
<line x1="385.74" y1="99.28" x2="389.14" y2="99.28" stroke="#ff0000" stroke-width="0.95"/>
<line x1="402.03" y1="100.68" x2="402.03" y2="120.96" stroke="#ff0000" stroke-width="0.95"/>
<line x1="400.33" y1="100.68" x2="403.73" y2="100.68" stroke="#ff0000" stroke-width="0.95"/>
<line x1="400.33" y1="120.96" x2="403.73" y2="120.96" stroke="#ff0000" stroke-width="0.95"/>
<line x1="402.03" y1="112.09" x2="402.03" y2="117.29" stroke="#ff0000" stroke-width="0.6"/>
<line x1="400.33" y1="113.19" x2="403.73" y2="113.19" stroke="#ff0000" stroke-width="0.5"/>
<line x1="400.33" y1="116.19" x2="403.73" y2="116.19" stroke="#ff0000" stroke-width="0.6"/>
<rect x="330.51" y="29.68" width="3.0" height="3.0" fill="#ffdede" fill-opacity="0.7" stroke="#ff0000" stroke-width="0.6" stroke-opacity="0.7"/>
<rect x="330.51" y="31.85" width="3.0" height="3.0" fill="#ffdede" fill-opacity="0.7" stroke="#ff0000" stroke-width="0.6" stroke-opacity="0.7"/>
<rect x="330.51" y="33.59" width="3.0" height="3.0" fill="#ffdede" fill-opacity="0.7" stroke="#ff0000" stroke-width="0.6" stroke-opacity="0.7"/>
<rect x="334.18" y="32.26" width="3.0" height="3.0" fill="#ffdede" fill-opacity="0.7" stroke="#ff0000" stroke-width="0.6" stroke-opacity="0.7"/>
<rect x="334.18" y="34.01" width="3.0" height="3.0" fill="#ffdede" fill-opacity="0.7" stroke="#ff0000" stroke-width="0.6" stroke-opacity="0.7"/>
<rect x="334.18" y="35.75" width="3.0" height="3.0" fill="#ffdede" fill-opacity="0.7" stroke="#ff0000" stroke-width="0.6" stroke-opacity="0.7"/>
<rect x="337.72" y="40.42" width="3.0" height="3.0" fill="#ffdede" fill-opacity="0.7" stroke="#ff0000" stroke-width="0.6" stroke-opacity="0.7"/>
<rect x="341.49" y="32.68" width="3.0" height="3.0" fill="#ffdede" fill-opacity="0.7" stroke="#ff0000" stroke-width="0.6" stroke-opacity="0.7"/>
<rect x="341.49" y="41.74" width="3.0" height="3.0" fill="#ffdede" fill-opacity="0.7" stroke="#ff0000" stroke-width="0.6" stroke-opacity="0.7"/>
<rect x="356.46" y="49.69" width="3.0" height="3.0" fill="#ffdede" fill-opacity="0.7" stroke="#ff0000" stroke-width="0.6" stroke-opacity="0.7"/>
<rect x="356.46" y="50.80" width="3.0" height="3.0" fill="#ffdede" fill-opacity="0.7" stroke="#ff0000" stroke-width="0.6" stroke-opacity="0.7"/>
<rect x="371.18" y="62.30" width="3.0" height="3.0" fill="#ffdede" fill-opacity="0.7" stroke="#ff0000" stroke-width="0.6" stroke-opacity="0.7"/>
<rect x="371.18" y="66.90" width="3.0" height="3.0" fill="#ffdede" fill-opacity="0.7" stroke="#ff0000" stroke-width="0.6" stroke-opacity="0.7"/>
<rect x="371.18" y="70.95" width="3.0" height="3.0" fill="#ffdede" fill-opacity="0.7" stroke="#ff0000" stroke-width="0.6" stroke-opacity="0.7"/>
<rect x="385.94" y="82.17" width="3.0" height="3.0" fill="#ffdede" fill-opacity="0.7" stroke="#ff0000" stroke-width="0.6" stroke-opacity="0.7"/>
<rect x="385.94" y="91.23" width="3.0" height="3.0" fill="#ffdede" fill-opacity="0.7" stroke="#ff0000" stroke-width="0.6" stroke-opacity="0.7"/>
<rect x="400.53" y="105.94" width="3.0" height="3.0" fill="#ffdede" fill-opacity="0.7" stroke="#ff0000" stroke-width="0.6" stroke-opacity="0.7"/>
<rect x="400.53" y="113.19" width="3.0" height="3.0" fill="#ffdede" fill-opacity="0.7" stroke="#ff0000" stroke-width="0.6" stroke-opacity="0.7"/>
</g>
<g clip-path="url(#cB)">
<line x1="336.63" y1="34.18" x2="336.63" y2="53.98" stroke="#0000ff" stroke-width="1.0"/>
<line x1="334.93" y1="34.18" x2="338.33" y2="34.18" stroke="#0000ff" stroke-width="1.0"/>
<line x1="334.93" y1="53.98" x2="338.33" y2="53.98" stroke="#0000ff" stroke-width="1.0"/>
<line x1="338.40" y1="35.48" x2="338.40" y2="40.68" stroke="#0000ff" stroke-width="0.6"/>
<line x1="336.70" y1="36.58" x2="340.10" y2="36.58" stroke="#0000ff" stroke-width="0.5"/>
<line x1="336.70" y1="39.58" x2="340.10" y2="39.58" stroke="#0000ff" stroke-width="0.6"/>
<line x1="339.22" y1="37.16" x2="339.22" y2="42.36" stroke="#0000ff" stroke-width="0.6"/>
<line x1="337.52" y1="38.26" x2="340.92" y2="38.26" stroke="#0000ff" stroke-width="0.5"/>
<line x1="337.52" y1="41.26" x2="340.92" y2="41.26" stroke="#0000ff" stroke-width="0.6"/>
<line x1="341.39" y1="36.34" x2="341.39" y2="48.82" stroke="#0000ff" stroke-width="1.0"/>
<line x1="339.69" y1="36.34" x2="343.09" y2="36.34" stroke="#0000ff" stroke-width="1.0"/>
<line x1="339.69" y1="48.82" x2="343.09" y2="48.82" stroke="#0000ff" stroke-width="1.0"/>
<line x1="342.99" y1="36.32" x2="342.99" y2="41.52" stroke="#0000ff" stroke-width="0.6"/>
<line x1="341.29" y1="37.42" x2="344.69" y2="37.42" stroke="#0000ff" stroke-width="0.5"/>
<line x1="341.29" y1="40.42" x2="344.69" y2="40.42" stroke="#0000ff" stroke-width="0.6"/>
<line x1="345.30" y1="37.16" x2="345.30" y2="42.36" stroke="#0000ff" stroke-width="0.6"/>
<line x1="343.60" y1="38.26" x2="347.00" y2="38.26" stroke="#0000ff" stroke-width="0.5"/>
<line x1="343.60" y1="41.26" x2="347.00" y2="41.26" stroke="#0000ff" stroke-width="0.6"/>
<line x1="346.15" y1="29.49" x2="346.15" y2="34.69" stroke="#0000ff" stroke-width="0.6"/>
<line x1="344.45" y1="30.59" x2="347.85" y2="30.59" stroke="#0000ff" stroke-width="0.5"/>
<line x1="344.45" y1="33.59" x2="347.85" y2="33.59" stroke="#0000ff" stroke-width="0.6"/>
<line x1="346.97" y1="32.07" x2="346.97" y2="37.27" stroke="#0000ff" stroke-width="0.6"/>
<line x1="345.27" y1="33.17" x2="348.67" y2="33.17" stroke="#0000ff" stroke-width="0.5"/>
<line x1="345.27" y1="36.17" x2="348.67" y2="36.17" stroke="#0000ff" stroke-width="0.6"/>
<line x1="348.02" y1="34.16" x2="348.02" y2="39.36" stroke="#0000ff" stroke-width="0.6"/>
<line x1="346.32" y1="35.26" x2="349.72" y2="35.26" stroke="#0000ff" stroke-width="0.5"/>
<line x1="346.32" y1="38.26" x2="349.72" y2="38.26" stroke="#0000ff" stroke-width="0.6"/>
<line x1="346.56" y1="36.76" x2="346.56" y2="49.66" stroke="#0000ff" stroke-width="1.0"/>
<line x1="344.86" y1="36.76" x2="348.26" y2="36.76" stroke="#0000ff" stroke-width="1.0"/>
<line x1="344.86" y1="49.66" x2="348.26" y2="49.66" stroke="#0000ff" stroke-width="1.0"/>
<line x1="352.75" y1="33.41" x2="352.75" y2="35.23" stroke="#0000ff" stroke-width="1.0"/>
<line x1="351.05" y1="33.41" x2="354.45" y2="33.41" stroke="#0000ff" stroke-width="1.0"/>
<line x1="351.05" y1="35.23" x2="354.45" y2="35.23" stroke="#0000ff" stroke-width="1.0"/>
<line x1="352.75" y1="38.92" x2="352.75" y2="59.62" stroke="#0000ff" stroke-width="1.0"/>
<line x1="351.05" y1="38.92" x2="354.45" y2="38.92" stroke="#0000ff" stroke-width="1.0"/>
<line x1="351.05" y1="59.62" x2="354.45" y2="59.62" stroke="#0000ff" stroke-width="1.0"/>
<line x1="356.66" y1="43.10" x2="356.66" y2="47.15" stroke="#0000ff" stroke-width="1.0"/>
<line x1="354.96" y1="43.10" x2="358.36" y2="43.10" stroke="#0000ff" stroke-width="1.0"/>
<line x1="354.96" y1="47.15" x2="358.36" y2="47.15" stroke="#0000ff" stroke-width="1.0"/>
<line x1="357.38" y1="31.44" x2="357.38" y2="36.64" stroke="#0000ff" stroke-width="0.6"/>
<line x1="355.68" y1="32.54" x2="359.08" y2="32.54" stroke="#0000ff" stroke-width="0.5"/>
<line x1="355.68" y1="35.54" x2="359.08" y2="35.54" stroke="#0000ff" stroke-width="0.6"/>
<line x1="364.25" y1="40.80" x2="364.25" y2="50.63" stroke="#0000ff" stroke-width="1.0"/>
<line x1="362.55" y1="40.80" x2="365.95" y2="40.80" stroke="#0000ff" stroke-width="1.0"/>
<line x1="362.55" y1="50.63" x2="365.95" y2="50.63" stroke="#0000ff" stroke-width="1.0"/>
<line x1="366.05" y1="37.65" x2="366.05" y2="42.85" stroke="#0000ff" stroke-width="0.6"/>
<line x1="364.35" y1="38.75" x2="367.75" y2="38.75" stroke="#0000ff" stroke-width="0.5"/>
<line x1="364.35" y1="41.75" x2="367.75" y2="41.75" stroke="#0000ff" stroke-width="0.6"/>
<line x1="365.27" y1="24.05" x2="365.27" y2="29.25" stroke="#0000ff" stroke-width="0.6"/>
<line x1="363.57" y1="25.15" x2="366.97" y2="25.15" stroke="#0000ff" stroke-width="0.5"/>
<line x1="363.57" y1="28.15" x2="366.97" y2="28.15" stroke="#0000ff" stroke-width="0.6"/>
<line x1="377.24" y1="33.76" x2="377.24" y2="40.04" stroke="#0000ff" stroke-width="1.0"/>
<line x1="375.54" y1="33.76" x2="378.94" y2="33.76" stroke="#0000ff" stroke-width="1.0"/>
<line x1="375.54" y1="40.04" x2="378.94" y2="40.04" stroke="#0000ff" stroke-width="1.0"/>
<line x1="395.26" y1="77.45" x2="395.26" y2="82.65" stroke="#0000ff" stroke-width="0.6"/>
<line x1="393.56" y1="78.55" x2="396.96" y2="78.55" stroke="#0000ff" stroke-width="0.5"/>
<line x1="393.56" y1="81.55" x2="396.96" y2="81.55" stroke="#0000ff" stroke-width="0.6"/>
<line x1="406.14" y1="51.86" x2="406.14" y2="57.06" stroke="#0000ff" stroke-width="0.6"/>
<line x1="404.44" y1="52.96" x2="407.84" y2="52.96" stroke="#0000ff" stroke-width="0.5"/>
<line x1="404.44" y1="55.96" x2="407.84" y2="55.96" stroke="#0000ff" stroke-width="0.6"/>
<line x1="406.30" y1="51.90" x2="406.30" y2="57.10" stroke="#0000ff" stroke-width="0.6"/>
<line x1="404.60" y1="53.00" x2="408.00" y2="53.00" stroke="#0000ff" stroke-width="0.5"/>
<line x1="404.60" y1="56.00" x2="408.00" y2="56.00" stroke="#0000ff" stroke-width="0.6"/>
<line x1="411.60" y1="52.20" x2="411.60" y2="57.40" stroke="#0000ff" stroke-width="0.6"/>
<line x1="409.90" y1="53.30" x2="413.30" y2="53.30" stroke="#0000ff" stroke-width="0.5"/>
<line x1="409.90" y1="56.30" x2="413.30" y2="56.30" stroke="#0000ff" stroke-width="0.6"/>
<line x1="417.40" y1="50.90" x2="417.40" y2="56.10" stroke="#0000ff" stroke-width="0.6"/>
<line x1="415.70" y1="52.00" x2="419.10" y2="52.00" stroke="#0000ff" stroke-width="0.5"/>
<line x1="415.70" y1="55.00" x2="419.10" y2="55.00" stroke="#0000ff" stroke-width="0.6"/>
<line x1="421.50" y1="47.60" x2="421.50" y2="52.80" stroke="#0000ff" stroke-width="0.6"/>
<line x1="419.80" y1="48.70" x2="423.20" y2="48.70" stroke="#0000ff" stroke-width="0.5"/>
<line x1="419.80" y1="51.70" x2="423.20" y2="51.70" stroke="#0000ff" stroke-width="0.6"/>
<line x1="431.40" y1="64.70" x2="431.40" y2="72.60" stroke="#0000ff" stroke-width="1.0"/>
<line x1="429.70" y1="64.70" x2="433.10" y2="64.70" stroke="#0000ff" stroke-width="1.0"/>
<line x1="429.70" y1="72.60" x2="433.10" y2="72.60" stroke="#0000ff" stroke-width="1.0"/>
<line x1="440.50" y1="56.50" x2="440.50" y2="80.40" stroke="#0000ff" stroke-width="1.0"/>
<line x1="438.80" y1="56.50" x2="442.20" y2="56.50" stroke="#0000ff" stroke-width="1.0"/>
<line x1="438.80" y1="80.40" x2="442.20" y2="80.40" stroke="#0000ff" stroke-width="1.0"/>
<line x1="447.90" y1="72.00" x2="447.90" y2="80.00" stroke="#0000ff" stroke-width="1.0"/>
<line x1="446.20" y1="72.00" x2="449.60" y2="72.00" stroke="#0000ff" stroke-width="1.0"/>
<line x1="446.20" y1="80.00" x2="449.60" y2="80.00" stroke="#0000ff" stroke-width="1.0"/>
<line x1="451.70" y1="71.30" x2="451.70" y2="83.70" stroke="#0000ff" stroke-width="1.0"/>
<line x1="450.00" y1="71.30" x2="453.40" y2="71.30" stroke="#0000ff" stroke-width="1.0"/>
<line x1="450.00" y1="83.70" x2="453.40" y2="83.70" stroke="#0000ff" stroke-width="1.0"/>
<line x1="467.40" y1="55.50" x2="467.40" y2="61.50" stroke="#0000ff" stroke-width="1.0"/>
<line x1="465.70" y1="55.50" x2="469.10" y2="55.50" stroke="#0000ff" stroke-width="1.0"/>
<line x1="465.70" y1="61.50" x2="469.10" y2="61.50" stroke="#0000ff" stroke-width="1.0"/>
<line x1="467.40" y1="72.50" x2="467.40" y2="79.50" stroke="#0000ff" stroke-width="1.0"/>
<line x1="465.70" y1="72.50" x2="469.10" y2="72.50" stroke="#0000ff" stroke-width="1.0"/>
<line x1="465.70" y1="79.50" x2="469.10" y2="79.50" stroke="#0000ff" stroke-width="1.0"/>
<line x1="470.20" y1="75.60" x2="470.20" y2="80.80" stroke="#0000ff" stroke-width="0.6"/>
<line x1="468.50" y1="76.70" x2="471.90" y2="76.70" stroke="#0000ff" stroke-width="0.5"/>
<line x1="468.50" y1="79.70" x2="471.90" y2="79.70" stroke="#0000ff" stroke-width="0.6"/>
<line x1="487.00" y1="83.60" x2="487.00" y2="100.60" stroke="#0000ff" stroke-width="1.0"/>
<line x1="485.30" y1="83.60" x2="488.70" y2="83.60" stroke="#0000ff" stroke-width="1.0"/>
<line x1="485.30" y1="100.60" x2="488.70" y2="100.60" stroke="#0000ff" stroke-width="1.0"/>
<line x1="498.40" y1="86.00" x2="498.40" y2="105.00" stroke="#0000ff" stroke-width="1.0"/>
<line x1="496.70" y1="86.00" x2="500.10" y2="86.00" stroke="#0000ff" stroke-width="1.0"/>
<line x1="496.70" y1="105.00" x2="500.10" y2="105.00" stroke="#0000ff" stroke-width="1.0"/>
<line x1="497.60" y1="111.20" x2="497.60" y2="129.50" stroke="#0000ff" stroke-width="1.0"/>
<line x1="495.90" y1="111.20" x2="499.30" y2="111.20" stroke="#0000ff" stroke-width="1.0"/>
<line x1="495.90" y1="129.50" x2="499.30" y2="129.50" stroke="#0000ff" stroke-width="1.0"/>
<line x1="513.00" y1="101.20" x2="513.00" y2="106.40" stroke="#0000ff" stroke-width="0.6"/>
<line x1="511.30" y1="102.30" x2="514.70" y2="102.30" stroke="#0000ff" stroke-width="0.5"/>
<line x1="511.30" y1="105.30" x2="514.70" y2="105.30" stroke="#0000ff" stroke-width="0.6"/>
<line x1="516.50" y1="62.70" x2="516.50" y2="67.90" stroke="#0000ff" stroke-width="0.6"/>
<line x1="514.80" y1="63.80" x2="518.20" y2="63.80" stroke="#0000ff" stroke-width="0.5"/>
<line x1="514.80" y1="66.80" x2="518.20" y2="66.80" stroke="#0000ff" stroke-width="0.6"/>
<line x1="554.70" y1="84.70" x2="554.70" y2="89.90" stroke="#0000ff" stroke-width="0.6"/>
<line x1="553.00" y1="85.80" x2="556.40" y2="85.80" stroke="#0000ff" stroke-width="0.5"/>
<line x1="553.00" y1="88.80" x2="556.40" y2="88.80" stroke="#0000ff" stroke-width="0.6"/>
<circle cx="336.63" cy="41.92" r="2.0" fill="#dadaff" fill-opacity="0.3" stroke="#0000ff" stroke-width="0.7" stroke-opacity="0.85"/>
<circle cx="338.40" cy="38.08" r="2.0" fill="#dadaff" fill-opacity="0.3" stroke="#0000ff" stroke-width="0.7" stroke-opacity="0.85"/>
<circle cx="339.22" cy="39.76" r="2.0" fill="#dadaff" fill-opacity="0.3" stroke="#0000ff" stroke-width="0.7" stroke-opacity="0.85"/>
<circle cx="341.39" cy="41.50" r="2.0" fill="#dadaff" fill-opacity="0.3" stroke="#0000ff" stroke-width="0.7" stroke-opacity="0.85"/>
<circle cx="342.99" cy="38.92" r="2.0" fill="#dadaff" fill-opacity="0.3" stroke="#0000ff" stroke-width="0.7" stroke-opacity="0.85"/>
<circle cx="345.30" cy="39.76" r="2.0" fill="#dadaff" fill-opacity="0.3" stroke="#0000ff" stroke-width="0.7" stroke-opacity="0.85"/>
<circle cx="346.15" cy="32.09" r="2.0" fill="#dadaff" fill-opacity="0.3" stroke="#0000ff" stroke-width="0.7" stroke-opacity="0.85"/>
<circle cx="346.97" cy="34.67" r="2.0" fill="#dadaff" fill-opacity="0.3" stroke="#0000ff" stroke-width="0.7" stroke-opacity="0.85"/>
<circle cx="348.02" cy="36.76" r="2.0" fill="#dadaff" fill-opacity="0.3" stroke="#0000ff" stroke-width="0.7" stroke-opacity="0.85"/>
<circle cx="346.56" cy="42.34" r="2.0" fill="#dadaff" fill-opacity="0.3" stroke="#0000ff" stroke-width="0.7" stroke-opacity="0.85"/>
<circle cx="352.75" cy="34.32" r="2.0" fill="#dadaff" fill-opacity="0.3" stroke="#0000ff" stroke-width="0.7" stroke-opacity="0.85"/>
<circle cx="352.75" cy="47.36" r="2.0" fill="#dadaff" fill-opacity="0.3" stroke="#0000ff" stroke-width="0.7" stroke-opacity="0.85"/>
<circle cx="356.66" cy="45.06" r="2.0" fill="#dadaff" fill-opacity="0.3" stroke="#0000ff" stroke-width="0.7" stroke-opacity="0.85"/>
<circle cx="357.38" cy="34.04" r="2.0" fill="#dadaff" fill-opacity="0.3" stroke="#0000ff" stroke-width="0.7" stroke-opacity="0.85"/>
<circle cx="364.25" cy="45.40" r="2.0" fill="#dadaff" fill-opacity="0.3" stroke="#0000ff" stroke-width="0.7" stroke-opacity="0.85"/>
<circle cx="366.05" cy="40.25" r="2.0" fill="#dadaff" fill-opacity="0.3" stroke="#0000ff" stroke-width="0.7" stroke-opacity="0.85"/>
<circle cx="365.27" cy="26.65" r="2.0" fill="#dadaff" fill-opacity="0.3" stroke="#0000ff" stroke-width="0.7" stroke-opacity="0.85"/>
<circle cx="377.24" cy="36.90" r="2.0" fill="#dadaff" fill-opacity="0.3" stroke="#0000ff" stroke-width="0.7" stroke-opacity="0.85"/>
<circle cx="395.26" cy="80.05" r="2.0" fill="#dadaff" fill-opacity="0.3" stroke="#0000ff" stroke-width="0.7" stroke-opacity="0.85"/>
<circle cx="406.14" cy="54.46" r="2.0" fill="#dadaff" fill-opacity="0.3" stroke="#0000ff" stroke-width="0.7" stroke-opacity="0.85"/>
<circle cx="406.30" cy="54.50" r="2.0" fill="#dadaff" fill-opacity="0.3" stroke="#0000ff" stroke-width="0.7" stroke-opacity="0.85"/>
<circle cx="411.60" cy="54.80" r="2.0" fill="#dadaff" fill-opacity="0.3" stroke="#0000ff" stroke-width="0.7" stroke-opacity="0.85"/>
<circle cx="417.40" cy="53.50" r="2.0" fill="#dadaff" fill-opacity="0.3" stroke="#0000ff" stroke-width="0.7" stroke-opacity="0.85"/>
<circle cx="421.50" cy="50.20" r="2.0" fill="#dadaff" fill-opacity="0.3" stroke="#0000ff" stroke-width="0.7" stroke-opacity="0.85"/>
<circle cx="431.40" cy="68.00" r="2.0" fill="#dadaff" fill-opacity="0.3" stroke="#0000ff" stroke-width="0.7" stroke-opacity="0.85"/>
<circle cx="440.50" cy="65.50" r="2.0" fill="#dadaff" fill-opacity="0.3" stroke="#0000ff" stroke-width="0.7" stroke-opacity="0.85"/>
<circle cx="447.90" cy="75.90" r="2.0" fill="#dadaff" fill-opacity="0.3" stroke="#0000ff" stroke-width="0.7" stroke-opacity="0.85"/>
<circle cx="451.70" cy="76.30" r="2.0" fill="#dadaff" fill-opacity="0.3" stroke="#0000ff" stroke-width="0.7" stroke-opacity="0.85"/>
<circle cx="467.40" cy="58.10" r="2.0" fill="#dadaff" fill-opacity="0.3" stroke="#0000ff" stroke-width="0.7" stroke-opacity="0.85"/>
<circle cx="467.40" cy="76.60" r="2.0" fill="#dadaff" fill-opacity="0.3" stroke="#0000ff" stroke-width="0.7" stroke-opacity="0.85"/>
<circle cx="470.20" cy="78.20" r="2.0" fill="#dadaff" fill-opacity="0.3" stroke="#0000ff" stroke-width="0.7" stroke-opacity="0.85"/>
<circle cx="487.00" cy="90.90" r="2.0" fill="#dadaff" fill-opacity="0.3" stroke="#0000ff" stroke-width="0.7" stroke-opacity="0.85"/>
<circle cx="498.40" cy="95.50" r="2.0" fill="#dadaff" fill-opacity="0.3" stroke="#0000ff" stroke-width="0.7" stroke-opacity="0.85"/>
<circle cx="497.60" cy="118.90" r="2.0" fill="#dadaff" fill-opacity="0.3" stroke="#0000ff" stroke-width="0.7" stroke-opacity="0.85"/>
<circle cx="513.00" cy="103.80" r="2.0" fill="#dadaff" fill-opacity="0.3" stroke="#0000ff" stroke-width="0.7" stroke-opacity="0.85"/>
<circle cx="516.50" cy="65.30" r="2.0" fill="#dadaff" fill-opacity="0.3" stroke="#0000ff" stroke-width="0.7" stroke-opacity="0.85"/>
<circle cx="554.70" cy="87.30" r="2.0" fill="#dadaff" fill-opacity="0.3" stroke="#0000ff" stroke-width="0.7" stroke-opacity="0.85"/>
</g>
<line x1="328.30" y1="29.02" x2="328.30" y2="48.82" stroke="#0000ff" stroke-width="1.4"/>
<line x1="326.50" y1="29.02" x2="330.10" y2="29.02" stroke="#0000ff" stroke-width="1.1"/>
<line x1="326.50" y1="48.82" x2="330.10" y2="48.82" stroke="#0000ff" stroke-width="1.1"/>
<line x1="326.50" y1="32.96" x2="330.10" y2="32.96" stroke="#0000ff" stroke-width="1.1"/>
<line x1="326.50" y1="42.86" x2="330.10" y2="42.86" stroke="#0000ff" stroke-width="1.1"/>
<circle cx="328.30" cy="36.90" r="1.9" fill="#fff" stroke="#0000ff" stroke-width="1.0"/>
<rect x="30.5" y="21.2" width="249.10" height="176.50" fill="none" stroke="#606060" stroke-width="1.0"/>
<rect x="316.8" y="21.3" width="249.50" height="176.50" fill="none" stroke="#606060" stroke-width="1.0"/>
<rect x="30.5" y="225.6" width="249.30" height="176.90" fill="none" stroke="#606060" stroke-width="1.0"/>
<rect x="316.8" y="225.6" width="249.50" height="176.90" fill="none" stroke="#606060" stroke-width="1.0"/>
<rect x="32.9" y="24.4" width="89.5" height="120.3" fill="none" stroke="#888" stroke-width="0.9"/>
<rect x="319.4" y="24.4" width="90.0" height="119.8" fill="none" stroke="#888" stroke-width="0.9"/>
<line x1="44.5" y1="356.9" x2="44.5" y2="365.0" stroke="#ff0000" stroke-width="0.9"/>
<line x1="42.9" y1="356.9" x2="46.1" y2="356.9" stroke="#ff0000" stroke-width="0.9"/>
<line x1="42.9" y1="365.0" x2="46.1" y2="365.0" stroke="#ff0000" stroke-width="0.9"/>
<rect x="42.9" y="359.4" width="3.2" height="3.2" fill="#ffd6d6" stroke="#ff0000" stroke-width="0.6" stroke-opacity="0.8"/>
<line x1="44.5" y1="372.0" x2="44.5" y2="380.4" stroke="#008000" stroke-width="0.9"/>
<line x1="42.9" y1="372.0" x2="46.1" y2="372.0" stroke="#008000" stroke-width="0.9"/>
<line x1="42.9" y1="380.4" x2="46.1" y2="380.4" stroke="#008000" stroke-width="0.9"/>
<rect x="42.9" y="374.59999999999997" width="3.2" height="3.2" fill="#cfe6cf" stroke="#008000" stroke-width="0.6" stroke-opacity="0.8"/>
<line x1="44.5" y1="387.0" x2="44.5" y2="395.5" stroke="#0000ff" stroke-width="0.9"/>
<line x1="42.9" y1="387.0" x2="46.1" y2="387.0" stroke="#0000ff" stroke-width="0.9"/>
<line x1="42.9" y1="395.5" x2="46.1" y2="395.5" stroke="#0000ff" stroke-width="0.9"/>
<circle cx="44.5" cy="391.2" r="1.7" fill="#dadaff" stroke="#0000ff" stroke-width="0.6"/>
<text x="58.3" y="363.8" font-size="7.6" fill="#222">LINAC</text>
<text x="58.5" y="379.2" font-size="7.6" fill="#222"><tspan font-size="5.8" dy="-2.8">137</tspan><tspan dy="2.8">Cs</tspan></text>
<text x="58.3" y="394.2" font-size="7.6" fill="#222"><tspan font-size="5.8" dy="-2.8">90</tspan><tspan dy="2.8">Y</tspan></text>
<line x1="41.40" y1="197.7" x2="41.40" y2="200.2" stroke="#333" stroke-width="0.6"/>
<text x="41.40" y="207.29999999999998" font-size="6.3" text-anchor="middle" fill="#222">0</text>
<line x1="79.05" y1="197.7" x2="79.05" y2="200.2" stroke="#333" stroke-width="0.6"/>
<text x="79.05" y="207.29999999999998" font-size="6.3" text-anchor="middle" fill="#222">5</text>
<line x1="116.70" y1="197.7" x2="116.70" y2="200.2" stroke="#333" stroke-width="0.6"/>
<text x="116.70" y="207.29999999999998" font-size="6.3" text-anchor="middle" fill="#222">10</text>
<line x1="154.35" y1="197.7" x2="154.35" y2="200.2" stroke="#333" stroke-width="0.6"/>
<text x="154.35" y="207.29999999999998" font-size="6.3" text-anchor="middle" fill="#222">15</text>
<line x1="192.00" y1="197.7" x2="192.00" y2="200.2" stroke="#333" stroke-width="0.6"/>
<text x="192.00" y="207.29999999999998" font-size="6.3" text-anchor="middle" fill="#222">20</text>
<line x1="229.65" y1="197.7" x2="229.65" y2="200.2" stroke="#333" stroke-width="0.6"/>
<text x="229.65" y="207.29999999999998" font-size="6.3" text-anchor="middle" fill="#222">25</text>
<line x1="267.30" y1="197.7" x2="267.30" y2="200.2" stroke="#333" stroke-width="0.6"/>
<text x="267.30" y="207.29999999999998" font-size="6.3" text-anchor="middle" fill="#222">30</text>
<line x1="28.0" y1="197.81" x2="30.5" y2="197.81" stroke="#333" stroke-width="0.6"/>
<text x="25.5" y="201.01" font-size="8.2" text-anchor="end" fill="#222" font-family='"Liberation Serif", serif'>10<tspan dy="-2.5" font-size="5.6">−3</tspan></text>
<line x1="29.1" y1="181.71" x2="30.5" y2="181.71" stroke="#333" stroke-width="0.5"/>
<line x1="29.1" y1="172.30" x2="30.5" y2="172.30" stroke="#333" stroke-width="0.5"/>
<line x1="29.1" y1="165.62" x2="30.5" y2="165.62" stroke="#333" stroke-width="0.5"/>
<line x1="29.1" y1="160.44" x2="30.5" y2="160.44" stroke="#333" stroke-width="0.5"/>
<line x1="29.1" y1="156.20" x2="30.5" y2="156.20" stroke="#333" stroke-width="0.5"/>
<line x1="29.1" y1="152.62" x2="30.5" y2="152.62" stroke="#333" stroke-width="0.5"/>
<line x1="29.1" y1="149.52" x2="30.5" y2="149.52" stroke="#333" stroke-width="0.5"/>
<line x1="29.1" y1="146.79" x2="30.5" y2="146.79" stroke="#333" stroke-width="0.5"/>
<line x1="28.0" y1="144.34" x2="30.5" y2="144.34" stroke="#333" stroke-width="0.6"/>
<text x="25.5" y="147.54" font-size="8.2" text-anchor="end" fill="#222" font-family='"Liberation Serif", serif'>10<tspan dy="-2.5" font-size="5.6">−2</tspan></text>
<line x1="29.1" y1="128.24" x2="30.5" y2="128.24" stroke="#333" stroke-width="0.5"/>
<line x1="29.1" y1="118.83" x2="30.5" y2="118.83" stroke="#333" stroke-width="0.5"/>
<line x1="29.1" y1="112.15" x2="30.5" y2="112.15" stroke="#333" stroke-width="0.5"/>
<line x1="29.1" y1="106.97" x2="30.5" y2="106.97" stroke="#333" stroke-width="0.5"/>
<line x1="29.1" y1="102.73" x2="30.5" y2="102.73" stroke="#333" stroke-width="0.5"/>
<line x1="29.1" y1="99.15" x2="30.5" y2="99.15" stroke="#333" stroke-width="0.5"/>
<line x1="29.1" y1="96.05" x2="30.5" y2="96.05" stroke="#333" stroke-width="0.5"/>
<line x1="29.1" y1="93.32" x2="30.5" y2="93.32" stroke="#333" stroke-width="0.5"/>
<line x1="28.0" y1="90.87" x2="30.5" y2="90.87" stroke="#333" stroke-width="0.6"/>
<text x="25.5" y="94.07" font-size="8.2" text-anchor="end" fill="#222" font-family='"Liberation Serif", serif'>10<tspan dy="-2.5" font-size="5.6">−1</tspan></text>
<line x1="29.1" y1="74.77" x2="30.5" y2="74.77" stroke="#333" stroke-width="0.5"/>
<line x1="29.1" y1="65.36" x2="30.5" y2="65.36" stroke="#333" stroke-width="0.5"/>
<line x1="29.1" y1="58.68" x2="30.5" y2="58.68" stroke="#333" stroke-width="0.5"/>
<line x1="29.1" y1="53.50" x2="30.5" y2="53.50" stroke="#333" stroke-width="0.5"/>
<line x1="29.1" y1="49.26" x2="30.5" y2="49.26" stroke="#333" stroke-width="0.5"/>
<line x1="29.1" y1="45.68" x2="30.5" y2="45.68" stroke="#333" stroke-width="0.5"/>
<line x1="29.1" y1="42.58" x2="30.5" y2="42.58" stroke="#333" stroke-width="0.5"/>
<line x1="29.1" y1="39.85" x2="30.5" y2="39.85" stroke="#333" stroke-width="0.5"/>
<line x1="28.0" y1="37.40" x2="30.5" y2="37.40" stroke="#333" stroke-width="0.6"/>
<text x="25.5" y="40.60" font-size="8.2" text-anchor="end" fill="#222" font-family='"Liberation Serif", serif'>10<tspan dy="-2.5" font-size="5.6">0</tspan></text>
<line x1="29.1" y1="21.30" x2="30.5" y2="21.30" stroke="#333" stroke-width="0.5"/>
<line x1="328.30" y1="197.8" x2="328.30" y2="200.3" stroke="#333" stroke-width="0.6"/>
<text x="328.30" y="207.4" font-size="6.3" text-anchor="middle" fill="#222">0</text>
<line x1="365.25" y1="197.8" x2="365.25" y2="200.3" stroke="#333" stroke-width="0.6"/>
<text x="365.25" y="207.4" font-size="6.3" text-anchor="middle" fill="#222">5</text>
<line x1="402.20" y1="197.8" x2="402.20" y2="200.3" stroke="#333" stroke-width="0.6"/>
<text x="402.20" y="207.4" font-size="6.3" text-anchor="middle" fill="#222">10</text>
<line x1="439.15" y1="197.8" x2="439.15" y2="200.3" stroke="#333" stroke-width="0.6"/>
<text x="439.15" y="207.4" font-size="6.3" text-anchor="middle" fill="#222">15</text>
<line x1="476.10" y1="197.8" x2="476.10" y2="200.3" stroke="#333" stroke-width="0.6"/>
<text x="476.10" y="207.4" font-size="6.3" text-anchor="middle" fill="#222">20</text>
<line x1="513.05" y1="197.8" x2="513.05" y2="200.3" stroke="#333" stroke-width="0.6"/>
<text x="513.05" y="207.4" font-size="6.3" text-anchor="middle" fill="#222">25</text>
<line x1="550.00" y1="197.8" x2="550.00" y2="200.3" stroke="#333" stroke-width="0.6"/>
<text x="550.00" y="207.4" font-size="6.3" text-anchor="middle" fill="#222">30</text>
<line x1="314.3" y1="197.91" x2="316.8" y2="197.91" stroke="#333" stroke-width="0.6"/>
<text x="311.8" y="201.11" font-size="8.2" text-anchor="end" fill="#222" font-family='"Liberation Serif", serif'>10<tspan dy="-2.5" font-size="5.6">−3</tspan></text>
<line x1="315.40000000000003" y1="181.75" x2="316.8" y2="181.75" stroke="#333" stroke-width="0.5"/>
<line x1="315.40000000000003" y1="172.30" x2="316.8" y2="172.30" stroke="#333" stroke-width="0.5"/>
<line x1="315.40000000000003" y1="165.60" x2="316.8" y2="165.60" stroke="#333" stroke-width="0.5"/>
<line x1="315.40000000000003" y1="160.40" x2="316.8" y2="160.40" stroke="#333" stroke-width="0.5"/>
<line x1="315.40000000000003" y1="156.15" x2="316.8" y2="156.15" stroke="#333" stroke-width="0.5"/>
<line x1="315.40000000000003" y1="152.55" x2="316.8" y2="152.55" stroke="#333" stroke-width="0.5"/>
<line x1="315.40000000000003" y1="149.44" x2="316.8" y2="149.44" stroke="#333" stroke-width="0.5"/>
<line x1="315.40000000000003" y1="146.70" x2="316.8" y2="146.70" stroke="#333" stroke-width="0.5"/>
<line x1="314.3" y1="144.24" x2="316.8" y2="144.24" stroke="#333" stroke-width="0.6"/>
<text x="311.8" y="147.44" font-size="8.2" text-anchor="end" fill="#222" font-family='"Liberation Serif", serif'>10<tspan dy="-2.5" font-size="5.6">−2</tspan></text>
<line x1="315.40000000000003" y1="128.08" x2="316.8" y2="128.08" stroke="#333" stroke-width="0.5"/>
<line x1="315.40000000000003" y1="118.63" x2="316.8" y2="118.63" stroke="#333" stroke-width="0.5"/>
<line x1="315.40000000000003" y1="111.93" x2="316.8" y2="111.93" stroke="#333" stroke-width="0.5"/>
<line x1="315.40000000000003" y1="106.73" x2="316.8" y2="106.73" stroke="#333" stroke-width="0.5"/>
<line x1="315.40000000000003" y1="102.48" x2="316.8" y2="102.48" stroke="#333" stroke-width="0.5"/>
<line x1="315.40000000000003" y1="98.88" x2="316.8" y2="98.88" stroke="#333" stroke-width="0.5"/>
<line x1="315.40000000000003" y1="95.77" x2="316.8" y2="95.77" stroke="#333" stroke-width="0.5"/>
<line x1="315.40000000000003" y1="93.03" x2="316.8" y2="93.03" stroke="#333" stroke-width="0.5"/>
<line x1="314.3" y1="90.57" x2="316.8" y2="90.57" stroke="#333" stroke-width="0.6"/>
<text x="311.8" y="93.77" font-size="8.2" text-anchor="end" fill="#222" font-family='"Liberation Serif", serif'>10<tspan dy="-2.5" font-size="5.6">−1</tspan></text>
<line x1="315.40000000000003" y1="74.41" x2="316.8" y2="74.41" stroke="#333" stroke-width="0.5"/>
<line x1="315.40000000000003" y1="64.96" x2="316.8" y2="64.96" stroke="#333" stroke-width="0.5"/>
<line x1="315.40000000000003" y1="58.26" x2="316.8" y2="58.26" stroke="#333" stroke-width="0.5"/>
<line x1="315.40000000000003" y1="53.06" x2="316.8" y2="53.06" stroke="#333" stroke-width="0.5"/>
<line x1="315.40000000000003" y1="48.81" x2="316.8" y2="48.81" stroke="#333" stroke-width="0.5"/>
<line x1="315.40000000000003" y1="45.21" x2="316.8" y2="45.21" stroke="#333" stroke-width="0.5"/>
<line x1="315.40000000000003" y1="42.10" x2="316.8" y2="42.10" stroke="#333" stroke-width="0.5"/>
<line x1="315.40000000000003" y1="39.36" x2="316.8" y2="39.36" stroke="#333" stroke-width="0.5"/>
<line x1="314.3" y1="36.90" x2="316.8" y2="36.90" stroke="#333" stroke-width="0.6"/>
<text x="311.8" y="40.10" font-size="8.2" text-anchor="end" fill="#222" font-family='"Liberation Serif", serif'>10<tspan dy="-2.5" font-size="5.6">0</tspan></text>
<line x1="40.80" y1="402.5" x2="40.80" y2="405.0" stroke="#333" stroke-width="0.6"/>
<text x="40.80" y="412.1" font-size="6.3" text-anchor="middle" fill="#222">0</text>
<line x1="84.26" y1="402.5" x2="84.26" y2="405.0" stroke="#333" stroke-width="0.6"/>
<text x="84.26" y="412.1" font-size="6.3" text-anchor="middle" fill="#222">2</text>
<line x1="127.72" y1="402.5" x2="127.72" y2="405.0" stroke="#333" stroke-width="0.6"/>
<text x="127.72" y="412.1" font-size="6.3" text-anchor="middle" fill="#222">4</text>
<line x1="171.18" y1="402.5" x2="171.18" y2="405.0" stroke="#333" stroke-width="0.6"/>
<text x="171.18" y="412.1" font-size="6.3" text-anchor="middle" fill="#222">6</text>
<line x1="214.64" y1="402.5" x2="214.64" y2="405.0" stroke="#333" stroke-width="0.6"/>
<text x="214.64" y="412.1" font-size="6.3" text-anchor="middle" fill="#222">8</text>
<line x1="258.10" y1="402.5" x2="258.10" y2="405.0" stroke="#333" stroke-width="0.6"/>
<text x="258.10" y="412.1" font-size="6.3" text-anchor="middle" fill="#222">10</text>
<line x1="28.0" y1="402.10" x2="30.5" y2="402.10" stroke="#333" stroke-width="0.6"/>
<text x="25.5" y="405.30" font-size="8.2" text-anchor="end" fill="#222" font-family='"Liberation Serif", serif'>10<tspan dy="-2.5" font-size="5.6">−2</tspan></text>
<line x1="29.1" y1="378.91" x2="30.5" y2="378.91" stroke="#333" stroke-width="0.5"/>
<line x1="29.1" y1="365.34" x2="30.5" y2="365.34" stroke="#333" stroke-width="0.5"/>
<line x1="29.1" y1="355.71" x2="30.5" y2="355.71" stroke="#333" stroke-width="0.5"/>
<line x1="29.1" y1="348.24" x2="30.5" y2="348.24" stroke="#333" stroke-width="0.5"/>
<line x1="29.1" y1="342.14" x2="30.5" y2="342.14" stroke="#333" stroke-width="0.5"/>
<line x1="29.1" y1="336.99" x2="30.5" y2="336.99" stroke="#333" stroke-width="0.5"/>
<line x1="29.1" y1="332.52" x2="30.5" y2="332.52" stroke="#333" stroke-width="0.5"/>
<line x1="29.1" y1="328.58" x2="30.5" y2="328.58" stroke="#333" stroke-width="0.5"/>
<line x1="28.0" y1="325.05" x2="30.5" y2="325.05" stroke="#333" stroke-width="0.6"/>
<text x="25.5" y="328.25" font-size="8.2" text-anchor="end" fill="#222" font-family='"Liberation Serif", serif'>10<tspan dy="-2.5" font-size="5.6">−1</tspan></text>
<line x1="29.1" y1="301.86" x2="30.5" y2="301.86" stroke="#333" stroke-width="0.5"/>
<line x1="29.1" y1="288.29" x2="30.5" y2="288.29" stroke="#333" stroke-width="0.5"/>
<line x1="29.1" y1="278.66" x2="30.5" y2="278.66" stroke="#333" stroke-width="0.5"/>
<line x1="29.1" y1="271.19" x2="30.5" y2="271.19" stroke="#333" stroke-width="0.5"/>
<line x1="29.1" y1="265.09" x2="30.5" y2="265.09" stroke="#333" stroke-width="0.5"/>
<line x1="29.1" y1="259.94" x2="30.5" y2="259.94" stroke="#333" stroke-width="0.5"/>
<line x1="29.1" y1="255.47" x2="30.5" y2="255.47" stroke="#333" stroke-width="0.5"/>
<line x1="29.1" y1="251.53" x2="30.5" y2="251.53" stroke="#333" stroke-width="0.5"/>
<line x1="28.0" y1="248.00" x2="30.5" y2="248.00" stroke="#333" stroke-width="0.6"/>
<text x="25.5" y="251.20" font-size="8.2" text-anchor="end" fill="#222" font-family='"Liberation Serif", serif'>10<tspan dy="-2.5" font-size="5.6">0</tspan></text>
<line x1="327.30" y1="402.5" x2="327.30" y2="405.0" stroke="#333" stroke-width="0.6"/>
<text x="327.30" y="412.1" font-size="6.3" text-anchor="middle" fill="#222">0</text>
<line x1="370.76" y1="402.5" x2="370.76" y2="405.0" stroke="#333" stroke-width="0.6"/>
<text x="370.76" y="412.1" font-size="6.3" text-anchor="middle" fill="#222">2</text>
<line x1="414.22" y1="402.5" x2="414.22" y2="405.0" stroke="#333" stroke-width="0.6"/>
<text x="414.22" y="412.1" font-size="6.3" text-anchor="middle" fill="#222">4</text>
<line x1="457.68" y1="402.5" x2="457.68" y2="405.0" stroke="#333" stroke-width="0.6"/>
<text x="457.68" y="412.1" font-size="6.3" text-anchor="middle" fill="#222">6</text>
<line x1="501.14" y1="402.5" x2="501.14" y2="405.0" stroke="#333" stroke-width="0.6"/>
<text x="501.14" y="412.1" font-size="6.3" text-anchor="middle" fill="#222">8</text>
<line x1="544.60" y1="402.5" x2="544.60" y2="405.0" stroke="#333" stroke-width="0.6"/>
<text x="544.60" y="412.1" font-size="6.3" text-anchor="middle" fill="#222">10</text>
<line x1="314.3" y1="402.50" x2="316.8" y2="402.50" stroke="#333" stroke-width="0.6"/>
<text x="311.8" y="405.70" font-size="8.2" text-anchor="end" fill="#222" font-family='"Liberation Serif", serif'>10<tspan dy="-2.5" font-size="5.6">−2</tspan></text>
<line x1="315.40000000000003" y1="379.32" x2="316.8" y2="379.32" stroke="#333" stroke-width="0.5"/>
<line x1="315.40000000000003" y1="365.76" x2="316.8" y2="365.76" stroke="#333" stroke-width="0.5"/>
<line x1="315.40000000000003" y1="356.14" x2="316.8" y2="356.14" stroke="#333" stroke-width="0.5"/>
<line x1="315.40000000000003" y1="348.68" x2="316.8" y2="348.68" stroke="#333" stroke-width="0.5"/>
<line x1="315.40000000000003" y1="342.58" x2="316.8" y2="342.58" stroke="#333" stroke-width="0.5"/>
<line x1="315.40000000000003" y1="337.43" x2="316.8" y2="337.43" stroke="#333" stroke-width="0.5"/>
<line x1="315.40000000000003" y1="332.96" x2="316.8" y2="332.96" stroke="#333" stroke-width="0.5"/>
<line x1="315.40000000000003" y1="329.02" x2="316.8" y2="329.02" stroke="#333" stroke-width="0.5"/>
<line x1="314.3" y1="325.50" x2="316.8" y2="325.50" stroke="#333" stroke-width="0.6"/>
<text x="311.8" y="328.70" font-size="8.2" text-anchor="end" fill="#222" font-family='"Liberation Serif", serif'>10<tspan dy="-2.5" font-size="5.6">−1</tspan></text>
<line x1="315.40000000000003" y1="302.32" x2="316.8" y2="302.32" stroke="#333" stroke-width="0.5"/>
<line x1="315.40000000000003" y1="288.76" x2="316.8" y2="288.76" stroke="#333" stroke-width="0.5"/>
<line x1="315.40000000000003" y1="279.14" x2="316.8" y2="279.14" stroke="#333" stroke-width="0.5"/>
<line x1="315.40000000000003" y1="271.68" x2="316.8" y2="271.68" stroke="#333" stroke-width="0.5"/>
<line x1="315.40000000000003" y1="265.58" x2="316.8" y2="265.58" stroke="#333" stroke-width="0.5"/>
<line x1="315.40000000000003" y1="260.43" x2="316.8" y2="260.43" stroke="#333" stroke-width="0.5"/>
<line x1="315.40000000000003" y1="255.96" x2="316.8" y2="255.96" stroke="#333" stroke-width="0.5"/>
<line x1="315.40000000000003" y1="252.02" x2="316.8" y2="252.02" stroke="#333" stroke-width="0.5"/>
<line x1="314.3" y1="248.50" x2="316.8" y2="248.50" stroke="#333" stroke-width="0.6"/>
<text x="311.8" y="251.70" font-size="8.2" text-anchor="end" fill="#222" font-family='"Liberation Serif", serif'>10<tspan dy="-2.5" font-size="5.6">0</tspan></text>
<text x="155" y="16.1" font-size="7.6" text-anchor="middle" fill="#222">DLD-1</text>
<text x="441.5" y="16.1" font-size="7.6" text-anchor="middle" fill="#222">HT-29</text>
<text x="155" y="216.2" font-size="7.6" text-anchor="middle" fill="#222">Dose (Gy)</text>
<text x="441.5" y="216.2" font-size="7.6" text-anchor="middle" fill="#222">Dose (Gy)</text>
<text x="155" y="420.5" font-size="7.6" text-anchor="middle" fill="#222">Dose (Gy)</text>
<text x="441.5" y="420.5" font-size="7.6" text-anchor="middle" fill="#222">Dose (Gy)</text>
<text x="7.6" y="110" font-size="7.6" text-anchor="middle" fill="#222" transform="rotate(-90 7.6 110)">SF</text>
<text x="7.0" y="314.4" font-size="7.6" text-anchor="middle" fill="#222" transform="rotate(-90 7.0 314.4)">SF</text>
<text x="293.5" y="110" font-size="7.6" text-anchor="middle" fill="#222" transform="rotate(-90 293.5 110)">SF</text>
<text x="293.5" y="314.4" font-size="7.6" text-anchor="middle" fill="#222" transform="rotate(-90 293.5 314.4)">SF</text>
<text x="4.6" y="9.0" font-size="11.5" fill="#111" stroke="#111" stroke-width="0.25" font-family='"Liberation Serif", serif'>A</text>
<text x="288.0" y="9.0" font-size="11.5" fill="#111" stroke="#111" stroke-width="0.25" font-family='"Liberation Serif", serif'>B</text>
<text x="4.6" y="222.6" font-size="11.5" fill="#111" stroke="#111" stroke-width="0.25" font-family='"Liberation Serif", serif'>C</text>
<text x="288.0" y="222.6" font-size="11.5" fill="#111" stroke="#111" stroke-width="0.25" font-family='"Liberation Serif", serif'>D</text>
</svg></body></html>
